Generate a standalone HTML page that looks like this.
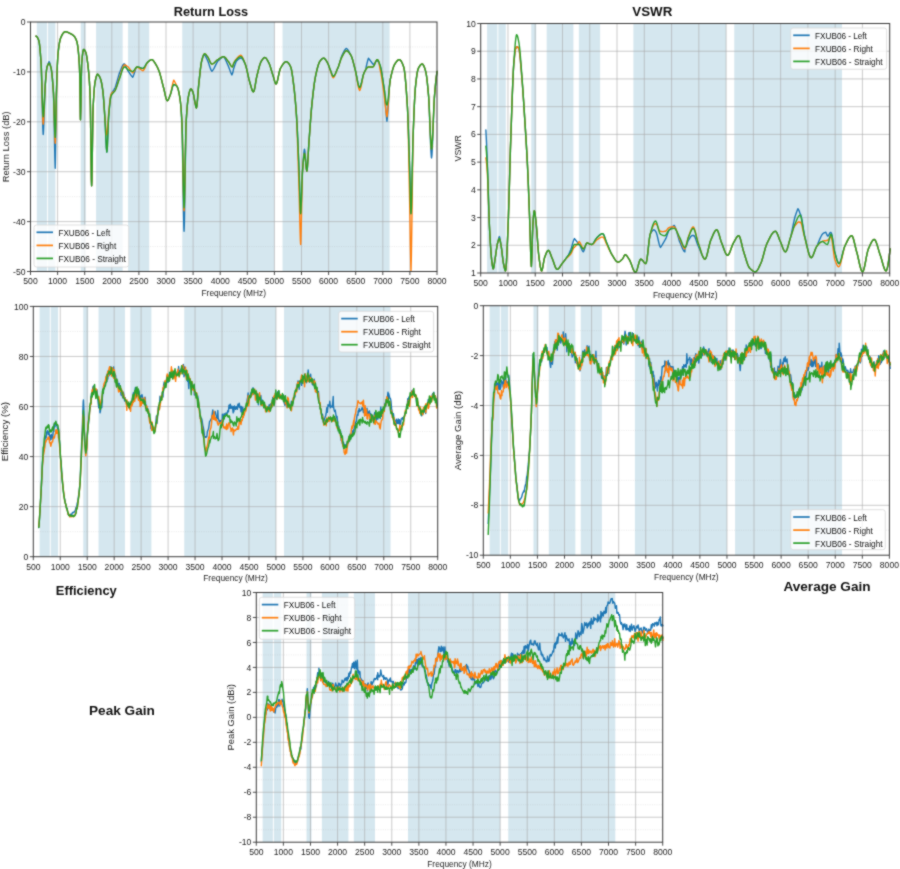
<!DOCTYPE html>
<html><head><meta charset="utf-8"><title>Antenna plots</title><style>
html,body{margin:0;padding:0;background:#fff;}
body{width:900px;height:869px;overflow:hidden;}
#wrap{width:900px;height:869px;}
svg{display:block;font-family:"Liberation Sans",sans-serif;}
.bd{fill:#d5e7ef;}
.g{stroke:#a8a8a8;stroke-opacity:0.6;stroke-width:1;fill:none;}
.gm{stroke:#a0a0a0;stroke-opacity:0.22;stroke-width:1;stroke-dasharray:1 1.3;fill:none;}
.cv{fill:none;stroke-width:1.4;stroke-linejoin:round;stroke-linecap:round;}
.sp{fill:none;stroke:#3a3a3a;stroke-width:1;}
.tk{stroke:#3a3a3a;stroke-width:0.9;}
.tl{font-size:8.6px;fill:#1a1a1a;}
.al{font-size:8.3px;fill:#1a1a1a;}
.lg{fill:#fff;fill-opacity:0.8;stroke:#d8d8d8;stroke-width:0.8;}
.ll{stroke-width:1.7;}
.lt{font-size:9.8px;fill:#111;}
.tt{font-size:13.3px;font-weight:bold;fill:#111;}
</style></head><body><div id="wrap">
<svg width="900" height="869" viewBox="0 0 900 869">
<defs><filter id="soft" x="0" y="0" width="900" height="869" filterUnits="userSpaceOnUse" color-interpolation-filters="sRGB"><feConvolveMatrix order="3" kernelMatrix="1 2 1 2 12 2 1 2 1" divisor="24" edgeMode="duplicate"/></filter></defs>
<g filter="url(#soft)">
<rect x="0" y="0" width="900" height="869" fill="#fff"/>
<rect x="36.84" y="22" width="10.24" height="249.5" class="bd"/>
<rect x="48.06" y="22" width="7.37" height="249.5" class="bd"/>
<rect x="80.74" y="22" width="4.93" height="249.5" class="bd"/>
<rect x="96.08" y="22" width="26.56" height="249.5" class="bd"/>
<rect x="128.06" y="22" width="21.14" height="249.5" class="bd"/>
<rect x="182.26" y="22" width="92.14" height="249.5" class="bd"/>
<rect x="282.53" y="22" width="107.05" height="249.5" class="bd"/>
<line x1="30.5" y1="246.55" x2="437" y2="246.55" class="gm"/>
<line x1="30.5" y1="196.65" x2="437" y2="196.65" class="gm"/>
<line x1="30.5" y1="146.75" x2="437" y2="146.75" class="gm"/>
<line x1="30.5" y1="96.85" x2="437" y2="96.85" class="gm"/>
<line x1="30.5" y1="46.95" x2="437" y2="46.95" class="gm"/>
<line x1="30.5" y1="221.6" x2="437" y2="221.6" class="g"/>
<line x1="30.5" y1="171.7" x2="437" y2="171.7" class="g"/>
<line x1="30.5" y1="121.8" x2="437" y2="121.8" class="g"/>
<line x1="30.5" y1="71.9" x2="437" y2="71.9" class="g"/>
<line x1="57.6" y1="22" x2="57.6" y2="271.5" class="g"/>
<line x1="84.7" y1="22" x2="84.7" y2="271.5" class="g"/>
<line x1="111.8" y1="22" x2="111.8" y2="271.5" class="g"/>
<line x1="138.9" y1="22" x2="138.9" y2="271.5" class="g"/>
<line x1="166" y1="22" x2="166" y2="271.5" class="g"/>
<line x1="193.1" y1="22" x2="193.1" y2="271.5" class="g"/>
<line x1="220.2" y1="22" x2="220.2" y2="271.5" class="g"/>
<line x1="247.3" y1="22" x2="247.3" y2="271.5" class="g"/>
<line x1="274.4" y1="22" x2="274.4" y2="271.5" class="g"/>
<line x1="301.5" y1="22" x2="301.5" y2="271.5" class="g"/>
<line x1="328.6" y1="22" x2="328.6" y2="271.5" class="g"/>
<line x1="355.7" y1="22" x2="355.7" y2="271.5" class="g"/>
<line x1="382.8" y1="22" x2="382.8" y2="271.5" class="g"/>
<line x1="409.9" y1="22" x2="409.9" y2="271.5" class="g"/>
<path d="M35.87 36.14L36.37 36.29L36.87 36.72L37.37 37.41L37.87 38.32L38.37 39.43L38.8 40.54L38.87 40.74L39.37 43.34L39.87 47.67L40.37 53.35L40.87 59.99L41.15 64.02L41.37 70.08L41.87 89.44L42.37 111.08L42.87 128.45L43.2 134.44L43.37 132.6L43.87 122.58L44.37 108.59L44.87 94.06L45.26 84.56L45.37 83.2L45.87 76.93L46.37 71.32L46.87 67.55L47.02 66.95L47.37 65.96L47.87 64.46L48.37 63L48.87 61.96L49.07 61.67L49.37 62.06L49.87 63.28L50.37 65.05L50.87 67.21L51.13 68.42L51.37 69.57L51.87 73.22L52.37 78.33L52.87 84.61L53.37 91.75L53.48 93.36L53.87 109.47L54.37 134.8L54.87 157.74L55.24 168.19L55.37 163.55L55.87 131.84L56.37 95.77L56.41 93.36L56.87 78.82L57.37 64.49L57.87 55.3L57.88 55.21L58.37 50.48L58.87 46.49L59.37 43.26L59.87 40.72L60.37 38.82L60.81 37.61L60.87 37.48L61.37 36.38L61.87 35.36L62.37 34.44L62.87 33.63L63.37 32.94L63.87 32.4L64.37 32L64.87 31.78L65.21 31.74L65.37 31.74L65.87 31.79L66.37 31.89L66.87 32.03L67.37 32.21L67.87 32.41L68.37 32.63L68.87 32.86L69.37 33.09L69.61 33.2L69.87 33.32L70.37 33.55L70.87 33.8L71.37 34.08L71.87 34.38L72.37 34.72L72.87 35.09L73.37 35.52L73.87 35.99L74.02 36.14L74.37 36.53L74.87 37.2L75.37 38.02L75.87 39.03L76.37 40.26L76.87 41.74L76.95 42.01L77.37 43.84L77.87 47.16L78.37 51.59L78.71 55.21L78.87 57.09L79.37 65.12L79.87 78.16L79.88 78.69L80.37 116.91L80.47 119.77L80.87 106.13L81.37 74L81.65 64.02L81.87 61.17L82.37 55.8L82.87 51.94L83.37 49.77L83.7 49.34L83.87 49.37L84.37 49.74L84.87 50.46L85.37 51.42L85.75 52.28L85.87 52.57L86.37 54.5L86.87 57.33L87.37 60.88L87.87 64.94L88.1 66.95L88.37 69.36L88.87 74.51L89.37 81.13L89.87 89.96L90.16 96.29L90.37 105.16L90.87 143.72L91.37 179.56L91.62 185.79L91.87 180.69L92.37 149.9L92.87 116.21L93.09 108.03L93.37 102.41L93.87 94.02L94.37 87.7L94.87 83.28L95.14 81.62L95.37 80.5L95.87 78.19L96.37 76.29L96.87 74.94L97.37 74.31L97.49 74.29L97.87 74.39L98.37 74.8L98.87 75.48L99.37 76.37L99.87 77.41L100.37 78.55L100.43 78.69L100.87 79.98L101.37 82L101.87 84.56L102.37 87.62L102.77 90.43L102.87 91.16L103.37 96.18L103.87 102.68L104.37 109.99L104.83 116.84L104.87 117.46L105.37 127.2L105.87 138.53L106.37 147.97L106.87 152.05L106.88 152.05L107.37 146.66L107.87 134.26L108.37 121.54L108.64 116.84L108.87 114.05L109.37 108.19L109.87 102.89L110.37 98.66L110.87 95.84L110.99 95.41L111.37 94.32L111.87 93.13L112.37 92.16L112.87 91.33L113.37 90.57L113.87 89.81L114.37 88.98L114.87 88.01L115.1 87.49L115.37 86.78L115.87 85.33L116.37 83.73L116.87 82.03L117.37 80.26L117.87 78.46L118.37 76.66L118.87 74.91L119.37 73.24L119.5 72.82L119.87 72.06L120.37 70.9L120.87 69.65L121.37 68.38L121.87 67.15L122.37 66.03L122.87 65.08L123.37 64.38L123.87 63.98L124.37 63.96L124.49 64.02L124.87 64.52L125.37 65.36L125.87 66.33L126.37 67.4L126.87 68.5L127.37 69.58L127.87 70.59L128.3 71.35L128.37 71.45L128.87 72.19L129.37 72.92L129.87 73.65L130.37 74.36L130.87 75.04L131.37 75.69L131.87 76.31L132.37 76.87L132.7 77.22L132.87 76.93L133.37 75.84L133.87 74.52L134.37 73.03L134.87 71.47L135.37 69.89L135.87 68.39L136.37 67.28L136.87 66.99L137.11 66.95L137.37 66.96L137.87 67.02L138.37 67.13L138.87 67.27L139.37 67.44L139.87 67.62L140.37 67.81L140.87 67.99L141.37 68.15L141.87 68.28L142.37 68.37L142.87 68.42L142.97 68.42L143.37 68.31L143.87 67.92L144.37 67.29L144.87 66.51L145.37 65.63L145.87 64.72L146.37 63.86L146.87 63.12L147.37 62.56L147.38 62.55L147.87 62.1L148.37 61.64L148.87 61.19L149.37 60.76L149.87 60.37L150.37 60.05L150.87 59.81L151.37 59.66L151.78 59.61L151.87 59.62L152.37 59.78L152.87 60.16L153.37 60.7L153.87 61.36L154.37 62.11L154.87 62.89L155.37 63.68L155.59 64.02L155.87 64.44L156.37 65.28L156.87 66.21L157.37 67.22L157.87 68.31L158.37 69.47L158.87 70.72L159.11 71.35L159.37 72.05L159.87 73.59L160.37 75.32L160.87 77.17L161.37 79.12L161.87 81.12L162.37 83.13L162.87 85.09L163.37 86.96L163.52 87.49L163.87 88.85L164.37 91.01L164.87 93.3L165.37 95.56L165.87 97.6L166.37 99.25L166.87 100.34L167.33 100.7L167.37 100.69L167.87 100.37L168.37 99.57L168.87 98.45L169.37 97.15L169.87 95.82L170.26 94.83L170.37 94.57L170.87 93.05L171.37 91.2L171.87 89.25L172.37 87.4L172.87 85.87L173.37 84.85L173.79 84.56L173.87 84.56L174.37 84.63L174.87 84.79L175.37 85.03L175.87 85.35L176.37 85.73L176.72 86.02L176.87 86.18L177.37 87.04L177.87 88.39L178.37 90.17L178.87 92.32L179.37 94.77L179.65 96.29L179.87 97.56L180.37 101.31L180.87 106.29L181.37 114.57L181.87 126.34L182 129.75L182.37 144.27L182.87 174.52L183.37 206.3L183.87 228.06L184.06 231.28L184.37 223.12L184.87 196.07L185.37 161.88L185.87 132.09L186.11 122.7L186.37 118.27L186.87 110.8L187.37 104.75L187.87 100.08L188.37 96.75L188.46 96.29L188.87 94.33L189.37 92.17L189.87 90.43L190.37 89.3L190.81 88.96L190.87 88.96L191.37 89.25L191.87 89.91L192.37 90.84L192.86 91.89L192.87 91.91L193.37 93.69L193.87 96.36L194.37 99.32L194.87 101.96L194.91 102.16L195.37 104.46L195.87 106.9L196.37 108.03L196.38 108.03L196.87 106.13L197.37 101.21L197.87 94.78L198.37 88.34L198.73 84.56L198.87 83.29L199.37 78.61L199.87 73.9L200.37 69.44L200.87 65.52L201.37 62.41L201.66 61.08L201.87 60.3L202.37 58.46L202.87 56.79L203.37 55.59L203.87 54.98L204.37 54.84L204.6 54.97L204.87 55.24L205.37 55.93L205.87 56.82L206.37 57.84L206.87 58.93L207.37 60.01L207.53 60.35L207.87 61.11L208.37 62.42L208.87 63.88L209.37 65.41L209.87 66.94L210.37 68.37L210.87 69.63L211.37 70.63L211.87 71.29L211.93 71.35L212.37 70.87L212.87 70.19L213.37 69.41L213.87 68.55L214.37 67.63L214.87 66.65L215.37 65.66L215.87 64.65L216.37 63.67L216.87 62.71L217.37 61.81L217.8 61.08L217.87 61.02L218.37 60.59L218.87 60.13L219.37 59.67L219.87 59.21L220.37 58.76L220.87 58.33L221.37 57.93L221.87 57.56L222.37 57.24L222.87 56.97L223.37 56.77L223.67 56.68L223.87 56.89L224.37 57.57L224.87 58.41L225.37 59.38L225.87 60.45L226.37 61.58L226.87 62.75L227.37 63.91L227.87 65.04L228.07 65.48L228.37 66.15L228.87 67.4L229.37 68.74L229.87 70.13L230.37 71.51L230.87 72.8L231.37 73.96L231.87 74.93L232.37 73.79L232.47 73.65L232.87 72.3L233.37 69.78L233.47 69.4L233.87 68.05L234.37 66.47L234.87 65L235.37 63.63L235.87 62.35L236.37 61.16L236.4 61.08L236.87 60.64L237.37 60.16L237.87 59.7L238.37 59.28L238.87 58.9L239.37 58.58L239.87 58.34L240.37 58.19L240.8 58.15L240.87 58.13L241.37 58.14L241.87 58.41L242.37 58.91L242.87 59.58L243.37 60.4L243.87 61.32L244.37 62.31L244.87 63.33L245.2 64.02L245.37 64.43L245.87 65.95L246.37 67.82L246.87 69.92L247.37 72.18L247.87 74.5L248.37 76.77L248.87 78.91L249.37 80.82L249.61 81.62L249.87 82.49L250.37 84.25L250.87 86.06L251.37 87.81L251.87 89.38L252.37 90.65L252.87 91.53L253.37 91.89L253.42 91.89L253.87 91.37L254.37 89.74L254.87 87.31L255.37 84.41L255.87 81.35L256.37 78.46L256.87 76.05L256.94 75.75L257.37 74.07L257.87 72.07L258.37 70.07L258.87 68.13L259.37 66.3L259.87 64.63L260.37 63.16L260.87 61.95L261.34 61.08L261.37 61.04L261.87 60.3L262.37 59.58L262.87 58.93L263.37 58.38L263.87 57.94L264.37 57.66L264.87 57.56L264.87 57.56L265.37 57.69L265.87 58.06L266.37 58.63L266.87 59.34L267.37 60.17L267.87 61.06L268.37 61.98L268.68 62.55L268.87 62.91L269.37 64.04L269.87 65.38L270.37 66.89L270.87 68.51L271.37 70.2L271.87 71.9L272.37 73.55L272.87 75.12L273.08 75.75L273.37 76.65L273.87 78.43L274.37 80.28L274.87 81.97L275.37 83.27L275.87 83.93L276.02 83.97L276.37 83.73L276.87 82.68L277.37 80.98L277.87 78.83L278.37 76.43L278.87 74L279.37 71.73L279.87 69.83L280.37 68.51L280.42 68.42L280.87 67.62L281.37 66.76L281.87 65.92L282.37 65.13L282.87 64.39L283.37 63.72L283.87 63.12L284.37 62.61L284.87 62.2L285.37 61.9L285.87 61.72L286.29 61.67L286.37 61.67L286.87 61.78L287.37 62.05L287.87 62.46L288.37 63.01L288.87 63.68L289.37 64.46L289.87 65.33L290.37 66.3L290.69 66.95L290.87 67.39L291.37 69.25L291.87 71.89L292.37 75.11L292.87 78.74L293.37 82.58L293.62 84.56L293.87 86.53L294.37 90.9L294.87 95.81L295.37 101.3L295.87 107.39L296.37 114.12L296.56 116.84L296.87 121.83L297.37 131.34L297.87 142.21L298.37 153.91L298.87 165.87L298.9 166.72L299.37 180.78L299.87 198.24L300.37 211.12L300.67 213.67L300.87 212.43L301.37 201.5L301.87 185.82L302.37 173.43L302.43 172.59L302.87 165.7L303.37 158.49L303.87 152.77L304.37 149.44L304.48 149.11L304.87 151.13L305.37 156.44L305.87 162.92L306.37 168.51L306.83 171.12L306.87 171.1L307.37 167.73L307.87 160.35L308.37 151.43L308.87 143.41L308.88 143.25L309.37 136.59L309.87 129.57L310.37 122.6L310.87 115.95L311.37 109.86L311.82 105.1L311.87 104.58L312.37 99.8L312.87 95.22L313.37 90.89L313.87 86.87L314.37 83.18L314.87 79.9L315.37 77.05L315.63 75.75L315.87 74.64L316.37 72.39L316.87 70.25L317.37 68.25L317.87 66.42L318.37 64.79L318.87 63.37L319.37 62.21L319.87 61.31L320.03 61.08L320.37 60.65L320.87 60.03L321.37 59.46L321.87 58.97L322.37 58.58L322.87 58.3L323.37 58.16L323.55 58.15L323.87 58.19L324.37 58.44L324.87 58.88L325.37 59.46L325.87 60.16L326.37 60.93L326.87 61.74L327.37 62.55L327.37 62.55L327.87 63.5L328.37 64.7L328.87 66.04L329.37 67.44L329.87 68.8L330.3 69.88L330.37 70.04L330.87 71.38L331.37 72.83L331.87 74.24L332.37 75.4L332.87 76.16L333.24 76.34L333.37 76.33L333.87 76.06L334.37 75.5L334.87 74.7L335.37 73.71L335.87 72.59L336.37 71.4L336.87 70.19L337.37 69.01L337.64 68.42L337.87 67.9L338.37 66.64L338.87 65.25L339.37 63.64L339.87 61.87L340.37 60.14L340.87 58.48L341.37 56.96L341.87 55.62L342.04 55.21L342.37 54.55L342.87 53.53L343.37 52.51L343.87 51.54L344.37 50.64L344.87 49.85L345.37 49.2L345.87 48.74L346.37 48.48L346.44 48.46L346.87 48.75L347.37 49.22L347.87 49.83L348.37 50.55L348.87 51.37L349.37 52.27L349.87 53.23L350.37 54.24L350.84 55.21L350.87 55.25L351.37 56.22L351.87 57.49L352.37 59.02L352.87 60.75L353.37 62.62L353.87 64.57L354.37 66.54L354.87 68.48L355.25 69.88L355.37 70.35L355.87 72.52L356.37 75.01L356.87 77.66L357.37 80.29L357.87 82.75L358.37 84.86L358.87 86.45L359.37 87.35L359.65 87.49L359.87 87.4L360.37 86.62L360.87 85.19L361.37 83.29L361.87 81.11L362.37 78.82L362.87 76.62L363.37 74.69L363.87 73.21L364.05 72.82L364.37 72.21L364.87 71.25L365.37 70.32L365.87 68.39L366.37 66.1L366.87 63.93L367.37 61.9L367.87 60.04L368.37 58.39L368.45 58.15L368.87 58.71L369.37 59.37L369.87 60.04L370.37 60.71L370.87 61.37L371.37 62.04L371.87 62.71L372.37 63.37L372.85 64.02L372.87 64.03L373.37 64.25L373.87 64.04L374.37 63.52L374.87 62.82L375.37 62.08L375.87 61.42L376.37 60.97L376.87 60.86L377.25 61.08L377.37 61.06L377.87 61.25L378.37 61.84L378.87 62.76L379.37 63.89L379.87 65.15L380.19 65.97L380.37 66.49L380.87 68.35L381.37 70.75L381.87 73.63L382.37 76.86L382.87 80.21L383.37 83.53L383.87 86.69L384 87.49L384.37 89.9L384.87 95.65L385.37 103.05L385.87 110.05L386.37 116.13L386.87 120.75L386.94 121.24L387.37 117.39L387.87 111.11L388.37 103.46L388.87 95.07L389.37 87.14L389.87 82.57L390.37 79.13L390.46 78.69L390.87 76.8L391.37 74.61L391.87 72.56L392.37 70.65L392.87 68.92L393.37 67.36L393.87 66.02L394.37 64.89L394.86 64.02L394.87 64L395.37 63.24L395.87 62.51L396.37 61.82L396.87 61.19L397.37 60.64L397.87 60.19L398.37 59.86L398.87 59.66L399.26 59.61L399.37 59.62L399.87 59.78L400.37 60.16L400.87 60.74L401.37 61.5L401.87 62.44L402.37 63.53L402.87 64.75L403.37 66.1L403.66 66.95L403.87 67.67L404.37 70.28L404.87 74.06L405.37 78.87L405.87 84.61L406.37 91.17L406.87 98.42L407.37 106.26L407.48 108.03L407.87 115.98L408.37 129.64L408.87 145.5L409.37 161.69L409.53 166.72L409.87 179.08L410.37 199.81L410.87 212.95L411 213.67L411.37 208.62L411.87 189.98L412.37 165.4L412.87 143.26L413.05 137.38L413.37 128.85L413.87 115.92L414.37 104.31L414.87 94.71L415.37 87.82L415.4 87.49L415.87 82.96L416.37 78.65L416.87 74.96L417.37 71.97L417.87 69.74L418.33 68.42L418.37 68.35L418.87 67.38L419.37 66.51L419.87 65.75L420.37 65.1L420.87 64.59L421.37 64.24L421.87 64.05L422.15 64.02L422.37 64.05L422.87 64.41L423.37 65.1L423.87 66.09L424.37 67.32L424.87 68.75L425.37 70.34L425.67 71.35L425.87 72.12L426.37 74.84L426.87 78.52L427.37 82.99L427.87 88.07L428.37 93.59L428.61 96.29L428.87 100.81L429.37 112.28L429.87 125.76L430.37 139.13L430.87 150.25L431.37 157L431.54 157.92L431.87 155.49L432.37 147.23L432.87 135.3L433.37 121.74L433.87 108.62L434.37 98.02L434.47 96.29L434.87 91.54L435.37 85.91L435.87 80.82L436.37 76.41L436.87 72.8L437.12 71.35" stroke="#1f77b4" class="cv"/>
<path d="M35.87 36.14L36.37 36.29L36.87 36.72L37.37 37.41L37.87 38.32L38.37 39.43L38.8 40.54L38.87 40.74L39.37 43.34L39.87 47.67L40.37 53.35L40.87 59.99L41.15 64.02L41.37 68.99L41.87 85.85L42.37 104.99L42.87 119.86L43.2 124.17L43.37 123.15L43.87 115.63L44.37 104.14L44.87 92.11L45.26 84.56L45.37 83.2L45.87 76.93L46.37 71.32L46.87 67.55L47.02 66.95L47.37 65.96L47.87 64.77L48.37 63.91L48.87 63.47L49.07 63.43L49.37 63.57L49.87 64.36L50.37 65.7L50.87 67.43L51.13 68.42L51.37 69.57L51.87 73.22L52.37 78.33L52.87 84.61L53.37 91.75L53.48 93.36L53.87 103.89L54.37 122.14L54.87 138L55.24 143.25L55.37 141.65L55.87 121.41L56.37 96.79L56.41 95.32L56.87 79.25L57.37 64.49L57.87 55.3L57.88 55.21L58.37 50.48L58.87 46.49L59.37 43.26L59.87 40.72L60.37 38.82L60.81 37.61L60.87 37.48L61.37 36.38L61.87 35.36L62.37 34.44L62.87 33.63L63.37 32.94L63.87 32.4L64.37 32L64.87 31.78L65.21 31.74L65.37 31.74L65.87 31.79L66.37 31.89L66.87 32.03L67.37 32.21L67.87 32.41L68.37 32.63L68.87 32.86L69.37 33.09L69.61 33.2L69.87 33.32L70.37 33.55L70.87 33.8L71.37 34.08L71.87 34.38L72.37 34.72L72.87 35.09L73.37 35.52L73.87 35.99L74.02 36.14L74.37 36.53L74.87 37.2L75.37 38.02L75.87 39.03L76.37 40.26L76.87 41.74L76.95 42.01L77.37 43.84L77.87 47.16L78.37 51.59L78.71 55.21L78.87 57.09L79.37 65.12L79.87 78.16L79.88 78.69L80.37 116.91L80.47 119.77L80.87 106.13L81.37 74L81.65 64.02L81.87 61.17L82.37 55.8L82.87 51.94L83.37 49.77L83.7 49.34L83.87 49.37L84.37 49.74L84.87 50.46L85.37 51.42L85.75 52.28L85.87 52.57L86.37 54.5L86.87 57.33L87.37 60.88L87.87 64.94L88.1 66.95L88.37 69.36L88.87 74.51L89.37 81.13L89.87 89.96L90.16 96.29L90.37 105.16L90.87 143.72L91.37 179.56L91.62 185.79L91.87 180.69L92.37 149.9L92.87 116.21L93.09 108.03L93.37 102.41L93.87 94.02L94.37 87.7L94.87 83.28L95.14 81.62L95.37 80.5L95.87 78.19L96.37 76.29L96.87 74.94L97.37 74.31L97.49 74.29L97.87 74.39L98.37 74.8L98.87 75.48L99.37 76.37L99.87 77.41L100.37 78.55L100.43 78.69L100.87 79.98L101.37 82L101.87 84.56L102.37 87.62L102.77 90.43L102.87 91.16L103.37 96.18L103.87 102.68L104.37 109.99L104.83 116.84L104.87 117.11L105.37 122.56L105.87 129.6L106.37 134.76L106.87 134.55L106.88 134.44L107.37 133.11L107.87 124.89L108.37 116.33L108.64 113.9L108.87 111.22L109.37 105.66L109.87 100.83L110.37 97.08L110.87 94.74L110.99 94.43L111.37 93.7L111.87 92.98L112.37 92.48L112.87 92.13L113.37 91.85L113.87 91.57L114.37 91.22L114.87 90.72L115.1 90.43L115.37 89.83L115.87 88.61L116.37 87.23L116.87 85.75L117.37 84.2L117.87 82.62L118.37 81.05L118.87 79.52L119.37 78.07L119.5 77.71L119.87 76.65L120.37 75.09L120.87 73.43L121.37 71.76L121.87 70.12L122.37 68.59L122.87 67.24L123.37 66.13L123.87 65.33L124.37 64.9L124.49 64.86L124.87 64.85L125.37 64.99L125.87 65.28L126.37 65.66L126.87 66.07L127.37 66.47L127.87 66.78L128.3 66.95L128.37 67.05L128.87 67.79L129.37 68.52L129.87 69.25L130.37 69.96L130.87 70.64L131.37 71.29L131.87 71.91L132.37 72.47L132.7 72.82L132.87 72.75L133.37 72.33L133.87 71.67L134.37 70.85L134.87 69.95L135.37 69.05L135.87 68.21L136.37 67.53L136.87 67.07L137.11 66.95L137.37 67.06L137.87 67.32L138.37 67.63L138.87 67.97L139.37 68.34L139.87 68.73L140.37 69.11L140.87 69.49L141.37 69.85L141.87 70.19L142.37 70.48L142.87 70.72L142.97 70.77L143.37 70.45L143.87 69.79L144.37 68.9L144.87 67.84L145.37 66.7L145.87 65.53L146.37 64.4L146.87 63.39L147.37 62.56L147.38 62.55L147.87 62.1L148.37 61.64L148.87 61.19L149.37 60.76L149.87 60.37L150.37 60.05L150.87 59.81L151.37 59.66L151.78 59.61L151.87 59.62L152.37 59.78L152.87 60.16L153.37 60.7L153.87 61.36L154.37 62.11L154.87 62.89L155.37 63.68L155.59 64.02L155.87 64.44L156.37 65.28L156.87 66.21L157.37 67.22L157.87 68.31L158.37 69.47L158.87 70.72L159.11 71.35L159.37 72.05L159.87 73.59L160.37 75.32L160.87 77.17L161.37 79.12L161.87 81.12L162.37 83.13L162.87 85.09L163.37 86.96L163.52 87.49L163.87 88.85L164.37 91.01L164.87 93.3L165.37 95.56L165.87 97.6L166.37 99.25L166.87 100.34L167.33 100.7L167.37 100.69L167.87 100.37L168.37 99.57L168.87 98.45L169.37 97.15L169.87 95.82L170.26 94.83L170.37 94.57L170.87 93.02L171.37 90.43L171.87 87.73L172.37 85.13L172.87 82.84L173.37 81.08L173.79 80.16L173.87 80.28L174.37 81.1L174.87 82.01L175.37 83.01L175.87 84.07L176.37 85.2L176.72 86.02L176.87 86.18L177.37 87.04L177.87 88.39L178.37 90.17L178.87 92.32L179.37 94.77L179.65 96.29L179.87 97.56L180.37 101.31L180.87 106.29L181.37 112.6L181.87 120.37L182 122.7L182.37 134.82L182.87 161.79L183.37 190.28L183.87 208.75L184.06 210.74L184.37 205.71L184.87 183.65L185.37 154.46L185.87 129.68L186.11 122.7L186.37 118.27L186.87 110.8L187.37 104.75L187.87 100.08L188.37 96.75L188.46 96.29L188.87 94.33L189.37 92.17L189.87 90.43L190.37 89.3L190.81 88.96L190.87 88.96L191.37 89.25L191.87 89.91L192.37 90.84L192.86 91.89L192.87 91.91L193.37 93.69L193.87 96.36L194.37 99.32L194.87 101.96L194.91 102.16L195.37 104.46L195.87 106.9L196.37 108.03L196.38 108.03L196.87 106.13L197.37 101.21L197.87 94.78L198.37 88.34L198.73 84.56L198.87 83.29L199.37 78.61L199.87 73.9L200.37 69.44L200.87 65.52L201.37 62.41L201.66 61.08L201.87 60.3L202.37 58.46L202.87 56.79L203.37 55.39L203.87 54.36L204.37 53.81L204.6 53.75L204.87 53.79L205.37 54.06L205.87 54.54L206.37 55.14L206.87 55.81L207.37 56.48L207.53 56.68L207.87 57.16L208.37 58.05L208.87 59.1L209.37 60.21L209.87 61.32L210.37 62.34L210.87 63.18L211.37 63.76L211.87 64.01L211.93 64.02L212.37 63.96L212.87 63.79L213.37 63.51L213.87 63.15L214.37 62.73L214.87 62.25L215.37 61.76L215.87 61.25L216.37 60.77L216.87 60.31L217.37 59.91L217.8 59.61L217.87 59.57L218.37 59.26L218.87 58.93L219.37 58.59L219.87 58.26L220.37 57.93L220.87 57.63L221.37 57.35L221.87 57.11L222.37 56.91L222.87 56.77L223.37 56.69L223.67 56.68L223.87 56.7L224.37 56.87L224.87 57.21L225.37 57.68L225.87 58.25L226.37 58.88L226.87 59.55L227.37 60.21L227.87 60.84L228.07 61.08L228.37 61.45L228.87 62.2L229.37 63.05L229.87 63.94L230.37 64.81L230.87 65.6L231.37 66.26L231.87 66.73L232.37 66.88L232.47 66.87L232.87 65.98L233.37 64.04L233.47 63.77L233.87 62.9L234.37 61.9L234.87 61.01L235.37 60.22L235.87 59.52L236.37 58.92L236.4 58.88L236.87 58.36L237.37 57.8L237.87 57.26L238.37 56.75L238.87 56.29L239.37 55.89L239.87 55.56L240.37 55.33L240.8 55.21L240.87 55.24L241.37 55.58L241.87 56.19L242.37 57.01L242.87 58.02L243.37 59.17L243.87 60.43L244.37 61.75L244.87 63.11L245.2 64.02L245.37 64.43L245.87 65.95L246.37 67.82L246.87 69.92L247.37 72.18L247.87 74.5L248.37 76.77L248.87 78.91L249.37 80.82L249.61 81.62L249.87 82.49L250.37 84.25L250.87 86.06L251.37 87.81L251.87 89.38L252.37 90.65L252.87 91.53L253.37 91.89L253.42 91.89L253.87 91.37L254.37 89.74L254.87 87.31L255.37 84.41L255.87 81.35L256.37 78.46L256.87 76.05L256.94 75.75L257.37 74.07L257.87 72.07L258.37 70.07L258.87 68.13L259.37 66.3L259.87 64.63L260.37 63.16L260.87 61.95L261.34 61.08L261.37 61.04L261.87 60.3L262.37 59.58L262.87 58.93L263.37 58.38L263.87 57.94L264.37 57.66L264.87 57.56L264.87 57.56L265.37 57.69L265.87 58.06L266.37 58.63L266.87 59.34L267.37 60.17L267.87 61.06L268.37 61.98L268.68 62.55L268.87 62.91L269.37 64.04L269.87 65.38L270.37 66.89L270.87 68.51L271.37 70.2L271.87 71.9L272.37 73.55L272.87 75.12L273.08 75.75L273.37 76.65L273.87 78.43L274.37 80.28L274.87 81.97L275.37 83.27L275.87 83.93L276.02 83.97L276.37 83.73L276.87 82.68L277.37 80.98L277.87 78.83L278.37 76.43L278.87 74L279.37 71.73L279.87 69.83L280.37 68.51L280.42 68.42L280.87 67.62L281.37 66.76L281.87 65.92L282.37 65.13L282.87 64.39L283.37 63.72L283.87 63.12L284.37 62.61L284.87 62.2L285.37 61.9L285.87 61.72L286.29 61.67L286.37 61.67L286.87 61.78L287.37 62.05L287.87 62.46L288.37 63.01L288.87 63.68L289.37 64.46L289.87 65.33L290.37 66.3L290.69 66.95L290.87 67.39L291.37 69.25L291.87 71.89L292.37 75.11L292.87 78.74L293.37 82.58L293.62 84.56L293.87 86.53L294.37 90.9L294.87 95.81L295.37 101.3L295.87 107.39L296.37 114.12L296.56 116.84L296.87 124.17L297.37 137.43L297.87 152.05L298.37 167.5L298.87 183.21L298.9 184.33L299.37 201.87L299.87 223.08L300.37 239.7L300.67 244.48L300.87 239.68L301.37 219.99L301.87 195.57L302.37 174.43L302.43 172.59L302.87 166.65L303.37 160.51L303.87 155.86L304.37 153.6L304.48 153.52L304.87 154.81L305.37 159.18L305.87 164.71L306.37 169.37L306.83 171.12L306.87 171.1L307.37 167.73L307.87 160.35L308.37 151.43L308.87 143.41L308.88 143.25L309.37 136.59L309.87 129.57L310.37 122.6L310.87 115.95L311.37 109.86L311.82 105.1L311.87 104.58L312.37 99.8L312.87 95.22L313.37 90.89L313.87 86.87L314.37 83.18L314.87 79.9L315.37 77.05L315.63 75.75L315.87 74.64L316.37 72.39L316.87 70.25L317.37 68.25L317.87 66.42L318.37 64.79L318.87 63.37L319.37 62.21L319.87 61.31L320.03 61.08L320.37 60.65L320.87 60.03L321.37 59.46L321.87 58.97L322.37 58.58L322.87 58.3L323.37 58.16L323.55 58.15L323.87 58.19L324.37 58.44L324.87 58.88L325.37 59.46L325.87 60.16L326.37 60.93L326.87 61.74L327.37 62.55L327.37 62.55L327.87 63.5L328.37 64.7L328.87 66.05L329.37 67.62L329.87 69.15L330.3 70.37L330.37 70.55L330.87 72.05L331.37 73.68L331.87 75.25L332.37 76.58L332.87 77.5L333.24 77.81L333.37 77.73L333.87 77.22L334.37 76.4L334.87 75.35L335.37 74.11L335.87 72.74L336.37 71.4L336.87 70.19L337.37 69.01L337.64 68.42L337.87 67.9L338.37 66.64L338.87 65.25L339.37 63.77L339.87 62.26L340.37 60.77L340.87 59.36L341.37 58.09L341.87 57L342.04 56.68L342.37 56.09L342.87 55.16L343.37 54.25L343.87 53.37L344.37 52.57L344.87 51.88L345.37 51.34L345.87 50.97L346.37 50.81L346.44 50.81L346.87 50.87L347.37 51.08L347.87 51.42L348.37 51.87L348.87 52.43L349.37 53.06L349.87 53.75L350.37 54.49L350.84 55.21L350.87 55.25L351.37 56.22L351.87 57.49L352.37 59.02L352.87 60.75L353.37 62.62L353.87 64.57L354.37 66.54L354.87 68.48L355.25 69.88L355.37 70.43L355.87 72.93L356.37 75.76L356.87 78.74L357.37 81.71L357.87 84.5L358.37 86.94L358.87 88.86L359.37 90.1L359.65 90.43L359.87 90.19L360.37 89.08L360.87 87.31L361.37 85.08L361.87 82.56L362.37 79.94L362.87 77.41L363.37 75.14L363.87 73.32L364.05 72.82L364.37 72.21L364.87 71.25L365.37 70.32L365.87 69.45L366.37 68.66L366.87 67.99L367.37 67.46L367.87 67.1L368.37 66.95L368.45 66.95L368.87 66.95L369.37 66.95L369.87 66.95L370.37 66.95L370.87 66.95L371.37 66.95L371.87 66.95L372.37 66.95L372.85 66.95L372.87 66.95L373.37 66.67L373.87 65.96L374.37 64.94L374.87 63.74L375.37 62.5L375.87 61.34L376.37 60.38L376.87 59.77L377.25 59.61L377.37 59.63L377.87 59.98L378.37 60.75L378.87 62.28L379.37 65.07L379.87 68L380.19 69.88L380.37 70.53L380.87 72.75L381.37 75.51L381.87 78.68L382.37 82.1L382.87 85.64L383.37 89.16L383.87 92.51L384 93.36L384.37 96.5L384.87 101.33L385.37 106.29L385.87 110.86L386.37 114.5L386.87 116.68L386.94 116.84L387.37 113.8L387.87 108.45L388.37 101.74L388.87 94.29L389.37 87.14L389.87 82.57L390.37 79.13L390.46 78.69L390.87 76.8L391.37 74.61L391.87 72.56L392.37 70.65L392.87 68.92L393.37 67.36L393.87 66.02L394.37 64.89L394.86 64.02L394.87 64L395.37 63.24L395.87 62.51L396.37 61.82L396.87 61.19L397.37 60.64L397.87 60.19L398.37 59.86L398.87 59.66L399.26 59.61L399.37 59.62L399.87 59.78L400.37 60.16L400.87 60.74L401.37 61.5L401.87 62.44L402.37 63.53L402.87 64.75L403.37 66.1L403.66 66.95L403.87 67.67L404.37 70.28L404.87 74.06L405.37 78.87L405.87 84.61L406.37 91.17L406.87 98.42L407.37 106.26L407.48 108.03L407.87 115.98L408.37 135.58L408.87 161.18L409.37 187.12L409.53 195.33L409.87 214.26L410.37 244.74L410.87 267.63L411 270.89L411.37 255.54L411.87 222.97L412.37 184.46L412.87 148.38L413.05 137.38L413.37 128.85L413.87 115.92L414.37 104.31L414.87 94.71L415.37 87.82L415.4 87.49L415.87 82.96L416.37 78.65L416.87 74.96L417.37 71.97L417.87 69.74L418.33 68.42L418.37 68.35L418.87 67.38L419.37 66.51L419.87 65.75L420.37 65.1L420.87 64.59L421.37 64.24L421.87 64.05L422.15 64.02L422.37 64.05L422.87 64.41L423.37 65.1L423.87 66.09L424.37 67.32L424.87 68.75L425.37 70.34L425.67 71.35L425.87 72.12L426.37 74.84L426.87 78.52L427.37 82.99L427.87 88.07L428.37 93.59L428.61 96.29L428.87 100.02L429.37 109.99L429.87 121.97L430.37 133.84L430.87 143.46L431.37 148.71L431.54 149.11L431.87 147.67L432.37 140.92L432.87 130.48L433.37 118.42L433.87 106.81L434.37 97.7L434.47 96.29L434.87 91.54L435.37 85.91L435.87 80.82L436.37 76.41L436.87 72.8L437.12 71.35" stroke="#ff7f0e" class="cv"/>
<path d="M35.87 36.14L36.37 36.29L36.87 36.72L37.37 37.41L37.87 38.32L38.37 39.43L38.8 40.54L38.87 40.74L39.37 43.34L39.87 47.67L40.37 53.35L40.87 59.99L41.15 64.02L41.37 68.21L41.87 83.29L42.37 100.64L42.87 113.73L43.2 116.84L43.37 116.4L43.87 110.66L44.37 100.96L44.87 90.72L45.26 84.56L45.37 83.2L45.87 76.93L46.37 71.32L46.87 67.55L47.02 66.95L47.37 65.96L47.87 64.77L48.37 63.91L48.87 63.47L49.07 63.43L49.37 63.57L49.87 64.36L50.37 65.7L50.87 67.43L51.13 68.42L51.37 69.57L51.87 73.22L52.37 78.33L52.87 84.61L53.37 91.75L53.48 93.36L53.87 102.58L54.37 119.16L54.87 133.35L55.24 137.38L55.37 136.22L55.87 117.65L56.37 94.69L56.41 93.36L56.87 78.82L57.37 64.49L57.87 55.3L57.88 55.21L58.37 50.48L58.87 46.49L59.37 43.26L59.87 40.72L60.37 38.82L60.81 37.61L60.87 37.48L61.37 36.38L61.87 35.36L62.37 34.44L62.87 33.63L63.37 32.94L63.87 32.4L64.37 32L64.87 31.78L65.21 31.74L65.37 31.74L65.87 31.79L66.37 31.89L66.87 32.03L67.37 32.21L67.87 32.41L68.37 32.63L68.87 32.86L69.37 33.09L69.61 33.2L69.87 33.32L70.37 33.55L70.87 33.8L71.37 34.08L71.87 34.38L72.37 34.72L72.87 35.09L73.37 35.52L73.87 35.99L74.02 36.14L74.37 36.53L74.87 37.2L75.37 38.02L75.87 39.03L76.37 40.26L76.87 41.74L76.95 42.01L77.37 43.84L77.87 47.16L78.37 51.59L78.71 55.21L78.87 57.09L79.37 65.12L79.87 78.16L79.88 78.69L80.37 116.91L80.47 119.77L80.87 106.13L81.37 74L81.65 64.02L81.87 61.17L82.37 55.8L82.87 51.94L83.37 49.77L83.7 49.34L83.87 49.37L84.37 49.74L84.87 50.46L85.37 51.42L85.75 52.28L85.87 52.57L86.37 54.5L86.87 57.33L87.37 60.88L87.87 64.94L88.1 66.95L88.37 69.36L88.87 74.51L89.37 81.13L89.87 89.96L90.16 96.29L90.37 105.16L90.87 143.72L91.37 179.56L91.62 185.79L91.87 180.69L92.37 149.9L92.87 116.21L93.09 108.03L93.37 102.41L93.87 94.02L94.37 87.7L94.87 83.28L95.14 81.62L95.37 80.5L95.87 78.19L96.37 76.29L96.87 74.94L97.37 74.31L97.49 74.29L97.87 74.39L98.37 74.8L98.87 75.48L99.37 76.37L99.87 77.41L100.37 78.55L100.43 78.69L100.87 79.98L101.37 82L101.87 84.56L102.37 87.62L102.77 90.43L102.87 91.16L103.37 96.18L103.87 102.68L104.37 109.99L104.83 116.84L104.87 117.46L105.37 127.2L105.87 138.53L106.37 147.97L106.87 152.05L106.88 152.05L107.37 146.66L107.87 134.26L108.37 121.54L108.64 116.84L108.87 114.05L109.37 108.26L109.87 103.21L110.37 99.23L110.87 96.66L110.99 96.29L111.37 95.39L111.87 94.45L112.37 93.73L112.87 93.14L113.37 92.64L113.87 92.13L114.37 91.55L114.87 90.83L115.1 90.43L115.37 89.89L115.87 88.78L116.37 87.52L116.87 86.15L117.37 84.71L117.87 83.24L118.37 81.78L118.87 80.36L119.37 79.02L119.5 78.69L119.87 77.71L120.37 76.26L120.87 74.72L121.37 73.15L121.87 71.62L122.37 70.21L122.87 68.97L123.37 67.97L123.87 67.28L124.37 66.96L124.49 66.95L124.87 67.02L125.37 67.27L125.87 67.68L126.37 68.17L126.87 68.69L127.37 69.19L127.87 69.62L128.3 69.88L128.37 69.92L128.87 70.15L129.37 70.39L129.87 70.62L130.37 70.82L130.87 71.01L131.37 71.16L131.87 71.27L132.37 71.34L132.7 71.35L132.87 71.33L133.37 71.08L133.87 70.59L134.37 69.94L134.87 69.21L135.37 68.47L135.87 67.8L136.37 67.28L136.87 66.99L137.11 66.95L137.37 66.96L137.87 67.02L138.37 67.13L138.87 67.27L139.37 67.44L139.87 67.62L140.37 67.81L140.87 67.99L141.37 68.15L141.87 68.28L142.37 68.37L142.87 68.42L142.97 68.42L143.37 68.31L143.87 67.92L144.37 67.29L144.87 66.51L145.37 65.63L145.87 64.72L146.37 63.86L146.87 63.12L147.37 62.56L147.38 62.55L147.87 62.1L148.37 61.64L148.87 61.19L149.37 60.76L149.87 60.37L150.37 60.05L150.87 59.81L151.37 59.66L151.78 59.61L151.87 59.62L152.37 59.78L152.87 60.16L153.37 60.7L153.87 61.36L154.37 62.11L154.87 62.89L155.37 63.68L155.59 64.02L155.87 64.44L156.37 65.28L156.87 66.21L157.37 67.22L157.87 68.31L158.37 69.47L158.87 70.72L159.11 71.35L159.37 72.05L159.87 73.59L160.37 75.32L160.87 77.17L161.37 79.12L161.87 81.12L162.37 83.13L162.87 85.09L163.37 86.96L163.52 87.49L163.87 88.85L164.37 91.01L164.87 93.3L165.37 95.56L165.87 97.6L166.37 99.25L166.87 100.34L167.33 100.7L167.37 100.69L167.87 100.37L168.37 99.57L168.87 98.45L169.37 97.15L169.87 95.82L170.26 94.83L170.37 94.57L170.87 93.05L171.37 91.2L171.87 89.25L172.37 87.4L172.87 85.87L173.37 84.85L173.79 84.56L173.87 84.56L174.37 84.63L174.87 84.79L175.37 85.03L175.87 85.35L176.37 85.73L176.72 86.02L176.87 86.18L177.37 87.04L177.87 88.39L178.37 90.17L178.87 92.32L179.37 94.77L179.65 96.29L179.87 97.56L180.37 101.31L180.87 106.29L181.37 112.6L181.87 120.37L182 122.7L182.37 134.3L182.87 160.55L183.37 188.32L183.87 206.08L184.06 207.8L184.37 203.22L184.87 181.88L185.37 153.4L185.87 129.33L186.11 122.7L186.37 118.27L186.87 110.8L187.37 104.75L187.87 100.08L188.37 96.75L188.46 96.29L188.87 94.33L189.37 92.17L189.87 90.43L190.37 89.3L190.81 88.96L190.87 88.96L191.37 89.25L191.87 89.91L192.37 90.84L192.86 91.89L192.87 91.91L193.37 93.69L193.87 96.36L194.37 99.32L194.87 101.96L194.91 102.16L195.37 104.46L195.87 106.9L196.37 108.03L196.38 108.03L196.87 106.13L197.37 101.21L197.87 94.78L198.37 88.34L198.73 84.56L198.87 83.29L199.37 78.61L199.87 73.9L200.37 69.44L200.87 65.52L201.37 62.41L201.66 61.08L201.87 60.3L202.37 58.46L202.87 56.79L203.37 55.39L203.87 54.36L204.37 53.81L204.6 53.75L204.87 53.79L205.37 54.06L205.87 54.54L206.37 55.14L206.87 55.81L207.37 56.48L207.53 56.68L207.87 57.16L208.37 58.05L208.87 59.1L209.37 60.21L209.87 61.32L210.37 62.34L210.87 63.18L211.37 63.76L211.87 64.01L211.93 64.02L212.37 63.96L212.87 63.79L213.37 63.51L213.87 63.15L214.37 62.73L214.87 62.25L215.37 61.76L215.87 61.25L216.37 60.77L216.87 60.31L217.37 59.91L217.8 59.61L217.87 59.57L218.37 59.26L218.87 58.93L219.37 58.59L219.87 58.26L220.37 57.93L220.87 57.63L221.37 57.35L221.87 57.11L222.37 56.91L222.87 56.77L223.37 56.69L223.67 56.68L223.87 56.7L224.37 56.87L224.87 57.21L225.37 57.68L225.87 58.25L226.37 58.88L226.87 59.55L227.37 60.21L227.87 60.84L228.07 61.08L228.37 61.45L228.87 62.2L229.37 63.05L229.87 63.94L230.37 64.81L230.87 65.6L231.37 66.26L231.87 66.73L232.37 66.94L232.47 66.95L232.87 66.13L233.37 64.26L233.47 64.02L233.87 63.21L234.37 62.3L234.87 61.49L235.37 60.78L235.87 60.17L236.37 59.65L236.4 59.61L236.87 59.17L237.37 58.69L237.87 58.24L238.37 57.81L238.87 57.43L239.37 57.11L239.87 56.87L240.37 56.72L240.8 56.68L240.87 56.68L241.37 56.86L241.87 57.3L242.37 57.96L242.87 58.8L243.37 59.78L243.87 60.87L244.37 62.03L244.87 63.22L245.2 64.02L245.37 64.43L245.87 65.95L246.37 67.82L246.87 69.92L247.37 72.18L247.87 74.5L248.37 76.77L248.87 78.91L249.37 80.82L249.61 81.62L249.87 82.49L250.37 84.25L250.87 86.06L251.37 87.81L251.87 89.38L252.37 90.65L252.87 91.53L253.37 91.89L253.42 91.89L253.87 91.37L254.37 89.74L254.87 87.31L255.37 84.41L255.87 81.35L256.37 78.46L256.87 76.05L256.94 75.75L257.37 74.07L257.87 72.07L258.37 70.07L258.87 68.13L259.37 66.3L259.87 64.63L260.37 63.16L260.87 61.95L261.34 61.08L261.37 61.04L261.87 60.3L262.37 59.58L262.87 58.93L263.37 58.38L263.87 57.94L264.37 57.66L264.87 57.56L264.87 57.56L265.37 57.69L265.87 58.06L266.37 58.63L266.87 59.34L267.37 60.17L267.87 61.06L268.37 61.98L268.68 62.55L268.87 62.91L269.37 64.04L269.87 65.38L270.37 66.89L270.87 68.51L271.37 70.2L271.87 71.9L272.37 73.55L272.87 75.12L273.08 75.75L273.37 76.65L273.87 78.43L274.37 80.28L274.87 81.97L275.37 83.27L275.87 83.93L276.02 83.97L276.37 83.73L276.87 82.68L277.37 80.98L277.87 78.83L278.37 76.43L278.87 74L279.37 71.73L279.87 69.83L280.37 68.51L280.42 68.42L280.87 67.62L281.37 66.76L281.87 65.92L282.37 65.13L282.87 64.39L283.37 63.72L283.87 63.12L284.37 62.61L284.87 62.2L285.37 61.9L285.87 61.72L286.29 61.67L286.37 61.67L286.87 61.78L287.37 62.05L287.87 62.46L288.37 63.01L288.87 63.68L289.37 64.46L289.87 65.33L290.37 66.3L290.69 66.95L290.87 67.39L291.37 69.25L291.87 71.89L292.37 75.11L292.87 78.74L293.37 82.58L293.62 84.56L293.87 86.53L294.37 90.9L294.87 95.81L295.37 101.3L295.87 107.39L296.37 114.12L296.56 116.84L296.87 121.83L297.37 131.34L297.87 142.21L298.37 153.91L298.87 165.87L298.9 166.72L299.37 180.78L299.87 198.24L300.37 211.12L300.67 213.67L300.87 212.43L301.37 201.5L301.87 185.82L302.37 173.43L302.43 172.59L302.87 166.65L303.37 160.51L303.87 155.86L304.37 153.6L304.48 153.52L304.87 154.81L305.37 159.18L305.87 164.71L306.37 169.37L306.83 171.12L306.87 171.1L307.37 167.73L307.87 160.35L308.37 151.43L308.87 143.41L308.88 143.25L309.37 136.59L309.87 129.57L310.37 122.6L310.87 115.95L311.37 109.86L311.82 105.1L311.87 104.58L312.37 99.8L312.87 95.22L313.37 90.89L313.87 86.87L314.37 83.18L314.87 79.9L315.37 77.05L315.63 75.75L315.87 74.64L316.37 72.39L316.87 70.25L317.37 68.25L317.87 66.42L318.37 64.79L318.87 63.37L319.37 62.21L319.87 61.31L320.03 61.08L320.37 60.65L320.87 60.03L321.37 59.46L321.87 58.97L322.37 58.58L322.87 58.3L323.37 58.16L323.55 58.15L323.87 58.19L324.37 58.44L324.87 58.88L325.37 59.46L325.87 60.16L326.37 60.93L326.87 61.74L327.37 62.55L327.37 62.55L327.87 63.5L328.37 64.7L328.87 66.04L329.37 67.44L329.87 68.8L330.3 69.88L330.37 70.04L330.87 71.38L331.37 72.83L331.87 74.24L332.37 75.4L332.87 76.16L333.24 76.34L333.37 76.33L333.87 76.06L334.37 75.5L334.87 74.7L335.37 73.71L335.87 72.59L336.37 71.4L336.87 70.19L337.37 69.01L337.64 68.42L337.87 67.9L338.37 66.64L338.87 65.25L339.37 63.77L339.87 62.26L340.37 60.77L340.87 59.36L341.37 58.09L341.87 57L342.04 56.68L342.37 56.09L342.87 55.16L343.37 54.25L343.87 53.37L344.37 52.57L344.87 51.88L345.37 51.34L345.87 50.97L346.37 50.81L346.44 50.81L346.87 50.87L347.37 51.08L347.87 51.42L348.37 51.87L348.87 52.43L349.37 53.06L349.87 53.75L350.37 54.49L350.84 55.21L350.87 55.25L351.37 56.22L351.87 57.49L352.37 59.02L352.87 60.75L353.37 62.62L353.87 64.57L354.37 66.54L354.87 68.48L355.25 69.88L355.37 70.35L355.87 72.52L356.37 75.01L356.87 77.66L357.37 80.29L357.87 82.75L358.37 84.86L358.87 86.45L359.37 87.35L359.65 87.49L359.87 87.4L360.37 86.62L360.87 85.19L361.37 83.29L361.87 81.11L362.37 78.82L362.87 76.62L363.37 74.69L363.87 73.21L364.05 72.82L364.37 72.21L364.87 71.25L365.37 70.32L365.87 69.45L366.37 68.66L366.87 67.99L367.37 67.46L367.87 67.1L368.37 66.95L368.45 66.95L368.87 66.95L369.37 66.95L369.87 66.95L370.37 66.95L370.87 66.95L371.37 66.95L371.87 66.95L372.37 66.95L372.85 66.95L372.87 66.95L373.37 66.67L373.87 65.96L374.37 64.94L374.87 63.74L375.37 62.5L375.87 61.34L376.37 60.38L376.87 59.77L377.25 59.61L377.37 59.63L377.87 59.98L378.37 60.75L378.87 61.83L379.37 63.13L379.87 64.55L380.19 65.48L380.37 66.06L380.87 68.09L381.37 70.66L381.87 73.63L382.37 76.86L382.87 80.21L383.37 83.53L383.87 86.69L384 87.49L384.37 89.9L384.87 93.72L385.37 97.69L385.87 101.25L386.37 103.9L386.87 105.08L386.94 105.1L387.37 104.22L387.87 101.38L388.37 97.16L388.87 92.21L389.37 87.14L389.87 82.57L390.37 79.13L390.46 78.69L390.87 76.8L391.37 74.61L391.87 72.56L392.37 70.65L392.87 68.92L393.37 67.36L393.87 66.02L394.37 64.89L394.86 64.02L394.87 64L395.37 63.24L395.87 62.51L396.37 61.82L396.87 61.19L397.37 60.64L397.87 60.19L398.37 59.86L398.87 59.66L399.26 59.61L399.37 59.62L399.87 59.78L400.37 60.16L400.87 60.74L401.37 61.5L401.87 62.44L402.37 63.53L402.87 64.75L403.37 66.1L403.66 66.95L403.87 67.67L404.37 70.28L404.87 74.06L405.37 78.87L405.87 84.61L406.37 91.17L406.87 98.42L407.37 106.26L407.48 108.03L407.87 115.98L408.37 129.64L408.87 145.5L409.37 161.69L409.53 166.72L409.87 179.08L410.37 199.81L410.87 212.95L411 213.67L411.37 208.62L411.87 189.98L412.37 165.4L412.87 143.26L413.05 137.38L413.37 128.85L413.87 115.92L414.37 104.31L414.87 94.71L415.37 87.82L415.4 87.49L415.87 82.96L416.37 78.65L416.87 74.96L417.37 71.97L417.87 69.74L418.33 68.42L418.37 68.35L418.87 67.38L419.37 66.51L419.87 65.75L420.37 65.1L420.87 64.59L421.37 64.24L421.87 64.05L422.15 64.02L422.37 64.05L422.87 64.41L423.37 65.1L423.87 66.09L424.37 67.32L424.87 68.75L425.37 70.34L425.67 71.35L425.87 72.12L426.37 74.84L426.87 78.52L427.37 82.99L427.87 88.07L428.37 93.59L428.61 96.29L428.87 100.02L429.37 109.99L429.87 121.97L430.37 133.84L430.87 143.46L431.37 148.71L431.54 149.11L431.87 147.67L432.37 140.92L432.87 130.48L433.37 118.42L433.87 106.81L434.37 97.7L434.47 96.29L434.87 91.54L435.37 85.91L435.87 80.82L436.37 76.41L436.87 72.8L437.12 71.35" stroke="#2ca02c" class="cv"/>
<rect x="30.5" y="22" width="406.5" height="249.5" class="sp"/>
<line x1="30.5" y1="271.5" x2="30.5" y2="275" class="tk"/>
<text x="30.5" y="284.3" class="tl" text-anchor="middle">500</text>
<line x1="57.6" y1="271.5" x2="57.6" y2="275" class="tk"/>
<text x="57.6" y="284.3" class="tl" text-anchor="middle">1000</text>
<line x1="84.7" y1="271.5" x2="84.7" y2="275" class="tk"/>
<text x="84.7" y="284.3" class="tl" text-anchor="middle">1500</text>
<line x1="111.8" y1="271.5" x2="111.8" y2="275" class="tk"/>
<text x="111.8" y="284.3" class="tl" text-anchor="middle">2000</text>
<line x1="138.9" y1="271.5" x2="138.9" y2="275" class="tk"/>
<text x="138.9" y="284.3" class="tl" text-anchor="middle">2500</text>
<line x1="166" y1="271.5" x2="166" y2="275" class="tk"/>
<text x="166" y="284.3" class="tl" text-anchor="middle">3000</text>
<line x1="193.1" y1="271.5" x2="193.1" y2="275" class="tk"/>
<text x="193.1" y="284.3" class="tl" text-anchor="middle">3500</text>
<line x1="220.2" y1="271.5" x2="220.2" y2="275" class="tk"/>
<text x="220.2" y="284.3" class="tl" text-anchor="middle">4000</text>
<line x1="247.3" y1="271.5" x2="247.3" y2="275" class="tk"/>
<text x="247.3" y="284.3" class="tl" text-anchor="middle">4500</text>
<line x1="274.4" y1="271.5" x2="274.4" y2="275" class="tk"/>
<text x="274.4" y="284.3" class="tl" text-anchor="middle">5000</text>
<line x1="301.5" y1="271.5" x2="301.5" y2="275" class="tk"/>
<text x="301.5" y="284.3" class="tl" text-anchor="middle">5500</text>
<line x1="328.6" y1="271.5" x2="328.6" y2="275" class="tk"/>
<text x="328.6" y="284.3" class="tl" text-anchor="middle">6000</text>
<line x1="355.7" y1="271.5" x2="355.7" y2="275" class="tk"/>
<text x="355.7" y="284.3" class="tl" text-anchor="middle">6500</text>
<line x1="382.8" y1="271.5" x2="382.8" y2="275" class="tk"/>
<text x="382.8" y="284.3" class="tl" text-anchor="middle">7000</text>
<line x1="409.9" y1="271.5" x2="409.9" y2="275" class="tk"/>
<text x="409.9" y="284.3" class="tl" text-anchor="middle">7500</text>
<line x1="437" y1="271.5" x2="437" y2="275" class="tk"/>
<text x="437" y="284.3" class="tl" text-anchor="middle">8000</text>
<line x1="27" y1="271.5" x2="30.5" y2="271.5" class="tk"/>
<text x="25.5" y="274.6" class="tl" text-anchor="end">-50</text>
<line x1="27" y1="221.6" x2="30.5" y2="221.6" class="tk"/>
<text x="25.5" y="224.7" class="tl" text-anchor="end">-40</text>
<line x1="27" y1="171.7" x2="30.5" y2="171.7" class="tk"/>
<text x="25.5" y="174.8" class="tl" text-anchor="end">-30</text>
<line x1="27" y1="121.8" x2="30.5" y2="121.8" class="tk"/>
<text x="25.5" y="124.9" class="tl" text-anchor="end">-20</text>
<line x1="27" y1="71.9" x2="30.5" y2="71.9" class="tk"/>
<text x="25.5" y="75" class="tl" text-anchor="end">-10</text>
<line x1="27" y1="22" x2="30.5" y2="22" class="tk"/>
<text x="25.5" y="25.1" class="tl" text-anchor="end">0</text>
<text x="233.75" y="296" class="al" text-anchor="middle" textLength="64.5" lengthAdjust="spacingAndGlyphs">Frequency (MHz)</text>
<text transform="translate(8.5 146.75) rotate(-90)" x="0" y="0" class="al" text-anchor="middle" textLength="71" lengthAdjust="spacingAndGlyphs">Return Loss (dB)</text>
<rect x="34" y="225" width="94.7" height="42" rx="2.5" class="lg"/>
<line x1="36.5" y1="232.3" x2="53" y2="232.3" stroke="#1f77b4" class="ll"/>
<text x="58.4" y="235.8" class="lt" textLength="51.8" lengthAdjust="spacingAndGlyphs">FXUB06 - Left</text>
<line x1="36.5" y1="245.4" x2="53" y2="245.4" stroke="#ff7f0e" class="ll"/>
<text x="58.4" y="248.9" class="lt" textLength="57.8" lengthAdjust="spacingAndGlyphs">FXUB06 - Right</text>
<line x1="36.5" y1="258.4" x2="53" y2="258.4" stroke="#2ca02c" class="ll"/>
<text x="58.4" y="261.9" class="lt" textLength="67.5" lengthAdjust="spacingAndGlyphs">FXUB06 - Straight</text>
<rect x="487.08" y="23.5" width="10.31" height="249.5" class="bd"/>
<rect x="498.37" y="23.5" width="7.42" height="249.5" class="bd"/>
<rect x="531.25" y="23.5" width="4.96" height="249.5" class="bd"/>
<rect x="546.69" y="23.5" width="26.72" height="249.5" class="bd"/>
<rect x="578.86" y="23.5" width="21.27" height="249.5" class="bd"/>
<rect x="633.39" y="23.5" width="92.71" height="249.5" class="bd"/>
<rect x="734.28" y="23.5" width="107.7" height="249.5" class="bd"/>
<line x1="480.7" y1="245.28" x2="889.7" y2="245.28" class="g"/>
<line x1="480.7" y1="217.56" x2="889.7" y2="217.56" class="g"/>
<line x1="480.7" y1="189.83" x2="889.7" y2="189.83" class="g"/>
<line x1="480.7" y1="162.11" x2="889.7" y2="162.11" class="g"/>
<line x1="480.7" y1="134.39" x2="889.7" y2="134.39" class="g"/>
<line x1="480.7" y1="106.67" x2="889.7" y2="106.67" class="g"/>
<line x1="480.7" y1="78.94" x2="889.7" y2="78.94" class="g"/>
<line x1="480.7" y1="51.22" x2="889.7" y2="51.22" class="g"/>
<line x1="507.97" y1="23.5" x2="507.97" y2="273" class="g"/>
<line x1="535.23" y1="23.5" x2="535.23" y2="273" class="g"/>
<line x1="562.5" y1="23.5" x2="562.5" y2="273" class="g"/>
<line x1="589.77" y1="23.5" x2="589.77" y2="273" class="g"/>
<line x1="617.03" y1="23.5" x2="617.03" y2="273" class="g"/>
<line x1="644.3" y1="23.5" x2="644.3" y2="273" class="g"/>
<line x1="671.57" y1="23.5" x2="671.57" y2="273" class="g"/>
<line x1="698.83" y1="23.5" x2="698.83" y2="273" class="g"/>
<line x1="726.1" y1="23.5" x2="726.1" y2="273" class="g"/>
<line x1="753.37" y1="23.5" x2="753.37" y2="273" class="g"/>
<line x1="780.63" y1="23.5" x2="780.63" y2="273" class="g"/>
<line x1="807.9" y1="23.5" x2="807.9" y2="273" class="g"/>
<line x1="835.17" y1="23.5" x2="835.17" y2="273" class="g"/>
<line x1="862.43" y1="23.5" x2="862.43" y2="273" class="g"/>
<path d="M485.87 130.04L486.37 139.72L486.87 151.46L487.34 163.79L487.37 164.45L487.87 177.71L488.37 194.45L488.87 211.31L489.37 224.95L489.39 225.41L489.87 234.6L490.37 243.38L490.87 251.02L491.37 257.19L491.74 260.62L491.87 261.66L492.37 265.49L492.87 268.21L493.2 268.84L493.37 268.71L493.87 266.94L494.37 263.81L494.87 260.23L495.26 257.69L495.37 257.03L495.87 253.7L496.37 250.13L496.87 246.74L497.37 243.98L497.61 243.01L497.87 241.78L498.37 239.51L498.87 237.64L499.37 236.56L499.37 236.56L499.87 238.05L500.37 240.85L500.87 244.22L501.13 245.95L501.37 247.39L501.87 251.17L502.37 255.48L502.87 259.65L503.37 263.01L503.48 263.56L503.87 265.5L504.37 267.88L504.87 269.8L505.37 270.82L505.53 270.89L505.87 269.56L506.37 263.53L506.87 254.09L507.37 242.86L507.87 231.45L507.88 231.28L508.37 218.73L508.87 203.08L509.37 185.73L509.87 167.91L510.37 150.86L510.81 137.38L510.87 135.76L511.37 121.4L511.87 107L512.37 93.23L512.87 80.75L513.37 70.24L513.75 64.02L513.87 62.81L514.37 57.89L514.87 53.35L515.37 49.69L515.87 47.4L516.37 46.97L516.68 47.88L516.87 47.37L517.37 46.76L517.87 47L518.37 47.82L518.87 48.96L519.03 49.34L519.37 51.23L519.87 55.23L520.37 60.32L520.87 66.07L521.37 72.05L521.67 75.58L521.87 77.94L522.37 84.22L522.87 90.95L523.37 98.01L523.87 105.3L524.37 113.1L524.6 116.84L524.87 121.05L525.37 128.91L525.87 136.87L526.37 145.13L526.87 153.88L527.37 163.34L527.54 166.72L527.87 173.82L528.37 185.61L528.87 198.35L529.37 211.62L529.87 224.98L529.88 225.41L530.37 241.63L530.87 258.89L531.35 266.49L531.37 266.48L531.87 256.53L532.37 237.84L532.82 225.41L532.87 224.68L533.37 217.61L533.87 212.37L534.29 210.74L534.37 210.78L534.87 212.54L535.37 216.23L535.87 220.91L536.34 225.41L536.37 225.67L536.87 231.35L537.37 238.34L537.87 245.52L538.37 251.76L538.69 254.75L538.87 256.16L539.37 260.07L539.87 263.76L540.37 266.95L540.87 269.36L541.37 270.71L541.62 270.89L541.87 270.68L542.37 269.15L542.87 266.6L543.37 263.58L543.87 260.63L544.37 258.29L544.56 257.69L544.87 256.83L545.37 255.45L545.87 254.13L546.37 252.92L546.87 251.89L547.37 251.07L547.87 250.54L548.37 250.35L548.37 250.35L548.87 250.62L549.37 251.35L549.87 252.42L550.37 253.7L550.87 255.08L551.37 256.43L551.87 257.63L551.89 257.69L552.37 258.8L552.87 260.13L553.37 261.57L553.87 263.05L554.37 264.51L554.87 265.88L555.37 267.12L555.87 268.15L556.37 268.91L556.87 269.35L557.17 269.42L557.37 269.41L557.87 269.22L558.37 268.85L558.87 268.33L559.37 267.69L559.87 266.98L560.37 266.21L560.87 265.42L561.37 264.66L561.87 263.94L562.16 263.56L562.37 263.3L562.87 262.66L563.37 262L563.87 261.33L564.37 260.66L564.87 259.98L565.37 259.3L565.87 258.62L566.37 257.95L566.57 257.69L566.87 257.29L567.37 256.65L567.87 256.03L568.37 255.11L568.87 254.03L569.37 252.93L569.87 251.8L570.37 250.63L570.87 249.4L570.97 249.15L571.37 248L571.87 246.31L572.37 244.48L572.87 242.65L573.37 240.98L573.87 239.63L574.37 238.74L574.49 238.61L574.87 239.09L575.37 239.71L575.87 240.34L576.37 240.96L576.87 241.59L577.37 242.21L577.87 242.84L578.37 243.46L578.87 244.09L579.18 244.48L579.37 244.64L579.87 245.3L580.37 246.22L580.87 247.3L581.37 248.46L581.87 249.58L582.37 250.59L582.87 251.39L583.29 251.82L583.37 251.73L583.87 250.88L584.37 249.6L584.87 248.06L585.37 246.41L585.87 244.82L586.37 243.59L586.87 243.08L587.11 243.01L587.37 243.03L587.87 243.13L588.37 243.31L588.87 243.53L589.37 243.78L589.87 244.02L590.37 244.24L590.87 244.4L591.37 244.48L591.51 244.48L591.87 244.42L592.37 244.15L592.87 243.69L593.37 243.09L593.87 242.37L594.37 241.57L594.87 240.73L595.37 239.89L595.87 239.07L596.37 238.32L596.87 237.67L597.37 237.15L597.38 237.15L597.87 236.71L598.37 236.25L598.87 235.8L599.37 235.35L599.87 234.93L600.37 234.55L600.87 234.22L601.37 233.95L601.87 233.75L602.37 233.64L602.66 233.62L602.87 233.67L603.37 234.14L603.87 235.02L604.37 236.22L604.87 237.62L605.37 239.12L605.87 240.63L606.37 242.04L606.77 243.01L606.87 243.25L607.37 244.41L607.87 245.6L608.37 246.81L608.87 248.02L609.37 249.22L609.87 250.39L610.37 251.51L610.87 252.58L611.37 253.56L611.87 254.46L612.05 254.75L612.37 255.28L612.87 256.12L613.37 256.97L613.87 257.83L614.37 258.65L614.87 259.43L615.37 260.15L615.87 260.78L616.37 261.31L616.87 261.72L617.37 261.98L617.87 262.09L617.92 262.09L618.37 262.04L618.87 261.89L619.37 261.65L619.87 261.33L620.37 260.94L620.87 260.52L621.37 260.06L621.87 259.58L622.32 259.15L622.37 259.1L622.87 258.4L623.37 257.46L623.87 256.44L624.37 255.53L624.87 254.92L625.25 254.75L625.37 254.76L625.87 254.94L626.37 255.33L626.87 255.88L627.37 256.56L627.87 257.31L628.37 258.09L628.87 258.86L629.07 259.15L629.37 259.63L629.87 260.6L630.37 261.74L630.87 263.01L631.37 264.36L631.87 265.75L632.37 267.12L632.87 268.42L633.37 269.62L633.87 270.66L634.37 271.49L634.87 272.07L635.37 272.34L635.52 272.36L635.87 272.2L636.37 271.45L636.87 270.23L637.37 268.65L637.87 266.86L638.37 264.99L638.87 263.18L639.37 261.55L639.87 260.25L640.37 259.41L640.81 259.15L640.87 259.16L641.37 259.31L641.87 259.67L642.37 260.18L642.87 260.79L643.37 261.45L643.87 262.1L644.37 262.68L644.87 263.16L645.37 263.47L645.79 263.56L645.87 263.54L646.37 262.43L646.87 259.89L647.37 256.31L647.87 252.05L648.37 247.48L648.87 242.99L649.37 238.94L649.87 235.71L650.2 234.21L650.37 233.91L650.87 233.04L651.37 232.21L651.87 231.45L652.37 230.8L652.87 230.28L653.37 229.95L653.87 229.82L654.37 229.94L654.87 230.35L655.37 231.07L655.48 231.28L655.87 231.72L656.37 232.84L656.87 234.44L657.37 236.39L657.87 238.53L658.37 240.73L658.87 242.85L659.37 244.75L659.87 246.27L660.37 247.29L660.47 247.42L660.87 246.84L661.37 246.1L661.87 245.34L662.37 244.55L662.87 243.73L663.37 242.88L663.87 241.99L664.37 241.06L664.87 240.08L664.87 240.08L665.37 239.39L665.87 238.39L666.37 237.16L666.87 235.79L667.37 234.35L667.87 232.93L668.37 231.63L668.87 230.51L669.27 229.81L669.37 229.7L669.87 229.17L670.37 228.65L670.87 228.15L671.37 227.67L671.87 227.21L672.37 226.77L672.87 226.37L673.37 225.99L673.87 225.65L674.26 225.41L674.37 225.57L674.87 226.47L675.37 227.63L675.87 229L676.37 230.54L676.87 232.21L677.37 233.96L677.87 235.76L678.37 237.56L678.87 239.32L679.37 241L679.54 241.55L679.87 242.17L680.37 243.24L680.87 244.42L681.37 245.66L681.87 246.91L682.37 248.12L682.87 249.24L683.37 250.22L683.87 251.01L684.37 251.55L684.87 251.81L685 247.42L685.37 247.49L685.87 246.95L686.37 245.86L686.87 244.44L687.37 242.9L687.87 241.46L688.37 240.33L688.52 240.08L688.87 239.58L689.37 238.81L689.87 238L690.37 237.23L690.87 236.53L691.37 235.95L691.87 235.54L692.37 235.35L692.87 235.44L693.22 235.68L693.37 235.57L693.87 235.59L694.37 236.11L694.87 237.01L695.37 238.22L695.87 239.62L696.37 241.13L696.87 242.64L697.37 244.05L697.87 245.28L698.2 245.95L698.37 246.28L698.87 247.38L699.37 248.56L699.87 249.8L700.37 251.07L700.87 252.32L701.37 253.52L701.87 254.64L702.37 255.64L702.87 256.66L703.37 257.66L703.87 258.42L704.37 258.93L704.87 259.15L704.95 259.15L705.37 258.94L705.87 258.18L706.37 256.95L706.87 255.35L707.37 253.45L707.87 251.37L708.37 249.19L708.87 246.99L709.37 244.88L709.87 242.95L710.37 241.28L710.82 240.08L710.87 239.98L711.37 238.81L711.87 237.61L712.37 236.41L712.87 235.23L713.37 234.1L713.87 233.05L714.37 232.1L714.87 231.28L715.37 230.61L715.87 230.13L716.37 229.86L716.69 229.81L716.87 229.84L717.37 230.29L717.87 231.17L718.37 232.41L718.87 233.9L719.37 235.57L719.87 237.33L720.37 239.08L720.87 240.74L721.37 242.22L721.68 243.01L721.87 243.47L722.37 244.74L722.87 246.1L723.37 247.5L723.87 248.9L724.37 250.26L724.87 251.54L725.37 252.7L725.87 253.69L726.37 254.49L726.87 255.05L727.37 255.32L727.55 255.34L727.87 255.26L728.37 254.85L728.87 254.13L729.37 253.17L729.87 252.01L730.37 250.71L730.87 249.33L731.37 247.92L731.87 246.54L732.37 245.23L732.87 244.07L733.37 243.1L733.42 243.01L733.87 242.23L734.37 241.32L734.87 240.39L735.37 239.46L735.87 238.57L736.37 237.75L736.87 237.02L737.37 236.42L737.87 235.98L738.37 235.73L738.7 235.68L738.87 235.72L739.37 236.24L739.87 237.3L740.37 238.78L740.87 240.59L741.37 242.62L741.87 244.76L742.37 246.9L742.87 248.95L743.37 250.79L743.69 251.82L743.87 252.36L744.37 253.93L744.87 255.56L745.37 257.22L745.87 258.88L746.37 260.5L746.87 262.06L747.37 263.52L747.87 264.85L748.37 266.02L748.87 266.99L749.37 267.74L749.56 267.96L749.87 268.28L750.37 268.79L750.87 269.28L751.37 269.73L751.87 270.16L752.37 270.55L752.87 270.89L753.37 271.19L753.87 271.43L754.37 271.61L754.87 271.73L755.37 271.77L755.43 271.77L755.87 271.68L756.37 271.37L756.87 270.86L757.37 270.19L757.87 269.38L758.37 268.46L758.87 267.46L759.37 266.41L759.87 265.34L760.37 264.27L760.71 263.56L760.87 263.21L761.37 261.97L761.87 260.53L762.37 258.92L762.87 257.18L763.37 255.35L763.87 253.48L764.37 251.61L764.87 249.78L765.37 248.02L765.87 246.39L766.37 244.92L766.87 243.65L767.16 243.01L767.37 242.6L767.87 241.59L768.37 240.57L768.87 239.56L769.37 238.57L769.87 237.6L770.37 236.66L770.87 235.77L771.37 234.93L771.87 234.16L772.37 233.45L772.87 232.83L773.37 232.3L773.87 231.87L774.37 231.55L774.87 231.35L775.37 231.28L775.38 231.28L775.87 231.47L776.37 232L776.87 232.83L777.37 233.89L777.87 235.12L778.37 236.44L778.87 237.81L779.37 239.16L779.87 240.43L780.37 241.55L780.37 241.55L780.87 242.67L781.37 243.94L781.87 245.29L782.37 246.66L782.87 247.98L783.37 249.21L783.87 250.26L784.37 251.09L784.87 251.63L785.36 251.82L785.37 251.82L785.87 251.56L786.37 250.86L786.87 249.79L787.37 248.42L787.87 246.83L788.37 245.08L788.87 243.24L789.37 241.4L789.87 239.61L790.37 237.96L790.64 237.15L790.87 236.09L791.37 233.72L791.87 231.29L792.37 228.83L792.87 226.37L793.37 223.96L793.87 221.61L794.37 219.38L794.87 217.28L795.04 216.61L795.37 215.69L795.87 214.26L796.37 212.8L796.87 211.37L797.37 210L797.87 208.73L798.37 209.19L798.87 210.27L799.37 211.57L799.87 213.12L800.03 213.67L800.37 213.91L800.87 215.06L801.37 216.98L801.87 219.48L802.37 222.38L802.87 225.49L803.37 228.61L803.87 231.57L804.37 234.16L804.72 235.68L804.87 236.27L805.37 238.4L805.87 240.62L806.37 242.87L806.87 245.12L807.37 247.33L807.87 249.44L808.37 251.4L808.87 253.18L809.37 254.73L809.87 256L810.37 256.95L810.87 257.53L811.18 257.69L811.37 257.66L811.87 257.32L812.37 256.66L812.87 255.73L813.37 254.6L813.87 253.33L814.37 251.98L814.87 250.61L815.37 249.28L815.87 248.06L816.37 247.01L816.87 246.18L817.05 245.95L817.37 245.13L817.87 243.84L818.37 242.56L818.87 241.3L819.37 240.07L819.87 238.89L820.37 237.77L820.87 236.72L821.37 235.76L821.87 234.9L822.33 234.21L822.37 234.16L822.87 233.63L823.37 233.24L823.87 232.95L824.37 232.73L824.87 232.54L825.37 232.35L825.87 232.18L826.37 233.47L826.87 234.66L827.32 235.6L827.37 235.69L827.87 236.09L828.37 235.73L828.87 234.9L829.37 233.87L829.87 232.92L830.37 232.33L830.87 232.37L831.13 232.74L831.37 233.02L831.87 234.61L832.37 237.25L832.87 240.56L833.37 244.13L833.87 247.58L834.37 250.52L834.65 251.82L834.87 252.58L835.37 254.41L835.87 256.24L836.37 258.02L836.87 259.66L837.37 261.11L837.87 262.28L838.37 263.1L838.87 263.52L839.06 263.56L839.37 263.44L839.87 262.83L840.37 261.77L840.87 260.34L841.37 258.63L841.87 256.73L842.37 254.72L842.87 252.69L843.37 250.72L843.87 248.9L844.37 247.32L844.87 246.07L844.93 245.95L845.37 245.03L845.87 243.98L846.37 242.93L846.87 241.88L847.37 240.86L847.87 239.89L848.37 238.98L848.87 238.14L849.37 237.4L849.87 236.77L850.37 236.27L850.87 235.91L851.37 235.71L851.67 235.68L851.87 235.73L852.37 236.25L852.87 237.29L853.37 238.74L853.87 240.51L854.37 242.5L854.87 244.62L855.37 246.77L855.87 248.86L856.37 250.79L856.66 251.82L856.87 252.53L857.37 254.43L857.87 256.52L858.37 258.74L858.87 261L859.37 263.24L859.87 265.36L860.37 267.31L860.87 268.99L861.37 270.34L861.87 271.29L862.37 271.74L862.53 271.77L862.87 271.6L863.37 270.74L863.87 269.28L864.37 267.34L864.87 265.04L865.37 262.5L865.87 259.84L866.37 257.18L866.87 254.65L867.37 252.35L867.87 250.41L868.37 248.96L868.4 248.88L868.87 247.81L869.37 246.67L869.87 245.54L870.37 244.45L870.87 243.42L871.37 242.46L871.87 241.6L872.37 240.87L872.87 240.27L873.37 239.82L873.87 239.56L874.27 239.49L874.37 239.5L874.87 239.79L875.37 240.45L875.87 241.43L876.37 242.67L876.87 244.11L877.37 245.7L877.87 247.39L878.37 249.12L878.87 250.84L879.37 252.48L879.87 254L880.14 254.75L880.37 255.39L880.87 256.94L881.37 258.64L881.87 260.44L882.37 262.27L882.87 264.07L883.37 265.79L883.87 267.35L884.37 268.7L884.87 269.78L885.37 270.53L885.87 270.87L886.01 270.89L886.37 270.66L886.87 269.63L887.37 267.86L887.87 265.44L888.37 262.45L888.87 258.99L889.37 255.14L889.87 251L890.12 248.88" stroke="#1f77b4" class="cv"/>
<path d="M485.87 157.92L486.37 161.1L486.87 166.34L487.34 172.59L487.37 173.12L487.87 184.23L488.37 198.82L488.87 213.55L489.37 225.04L489.39 225.41L489.87 234.6L490.37 243.38L490.87 251.02L491.37 257.19L491.74 260.62L491.87 261.66L492.37 265.49L492.87 268.21L493.2 268.84L493.37 268.71L493.87 266.94L494.37 263.81L494.87 260.23L495.26 257.69L495.37 257.03L495.87 253.7L496.37 250.13L496.87 246.74L497.37 243.98L497.61 243.01L497.87 242.09L498.37 240.4L498.87 239.12L499.37 238.61L499.37 238.61L499.87 239.52L500.37 241.74L500.87 244.52L501.13 245.95L501.37 247.39L501.87 251.17L502.37 255.48L502.87 259.65L503.37 263.01L503.48 263.56L503.87 265.5L504.37 267.88L504.87 269.8L505.37 270.82L505.53 270.89L505.87 269.56L506.37 263.53L506.87 254.09L507.37 242.86L507.87 231.45L507.88 231.28L508.37 218.73L508.87 203.08L509.37 185.73L509.87 167.91L510.37 150.86L510.81 137.38L510.87 135.76L511.37 121.4L511.87 107L512.37 93.23L512.87 80.75L513.37 70.24L513.75 64.02L513.87 62.81L514.37 57.89L514.87 53.35L515.37 49.69L515.87 47.4L516.37 46.97L516.68 47.88L516.87 47.37L517.37 46.76L517.87 47L518.37 47.82L518.87 48.96L519.03 49.34L519.37 51.23L519.87 55.23L520.37 60.32L520.87 66.07L521.37 72.05L521.67 75.58L521.87 77.94L522.37 84.22L522.87 90.95L523.37 98.01L523.87 105.3L524.37 113.1L524.6 116.84L524.87 121.05L525.37 128.91L525.87 136.87L526.37 145.13L526.87 153.88L527.37 163.34L527.54 166.72L527.87 173.82L528.37 185.61L528.87 198.35L529.37 211.62L529.87 224.98L529.88 225.41L530.37 241.63L530.87 258.89L531.35 266.49L531.37 266.48L531.87 256.53L532.37 237.84L532.82 225.41L532.87 224.68L533.37 217.61L533.87 212.37L534.29 210.74L534.37 210.78L534.87 212.54L535.37 216.23L535.87 220.91L536.34 225.41L536.37 225.67L536.87 231.35L537.37 238.34L537.87 245.52L538.37 251.76L538.69 254.75L538.87 256.16L539.37 260.07L539.87 263.76L540.37 266.95L540.87 269.36L541.37 270.71L541.62 270.89L541.87 270.68L542.37 269.15L542.87 266.6L543.37 263.58L543.87 260.63L544.37 258.29L544.56 257.69L544.87 256.83L545.37 255.45L545.87 254.13L546.37 252.92L546.87 251.89L547.37 251.07L547.87 250.54L548.37 250.35L548.37 250.35L548.87 250.62L549.37 251.35L549.87 252.42L550.37 253.7L550.87 255.08L551.37 256.43L551.87 257.63L551.89 257.69L552.37 258.8L552.87 260.13L553.37 261.57L553.87 263.05L554.37 264.51L554.87 265.88L555.37 267.12L555.87 268.15L556.37 268.91L556.87 269.35L557.17 269.42L557.37 269.41L557.87 269.22L558.37 268.85L558.87 268.33L559.37 267.69L559.87 266.98L560.37 266.21L560.87 265.42L561.37 264.66L561.87 263.94L562.16 263.56L562.37 263.3L562.87 262.66L563.37 262L563.87 261.33L564.37 260.66L564.87 259.98L565.37 259.39L565.87 258.88L566.37 258.37L566.57 258.18L566.87 257.88L567.37 257.41L567.87 256.96L568.37 256.51L568.87 256.05L569.37 255.57L569.87 255.05L570.37 254.47L570.87 253.85L570.97 253.72L571.37 253.05L571.87 251.97L572.37 250.73L572.87 249.51L573.37 248.44L573.87 247.69L574.37 247.4L574.49 247.42L574.87 246.94L575.37 246.32L575.87 245.69L576.37 245.07L576.87 244.44L577.37 243.82L577.87 243.19L578.37 242.57L578.87 241.94L579.18 241.55L579.37 241.71L579.87 242.36L580.37 243.28L580.87 244.37L581.37 245.52L581.87 246.65L582.37 247.66L582.87 248.45L583.29 248.88L583.37 248.88L583.87 248.52L584.37 247.74L584.87 246.7L585.37 245.56L585.87 244.47L586.37 243.59L586.87 243.08L587.11 243.01L587.37 243.03L587.87 243.13L588.37 243.31L588.87 243.53L589.37 243.78L589.87 244.02L590.37 244.24L590.87 244.4L591.37 244.48L591.51 244.48L591.87 244.56L592.37 244.49L592.87 244.24L593.37 243.83L593.87 243.31L594.37 242.71L594.87 242.08L595.37 241.43L595.87 240.81L596.37 240.26L596.87 239.81L597.37 239.5L597.38 239.49L597.87 239.17L598.37 238.82L598.87 238.48L599.37 238.14L599.87 237.83L600.37 237.56L600.87 237.34L601.37 237.18L601.87 237.1L602.37 237.1L602.66 237.15L602.87 237.09L603.37 237.31L603.87 237.94L604.37 238.88L604.87 240.03L605.37 241.29L605.87 242.55L606.37 243.7L606.77 244.48L606.87 244.69L607.37 245.71L607.87 246.76L608.37 247.83L608.87 248.9L609.37 249.96L609.87 250.99L610.37 251.98L610.87 252.9L611.37 253.75L611.87 254.51L612.05 254.75L612.37 255.28L612.87 256.12L613.37 256.97L613.87 257.83L614.37 258.65L614.87 259.43L615.37 260.15L615.87 260.78L616.37 261.31L616.87 261.72L617.37 261.98L617.87 262.09L617.92 262.09L618.37 262.04L618.87 261.89L619.37 261.65L619.87 261.33L620.37 260.94L620.87 260.52L621.37 260.06L621.87 259.58L622.32 259.15L622.37 259.1L622.87 258.4L623.37 257.46L623.87 256.44L624.37 255.53L624.87 254.92L625.25 254.75L625.37 254.76L625.87 254.94L626.37 255.33L626.87 255.88L627.37 256.56L627.87 257.31L628.37 258.09L628.87 258.86L629.07 259.15L629.37 259.63L629.87 260.6L630.37 261.74L630.87 263.01L631.37 264.36L631.87 265.75L632.37 267.12L632.87 268.42L633.37 269.62L633.87 270.66L634.37 271.49L634.87 272.07L635.37 272.34L635.52 272.36L635.87 272.2L636.37 271.45L636.87 270.23L637.37 268.65L637.87 266.86L638.37 264.99L638.87 263.18L639.37 261.55L639.87 260.25L640.37 259.41L640.81 259.15L640.87 259.16L641.37 259.31L641.87 259.67L642.37 260.18L642.87 260.79L643.37 261.45L643.87 262.1L644.37 262.68L644.87 263.16L645.37 263.47L645.79 263.56L645.87 263.54L646.37 262.43L646.87 259.89L647.37 256.31L647.87 252.05L648.37 247.48L648.87 242.99L649.37 238.94L649.87 235.71L650.2 234.21L650.37 233.67L650.87 232.11L651.37 230.58L651.87 229.13L652.37 227.78L652.87 226.57L653.37 225.54L653.87 224.72L654.37 224.15L654.87 223.86L655.37 223.89L655.48 223.94L655.87 223.7L656.37 223.93L656.87 224.65L657.37 225.71L657.87 226.97L658.37 228.29L658.87 229.53L659.37 230.54L659.87 231.19L660.37 231.32L660.47 231.28L660.87 231.37L661.37 231.47L661.87 231.54L662.37 231.59L662.87 231.6L663.37 231.58L663.87 231.52L664.37 231.42L664.87 231.28L664.87 231.28L665.37 231.32L665.87 231.06L666.37 230.56L666.87 229.92L667.37 229.21L667.87 228.53L668.37 227.96L668.87 227.57L669.27 227.46L669.37 227.43L669.87 227.28L670.37 227.15L670.87 227.03L671.37 226.93L671.87 226.85L672.37 226.8L672.87 226.77L673.37 226.78L673.87 226.82L674.26 226.88L674.37 226.94L674.87 227.43L675.37 228.17L675.87 229.12L676.37 230.25L676.87 231.5L677.37 232.84L677.87 234.22L678.37 235.6L678.87 236.95L679.37 238.21L679.54 238.61L679.87 239.23L680.37 240.31L680.87 241.49L681.37 242.73L681.87 243.98L682.37 245.19L682.87 246.31L683.37 247.29L683.87 248.07L684.37 248.62L684.87 248.87L685 247.42L685.37 247.12L685.87 246.07L686.37 244.47L686.87 242.55L687.37 240.51L687.87 238.56L688.37 236.92L688.52 236.52L688.87 235.63L689.37 234.3L689.87 232.94L690.37 231.6L690.87 230.34L691.37 229.21L691.87 228.24L692.37 227.49L692.87 227.02L693.22 226.88L693.37 226.95L693.87 227.56L694.37 228.66L694.87 230.15L695.37 231.95L695.87 233.94L696.37 236.03L696.87 238.13L697.37 240.13L697.87 241.95L698.2 243.01L698.37 243.46L698.87 244.88L699.37 246.4L699.87 247.98L700.37 249.58L700.87 251.16L701.37 252.7L701.87 254.15L702.37 255.48L702.87 256.66L703.37 257.66L703.87 258.42L704.37 258.93L704.87 259.15L704.95 259.15L705.37 258.94L705.87 258.18L706.37 256.95L706.87 255.35L707.37 253.45L707.87 251.37L708.37 249.19L708.87 246.99L709.37 244.88L709.87 242.95L710.37 241.28L710.82 240.08L710.87 239.98L711.37 238.81L711.87 237.61L712.37 236.41L712.87 235.23L713.37 234.1L713.87 233.05L714.37 232.1L714.87 231.28L715.37 230.61L715.87 230.13L716.37 229.86L716.69 229.81L716.87 229.84L717.37 230.29L717.87 231.17L718.37 232.41L718.87 233.9L719.37 235.57L719.87 237.33L720.37 239.08L720.87 240.74L721.37 242.22L721.68 243.01L721.87 243.47L722.37 244.74L722.87 246.1L723.37 247.5L723.87 248.9L724.37 250.26L724.87 251.54L725.37 252.7L725.87 253.69L726.37 254.49L726.87 255.05L727.37 255.32L727.55 255.34L727.87 255.26L728.37 254.85L728.87 254.13L729.37 253.17L729.87 252.01L730.37 250.71L730.87 249.33L731.37 247.92L731.87 246.54L732.37 245.23L732.87 244.07L733.37 243.1L733.42 243.01L733.87 242.23L734.37 241.32L734.87 240.39L735.37 239.46L735.87 238.57L736.37 237.75L736.87 237.02L737.37 236.42L737.87 235.98L738.37 235.73L738.7 235.68L738.87 235.72L739.37 236.24L739.87 237.3L740.37 238.78L740.87 240.59L741.37 242.62L741.87 244.76L742.37 246.9L742.87 248.95L743.37 250.79L743.69 251.82L743.87 252.36L744.37 253.93L744.87 255.56L745.37 257.22L745.87 258.88L746.37 260.5L746.87 262.06L747.37 263.52L747.87 264.85L748.37 266.02L748.87 266.99L749.37 267.74L749.56 267.96L749.87 268.28L750.37 268.79L750.87 269.28L751.37 269.73L751.87 270.16L752.37 270.55L752.87 270.89L753.37 271.19L753.87 271.43L754.37 271.61L754.87 271.73L755.37 271.77L755.43 271.77L755.87 271.68L756.37 271.37L756.87 270.86L757.37 270.19L757.87 269.38L758.37 268.46L758.87 267.46L759.37 266.41L759.87 265.34L760.37 264.27L760.71 263.56L760.87 263.21L761.37 261.97L761.87 260.53L762.37 258.92L762.87 257.18L763.37 255.35L763.87 253.48L764.37 251.61L764.87 249.78L765.37 248.02L765.87 246.39L766.37 244.92L766.87 243.65L767.16 243.01L767.37 242.6L767.87 241.59L768.37 240.57L768.87 239.56L769.37 238.57L769.87 237.6L770.37 236.66L770.87 235.77L771.37 234.93L771.87 234.16L772.37 233.45L772.87 232.83L773.37 232.3L773.87 231.87L774.37 231.55L774.87 231.35L775.37 231.28L775.38 231.28L775.87 231.47L776.37 232L776.87 232.83L777.37 233.89L777.87 235.12L778.37 236.44L778.87 237.81L779.37 239.16L779.87 240.43L780.37 241.55L780.37 241.55L780.87 242.67L781.37 243.94L781.87 245.29L782.37 246.66L782.87 247.98L783.37 249.21L783.87 250.26L784.37 251.09L784.87 251.63L785.36 251.82L785.37 251.82L785.87 251.56L786.37 250.86L786.87 249.79L787.37 248.42L787.87 246.83L788.37 245.08L788.87 243.24L789.37 241.4L789.87 239.61L790.37 237.96L790.64 237.15L790.87 236.47L791.37 234.94L791.87 233.34L792.37 231.71L792.87 230.09L793.37 228.51L793.87 227.33L794.37 226.5L794.87 225.81L795.04 225.61L795.37 225.23L795.87 224.61L796.37 223.98L796.87 223.37L797.37 222.81L797.87 222.36L798.37 222.04L798.87 221.9L799.37 221.98L799.87 222.31L800.03 222.47L800.37 222.18L800.87 222.55L801.37 223.69L801.87 225.41L802.37 227.53L802.87 229.85L803.37 232.2L803.87 234.37L804.37 236.18L804.72 237.15L804.87 237.71L805.37 239.72L805.87 241.82L806.37 243.97L806.87 246.1L807.37 248.19L807.87 250.19L808.37 252.04L808.87 253.71L809.37 255.14L809.87 256.3L810.37 257.14L810.87 257.6L811.18 257.69L811.37 257.66L811.87 257.32L812.37 256.66L812.87 255.73L813.37 254.6L813.87 253.33L814.37 251.98L814.87 250.61L815.37 249.28L815.87 248.06L816.37 247.01L816.87 246.18L817.05 245.95L817.37 245.57L817.87 244.98L818.37 244.39L818.87 243.83L819.37 243.3L819.87 242.81L820.37 242.38L820.87 242.03L821.37 241.76L821.87 241.6L822.33 241.55L822.37 241.51L822.87 241.17L823.37 240.96L823.87 240.86L824.37 240.82L824.87 240.81L825.37 240.81L825.87 240.76L826.37 240.64L826.87 240.41L827.32 240.08L827.37 240.17L827.87 240.56L828.37 240.19L828.87 239.35L829.37 238.31L829.87 237.35L830.37 236.75L830.87 236.78L831.13 237.15L831.37 237.61L831.87 239.62L832.37 242.68L832.87 246.4L833.37 250.39L833.87 254.26L834.37 257.62L834.65 259.15L834.87 259.7L835.37 261.03L835.87 262.37L836.37 263.64L836.87 264.79L837.37 265.73L837.87 266.4L838.37 266.73L838.87 266.64L839.06 266.49L839.37 266.22L839.87 265.36L840.37 264.05L840.87 262.37L841.37 260.41L841.87 258.26L842.37 256L842.87 253.71L843.37 251.5L843.87 249.43L844.37 247.6L844.87 246.09L844.93 245.95L845.37 245.03L845.87 243.98L846.37 242.93L846.87 241.88L847.37 240.86L847.87 239.89L848.37 238.98L848.87 238.14L849.37 237.4L849.87 236.77L850.37 236.27L850.87 235.91L851.37 235.71L851.67 235.68L851.87 235.73L852.37 236.25L852.87 237.29L853.37 238.74L853.87 240.51L854.37 242.5L854.87 244.62L855.37 246.77L855.87 248.86L856.37 250.79L856.66 251.82L856.87 252.53L857.37 254.43L857.87 256.52L858.37 258.74L858.87 261L859.37 263.24L859.87 265.36L860.37 267.31L860.87 268.99L861.37 270.34L861.87 271.29L862.37 271.74L862.53 271.77L862.87 271.6L863.37 270.74L863.87 269.28L864.37 267.34L864.87 265.04L865.37 262.5L865.87 259.84L866.37 257.18L866.87 254.65L867.37 252.35L867.87 250.41L868.37 248.96L868.4 248.88L868.87 247.81L869.37 246.67L869.87 245.54L870.37 244.45L870.87 243.42L871.37 242.46L871.87 241.6L872.37 240.87L872.87 240.27L873.37 239.82L873.87 239.56L874.27 239.49L874.37 239.5L874.87 239.79L875.37 240.45L875.87 241.43L876.37 242.67L876.87 244.11L877.37 245.7L877.87 247.39L878.37 249.12L878.87 250.84L879.37 252.48L879.87 254L880.14 254.75L880.37 255.39L880.87 256.94L881.37 258.64L881.87 260.44L882.37 262.27L882.87 264.07L883.37 265.79L883.87 267.35L884.37 268.7L884.87 269.78L885.37 270.53L885.87 270.87L886.01 270.89L886.37 270.66L886.87 269.63L887.37 267.86L887.87 265.44L888.37 262.45L888.87 258.99L889.37 255.14L889.87 251L890.12 248.88" stroke="#ff7f0e" class="cv"/>
<path d="M485.87 146.18L486.37 151.36L486.87 158.6L487.34 166.72L487.37 167.34L487.87 179.88L488.37 195.9L488.87 212.06L489.37 224.98L489.39 225.41L489.87 234.6L490.37 243.38L490.87 251.02L491.37 257.19L491.74 260.62L491.87 261.66L492.37 265.49L492.87 268.21L493.2 268.84L493.37 268.71L493.87 266.94L494.37 263.81L494.87 260.23L495.26 257.69L495.37 257.03L495.87 253.7L496.37 250.13L496.87 246.74L497.37 243.98L497.61 243.01L497.87 242.09L498.37 240.4L498.87 239.12L499.37 238.61L499.37 238.61L499.87 239.52L500.37 241.74L500.87 244.52L501.13 245.95L501.37 247.39L501.87 251.17L502.37 255.48L502.87 259.65L503.37 263.01L503.48 263.56L503.87 265.5L504.37 267.88L504.87 269.8L505.37 270.82L505.53 270.89L505.87 269.56L506.37 263.53L506.87 254.09L507.37 242.86L507.87 231.45L507.88 231.28L508.37 218.73L508.87 203.08L509.37 185.73L509.87 167.91L510.37 150.86L510.81 137.38L510.87 135.76L511.37 121.4L511.87 107L512.37 93.23L512.87 80.75L513.37 70.24L513.75 64.02L513.87 62.25L514.37 55.09L514.87 48.3L515.37 42.38L515.87 37.84L516.37 35.17L516.68 34.67L516.87 34.76L517.37 35.71L517.87 37.51L518.37 39.89L518.87 42.59L519.03 43.48L519.37 45.77L519.87 50.35L520.37 56.03L520.87 62.36L521.37 68.94L521.67 72.82L521.87 75.42L522.37 82.28L522.87 89.6L523.37 97.25L523.87 105.12L524.37 113.1L524.6 116.84L524.87 121.05L525.37 128.91L525.87 136.87L526.37 145.13L526.87 153.88L527.37 163.34L527.54 166.72L527.87 173.82L528.37 185.61L528.87 198.35L529.37 211.62L529.87 224.98L529.88 225.41L530.37 241.63L530.87 258.89L531.35 266.49L531.37 266.48L531.87 256.53L532.37 237.84L532.82 225.41L532.87 224.68L533.37 217.61L533.87 212.37L534.29 210.74L534.37 210.78L534.87 212.54L535.37 216.23L535.87 220.91L536.34 225.41L536.37 225.67L536.87 231.35L537.37 238.34L537.87 245.52L538.37 251.76L538.69 254.75L538.87 256.16L539.37 260.07L539.87 263.76L540.37 266.95L540.87 269.36L541.37 270.71L541.62 270.89L541.87 270.68L542.37 269.15L542.87 266.6L543.37 263.58L543.87 260.63L544.37 258.29L544.56 257.69L544.87 256.83L545.37 255.45L545.87 254.13L546.37 252.92L546.87 251.89L547.37 251.07L547.87 250.54L548.37 250.35L548.37 250.35L548.87 250.62L549.37 251.35L549.87 252.42L550.37 253.7L550.87 255.08L551.37 256.43L551.87 257.63L551.89 257.69L552.37 258.8L552.87 260.13L553.37 261.57L553.87 263.05L554.37 264.51L554.87 265.88L555.37 267.12L555.87 268.15L556.37 268.91L556.87 269.35L557.17 269.42L557.37 269.41L557.87 269.22L558.37 268.85L558.87 268.33L559.37 267.69L559.87 266.98L560.37 266.21L560.87 265.42L561.37 264.66L561.87 263.94L562.16 263.56L562.37 263.3L562.87 262.66L563.37 262L563.87 261.33L564.37 260.66L564.87 259.98L565.37 259.3L565.87 258.62L566.37 257.95L566.57 257.69L566.87 257.29L567.37 256.65L567.87 256.03L568.37 255.42L568.87 254.79L569.37 254.15L569.87 253.47L570.37 252.75L570.87 251.98L570.97 251.82L571.37 251.04L571.87 249.8L572.37 248.42L572.87 247.05L573.37 245.84L573.87 244.94L574.37 244.5L574.49 244.48L574.87 244.48L575.37 244.48L575.87 244.48L576.37 244.48L576.87 244.48L577.37 244.48L577.87 244.48L578.37 244.48L578.87 244.48L579.18 244.48L579.37 244.51L579.87 244.81L580.37 245.37L580.87 246.1L581.37 246.89L581.87 247.67L582.37 248.32L582.87 248.75L583.29 248.88L583.37 248.88L583.87 248.52L584.37 247.74L584.87 246.7L585.37 245.56L585.87 244.47L586.37 243.59L586.87 243.08L587.11 243.01L587.37 243.03L587.87 243.13L588.37 243.31L588.87 243.53L589.37 243.78L589.87 244.02L590.37 244.24L590.87 244.4L591.37 244.48L591.51 244.48L591.87 244.42L592.37 244.15L592.87 243.69L593.37 243.09L593.87 242.37L594.37 241.57L594.87 240.73L595.37 239.89L595.87 239.07L596.37 238.32L596.87 237.67L597.37 237.15L597.38 237.15L597.87 236.71L598.37 236.25L598.87 235.8L599.37 235.35L599.87 234.93L600.37 234.55L600.87 234.22L601.37 233.95L601.87 233.75L602.37 233.64L602.66 233.62L602.87 233.67L603.37 234.14L603.87 235.02L604.37 236.22L604.87 237.62L605.37 239.12L605.87 240.63L606.37 242.04L606.77 243.01L606.87 243.25L607.37 244.41L607.87 245.6L608.37 246.81L608.87 248.02L609.37 249.22L609.87 250.39L610.37 251.51L610.87 252.58L611.37 253.56L611.87 254.46L612.05 254.75L612.37 255.28L612.87 256.12L613.37 256.97L613.87 257.83L614.37 258.65L614.87 259.43L615.37 260.15L615.87 260.78L616.37 261.31L616.87 261.72L617.37 261.98L617.87 262.09L617.92 262.09L618.37 262.04L618.87 261.89L619.37 261.65L619.87 261.33L620.37 260.94L620.87 260.52L621.37 260.06L621.87 259.58L622.32 259.15L622.37 259.1L622.87 258.4L623.37 257.46L623.87 256.44L624.37 255.53L624.87 254.92L625.25 254.75L625.37 254.76L625.87 254.94L626.37 255.33L626.87 255.88L627.37 256.56L627.87 257.31L628.37 258.09L628.87 258.86L629.07 259.15L629.37 259.63L629.87 260.6L630.37 261.74L630.87 263.01L631.37 264.36L631.87 265.75L632.37 267.12L632.87 268.42L633.37 269.62L633.87 270.66L634.37 271.49L634.87 272.07L635.37 272.34L635.52 272.36L635.87 272.2L636.37 271.45L636.87 270.23L637.37 268.65L637.87 266.86L638.37 264.99L638.87 263.18L639.37 261.55L639.87 260.25L640.37 259.41L640.81 259.15L640.87 259.16L641.37 259.31L641.87 259.67L642.37 260.18L642.87 260.79L643.37 261.45L643.87 262.1L644.37 262.68L644.87 263.16L645.37 263.47L645.79 263.56L645.87 263.54L646.37 262.43L646.87 259.89L647.37 256.31L647.87 252.05L648.37 247.48L648.87 242.99L649.37 238.94L649.87 235.71L650.2 234.21L650.37 233.57L650.87 231.73L651.37 229.93L651.87 228.2L652.37 226.57L652.87 225.08L653.37 223.78L653.87 222.68L654.37 221.83L654.87 221.26L655.37 221.02L655.48 221.01L655.87 221.22L656.37 222.04L656.87 223.35L657.37 225L657.87 226.85L658.37 228.76L658.87 230.59L659.37 232.19L659.87 233.42L660.37 234.14L660.47 234.21L660.87 234.44L661.37 234.7L661.87 234.94L662.37 235.15L662.87 235.33L663.37 235.48L663.87 235.59L664.37 235.66L664.87 235.68L664.87 235.68L665.37 235.49L665.87 234.99L666.37 234.26L666.87 233.39L667.37 232.45L667.87 231.53L668.37 230.72L668.87 230.11L669.27 229.81L669.37 229.76L669.87 229.52L670.37 229.3L670.87 229.09L671.37 228.91L671.87 228.74L672.37 228.6L672.87 228.48L673.37 228.4L673.87 228.35L674.26 228.34L674.37 228.35L674.87 228.56L675.37 229.02L675.87 229.7L676.37 230.54L676.87 231.52L677.37 232.58L677.87 233.68L678.37 234.79L678.87 235.85L679.37 236.84L679.54 237.15L679.87 237.77L680.37 238.84L680.87 240.02L681.37 241.26L681.87 242.51L682.37 243.72L682.87 244.84L683.37 245.82L683.87 246.61L684.37 247.15L684.87 247.4L685 247.42L685.37 247.18L685.87 246.22L686.37 244.72L686.87 242.88L687.37 240.93L687.87 239.07L688.37 237.52L688.52 237.15L688.87 236.32L689.37 235.08L689.87 233.81L690.37 232.56L690.87 231.39L691.37 230.34L691.87 229.47L692.37 228.81L692.87 228.43L693.22 228.34L693.37 228.37L693.87 228.83L694.37 229.79L694.87 231.14L695.37 232.78L695.87 234.62L696.37 236.57L696.87 238.52L697.37 240.38L697.87 242.05L698.2 243.01L698.37 243.46L698.87 244.88L699.37 246.4L699.87 247.98L700.37 249.58L700.87 251.16L701.37 252.7L701.87 254.15L702.37 255.48L702.87 256.66L703.37 257.66L703.87 258.42L704.37 258.93L704.87 259.15L704.95 259.15L705.37 258.94L705.87 258.18L706.37 256.95L706.87 255.35L707.37 253.45L707.87 251.37L708.37 249.19L708.87 246.99L709.37 244.88L709.87 242.95L710.37 241.28L710.82 240.08L710.87 239.98L711.37 238.81L711.87 237.61L712.37 236.41L712.87 235.23L713.37 234.1L713.87 233.05L714.37 232.1L714.87 231.28L715.37 230.61L715.87 230.13L716.37 229.86L716.69 229.81L716.87 229.84L717.37 230.29L717.87 231.17L718.37 232.41L718.87 233.9L719.37 235.57L719.87 237.33L720.37 239.08L720.87 240.74L721.37 242.22L721.68 243.01L721.87 243.47L722.37 244.74L722.87 246.1L723.37 247.5L723.87 248.9L724.37 250.26L724.87 251.54L725.37 252.7L725.87 253.69L726.37 254.49L726.87 255.05L727.37 255.32L727.55 255.34L727.87 255.26L728.37 254.85L728.87 254.13L729.37 253.17L729.87 252.01L730.37 250.71L730.87 249.33L731.37 247.92L731.87 246.54L732.37 245.23L732.87 244.07L733.37 243.1L733.42 243.01L733.87 242.23L734.37 241.32L734.87 240.39L735.37 239.46L735.87 238.57L736.37 237.75L736.87 237.02L737.37 236.42L737.87 235.98L738.37 235.73L738.7 235.68L738.87 235.72L739.37 236.24L739.87 237.3L740.37 238.78L740.87 240.59L741.37 242.62L741.87 244.76L742.37 246.9L742.87 248.95L743.37 250.79L743.69 251.82L743.87 252.36L744.37 253.93L744.87 255.56L745.37 257.22L745.87 258.88L746.37 260.5L746.87 262.06L747.37 263.52L747.87 264.85L748.37 266.02L748.87 266.99L749.37 267.74L749.56 267.96L749.87 268.28L750.37 268.79L750.87 269.28L751.37 269.73L751.87 270.16L752.37 270.55L752.87 270.89L753.37 271.19L753.87 271.43L754.37 271.61L754.87 271.73L755.37 271.77L755.43 271.77L755.87 271.68L756.37 271.37L756.87 270.86L757.37 270.19L757.87 269.38L758.37 268.46L758.87 267.46L759.37 266.41L759.87 265.34L760.37 264.27L760.71 263.56L760.87 263.21L761.37 261.97L761.87 260.53L762.37 258.92L762.87 257.18L763.37 255.35L763.87 253.48L764.37 251.61L764.87 249.78L765.37 248.02L765.87 246.39L766.37 244.92L766.87 243.65L767.16 243.01L767.37 242.6L767.87 241.59L768.37 240.57L768.87 239.56L769.37 238.57L769.87 237.6L770.37 236.66L770.87 235.77L771.37 234.93L771.87 234.16L772.37 233.45L772.87 232.83L773.37 232.3L773.87 231.87L774.37 231.55L774.87 231.35L775.37 231.28L775.38 231.28L775.87 231.47L776.37 232L776.87 232.83L777.37 233.89L777.87 235.12L778.37 236.44L778.87 237.81L779.37 239.16L779.87 240.43L780.37 241.55L780.37 241.55L780.87 242.67L781.37 243.94L781.87 245.29L782.37 246.66L782.87 247.98L783.37 249.21L783.87 250.26L784.37 251.09L784.87 251.63L785.36 251.82L785.37 251.82L785.87 251.56L786.37 250.86L786.87 249.79L787.37 248.42L787.87 246.83L788.37 245.08L788.87 243.24L789.37 241.4L789.87 239.61L790.37 237.96L790.64 237.15L790.87 236.47L791.37 234.94L791.87 233.34L792.37 231.71L792.87 230.09L793.37 228.51L793.87 227L794.37 225.6L794.87 224.34L795.04 223.94L795.37 223.19L795.87 222.01L796.37 220.8L796.87 219.62L797.37 218.5L797.87 217.48L798.37 216.59L798.87 215.88L799.37 215.39L799.87 215.15L800.03 215.14L800.37 215.38L800.87 216.53L801.37 218.45L801.87 220.95L802.37 223.85L802.87 226.96L803.37 230.08L803.87 233.03L804.37 235.63L804.72 237.15L804.87 237.71L805.37 239.72L805.87 241.82L806.37 243.97L806.87 246.1L807.37 248.19L807.87 250.19L808.37 252.04L808.87 253.71L809.37 255.14L809.87 256.3L810.37 257.14L810.87 257.6L811.18 257.69L811.37 257.66L811.87 257.32L812.37 256.66L812.87 255.73L813.37 254.6L813.87 253.33L814.37 251.98L814.87 250.61L815.37 249.28L815.87 248.06L816.37 247.01L816.87 246.18L817.05 245.95L817.37 245.57L817.87 244.98L818.37 244.39L818.87 243.83L819.37 243.3L819.87 242.81L820.37 242.38L820.87 242.03L821.37 241.76L821.87 241.6L822.33 241.55L822.37 241.55L822.87 241.64L823.37 241.88L823.87 242.21L824.37 242.62L824.87 243.05L825.37 243.49L825.87 243.88L826.37 244.2L826.87 244.41L827.32 244.48L827.37 244.48L827.87 243.9L828.37 242.58L828.87 240.77L829.37 238.77L829.87 236.85L830.37 235.28L830.87 234.35L831.13 234.21L831.37 234.39L831.87 235.77L832.37 238.2L832.87 241.3L833.37 244.67L833.87 247.91L834.37 250.64L834.65 251.82L834.87 252.58L835.37 254.41L835.87 256.24L836.37 258.02L836.87 259.66L837.37 261.11L837.87 262.28L838.37 263.1L838.87 263.52L839.06 263.56L839.37 263.44L839.87 262.83L840.37 261.77L840.87 260.34L841.37 258.63L841.87 256.73L842.37 254.72L842.87 252.69L843.37 250.72L843.87 248.9L844.37 247.32L844.87 246.07L844.93 245.95L845.37 245.03L845.87 243.98L846.37 242.93L846.87 241.88L847.37 240.86L847.87 239.89L848.37 238.98L848.87 238.14L849.37 237.4L849.87 236.77L850.37 236.27L850.87 235.91L851.37 235.71L851.67 235.68L851.87 235.73L852.37 236.25L852.87 237.29L853.37 238.74L853.87 240.51L854.37 242.5L854.87 244.62L855.37 246.77L855.87 248.86L856.37 250.79L856.66 251.82L856.87 252.53L857.37 254.43L857.87 256.52L858.37 258.74L858.87 261L859.37 263.24L859.87 265.36L860.37 267.31L860.87 268.99L861.37 270.34L861.87 271.29L862.37 271.74L862.53 271.77L862.87 271.6L863.37 270.74L863.87 269.28L864.37 267.34L864.87 265.04L865.37 262.5L865.87 259.84L866.37 257.18L866.87 254.65L867.37 252.35L867.87 250.41L868.37 248.96L868.4 248.88L868.87 247.81L869.37 246.67L869.87 245.54L870.37 244.45L870.87 243.42L871.37 242.46L871.87 241.6L872.37 240.87L872.87 240.27L873.37 239.82L873.87 239.56L874.27 239.49L874.37 239.5L874.87 239.79L875.37 240.45L875.87 241.43L876.37 242.67L876.87 244.11L877.37 245.7L877.87 247.39L878.37 249.12L878.87 250.84L879.37 252.48L879.87 254L880.14 254.75L880.37 255.39L880.87 256.94L881.37 258.64L881.87 260.44L882.37 262.27L882.87 264.07L883.37 265.79L883.87 267.35L884.37 268.7L884.87 269.78L885.37 270.53L885.87 270.87L886.01 270.89L886.37 270.66L886.87 269.63L887.37 267.86L887.87 265.44L888.37 262.45L888.87 258.99L889.37 255.14L889.87 251L890.12 248.88" stroke="#2ca02c" class="cv"/>
<rect x="480.7" y="23.5" width="409" height="249.5" class="sp"/>
<line x1="480.7" y1="273" x2="480.7" y2="276.5" class="tk"/>
<text x="480.7" y="285.8" class="tl" text-anchor="middle">500</text>
<line x1="507.97" y1="273" x2="507.97" y2="276.5" class="tk"/>
<text x="507.97" y="285.8" class="tl" text-anchor="middle">1000</text>
<line x1="535.23" y1="273" x2="535.23" y2="276.5" class="tk"/>
<text x="535.23" y="285.8" class="tl" text-anchor="middle">1500</text>
<line x1="562.5" y1="273" x2="562.5" y2="276.5" class="tk"/>
<text x="562.5" y="285.8" class="tl" text-anchor="middle">2000</text>
<line x1="589.77" y1="273" x2="589.77" y2="276.5" class="tk"/>
<text x="589.77" y="285.8" class="tl" text-anchor="middle">2500</text>
<line x1="617.03" y1="273" x2="617.03" y2="276.5" class="tk"/>
<text x="617.03" y="285.8" class="tl" text-anchor="middle">3000</text>
<line x1="644.3" y1="273" x2="644.3" y2="276.5" class="tk"/>
<text x="644.3" y="285.8" class="tl" text-anchor="middle">3500</text>
<line x1="671.57" y1="273" x2="671.57" y2="276.5" class="tk"/>
<text x="671.57" y="285.8" class="tl" text-anchor="middle">4000</text>
<line x1="698.83" y1="273" x2="698.83" y2="276.5" class="tk"/>
<text x="698.83" y="285.8" class="tl" text-anchor="middle">4500</text>
<line x1="726.1" y1="273" x2="726.1" y2="276.5" class="tk"/>
<text x="726.1" y="285.8" class="tl" text-anchor="middle">5000</text>
<line x1="753.37" y1="273" x2="753.37" y2="276.5" class="tk"/>
<text x="753.37" y="285.8" class="tl" text-anchor="middle">5500</text>
<line x1="780.63" y1="273" x2="780.63" y2="276.5" class="tk"/>
<text x="780.63" y="285.8" class="tl" text-anchor="middle">6000</text>
<line x1="807.9" y1="273" x2="807.9" y2="276.5" class="tk"/>
<text x="807.9" y="285.8" class="tl" text-anchor="middle">6500</text>
<line x1="835.17" y1="273" x2="835.17" y2="276.5" class="tk"/>
<text x="835.17" y="285.8" class="tl" text-anchor="middle">7000</text>
<line x1="862.43" y1="273" x2="862.43" y2="276.5" class="tk"/>
<text x="862.43" y="285.8" class="tl" text-anchor="middle">7500</text>
<line x1="889.7" y1="273" x2="889.7" y2="276.5" class="tk"/>
<text x="889.7" y="285.8" class="tl" text-anchor="middle">8000</text>
<line x1="477.2" y1="273" x2="480.7" y2="273" class="tk"/>
<text x="475.7" y="276.1" class="tl" text-anchor="end">1</text>
<line x1="477.2" y1="245.28" x2="480.7" y2="245.28" class="tk"/>
<text x="475.7" y="248.38" class="tl" text-anchor="end">2</text>
<line x1="477.2" y1="217.56" x2="480.7" y2="217.56" class="tk"/>
<text x="475.7" y="220.66" class="tl" text-anchor="end">3</text>
<line x1="477.2" y1="189.83" x2="480.7" y2="189.83" class="tk"/>
<text x="475.7" y="192.93" class="tl" text-anchor="end">4</text>
<line x1="477.2" y1="162.11" x2="480.7" y2="162.11" class="tk"/>
<text x="475.7" y="165.21" class="tl" text-anchor="end">5</text>
<line x1="477.2" y1="134.39" x2="480.7" y2="134.39" class="tk"/>
<text x="475.7" y="137.49" class="tl" text-anchor="end">6</text>
<line x1="477.2" y1="106.67" x2="480.7" y2="106.67" class="tk"/>
<text x="475.7" y="109.77" class="tl" text-anchor="end">7</text>
<line x1="477.2" y1="78.94" x2="480.7" y2="78.94" class="tk"/>
<text x="475.7" y="82.04" class="tl" text-anchor="end">8</text>
<line x1="477.2" y1="51.22" x2="480.7" y2="51.22" class="tk"/>
<text x="475.7" y="54.32" class="tl" text-anchor="end">9</text>
<line x1="477.2" y1="23.5" x2="480.7" y2="23.5" class="tk"/>
<text x="475.7" y="26.6" class="tl" text-anchor="end">10</text>
<text x="685.2" y="297.5" class="al" text-anchor="middle" textLength="64.5" lengthAdjust="spacingAndGlyphs">Frequency (MHz)</text>
<text transform="translate(461 148.25) rotate(-90)" x="0" y="0" class="al" text-anchor="middle" textLength="26.5" lengthAdjust="spacingAndGlyphs">VSWR</text>
<rect x="790.7" y="28" width="96" height="41.3" rx="2.5" class="lg"/>
<line x1="793.2" y1="35.3" x2="809.7" y2="35.3" stroke="#1f77b4" class="ll"/>
<text x="815.1" y="38.8" class="lt" textLength="51.8" lengthAdjust="spacingAndGlyphs">FXUB06 - Left</text>
<line x1="793.2" y1="48.4" x2="809.7" y2="48.4" stroke="#ff7f0e" class="ll"/>
<text x="815.1" y="51.9" class="lt" textLength="57.8" lengthAdjust="spacingAndGlyphs">FXUB06 - Right</text>
<line x1="793.2" y1="61.4" x2="809.7" y2="61.4" stroke="#2ca02c" class="ll"/>
<text x="815.1" y="64.9" class="lt" textLength="67.5" lengthAdjust="spacingAndGlyphs">FXUB06 - Straight</text>
<rect x="39.61" y="306.4" width="10.19" height="250.3" class="bd"/>
<rect x="50.77" y="306.4" width="7.33" height="250.3" class="bd"/>
<rect x="83.28" y="306.4" width="4.91" height="250.3" class="bd"/>
<rect x="98.54" y="306.4" width="26.42" height="250.3" class="bd"/>
<rect x="130.36" y="306.4" width="21.03" height="250.3" class="bd"/>
<rect x="184.28" y="306.4" width="91.66" height="250.3" class="bd"/>
<rect x="284.03" y="306.4" width="106.49" height="250.3" class="bd"/>
<line x1="33.3" y1="531.67" x2="437.7" y2="531.67" class="gm"/>
<line x1="33.3" y1="481.61" x2="437.7" y2="481.61" class="gm"/>
<line x1="33.3" y1="431.55" x2="437.7" y2="431.55" class="gm"/>
<line x1="33.3" y1="381.49" x2="437.7" y2="381.49" class="gm"/>
<line x1="33.3" y1="331.43" x2="437.7" y2="331.43" class="gm"/>
<line x1="33.3" y1="506.64" x2="437.7" y2="506.64" class="g"/>
<line x1="33.3" y1="456.58" x2="437.7" y2="456.58" class="g"/>
<line x1="33.3" y1="406.52" x2="437.7" y2="406.52" class="g"/>
<line x1="33.3" y1="356.46" x2="437.7" y2="356.46" class="g"/>
<line x1="60.26" y1="306.4" x2="60.26" y2="556.7" class="g"/>
<line x1="87.22" y1="306.4" x2="87.22" y2="556.7" class="g"/>
<line x1="114.18" y1="306.4" x2="114.18" y2="556.7" class="g"/>
<line x1="141.14" y1="306.4" x2="141.14" y2="556.7" class="g"/>
<line x1="168.1" y1="306.4" x2="168.1" y2="556.7" class="g"/>
<line x1="195.06" y1="306.4" x2="195.06" y2="556.7" class="g"/>
<line x1="222.02" y1="306.4" x2="222.02" y2="556.7" class="g"/>
<line x1="248.98" y1="306.4" x2="248.98" y2="556.7" class="g"/>
<line x1="275.94" y1="306.4" x2="275.94" y2="556.7" class="g"/>
<line x1="302.9" y1="306.4" x2="302.9" y2="556.7" class="g"/>
<line x1="329.86" y1="306.4" x2="329.86" y2="556.7" class="g"/>
<line x1="356.82" y1="306.4" x2="356.82" y2="556.7" class="g"/>
<line x1="383.78" y1="306.4" x2="383.78" y2="556.7" class="g"/>
<line x1="410.74" y1="306.4" x2="410.74" y2="556.7" class="g"/>
<path d="M38.8 527.48L39.4 519.66L40 509.4L40.6 499.39L41.15 489.31L41.2 488.9L41.8 476.38L42.4 463.84L43 456.59L43.2 453.15L43.6 447.9L44.2 450.62L44.8 441.32L45.4 436.16L46 438.02L46.14 437.56L46.6 432.39L47.2 430.77L47.8 430.87L48.19 434.56L48.4 431.82L49 432.3L49.6 436.06L50.2 439.98L50.54 435.5L50.8 437.13L51.4 434.34L52 439.35L52.6 437.12L52.89 434.79L53.2 431.89L53.8 431.43L54.4 423.83L55 426.74L55.6 422.32L55.82 422.2L56.2 423.58L56.8 424.88L57.4 427.9L58 429.85L58.46 430.57L58.6 428.9L59.2 437.81L59.8 445.65L60.4 457.41L60.81 460.26L61 460.35L61.6 470.82L62.2 480.75L62.8 485.81L63.4 490.96L63.75 494.44L64 495.86L64.6 499.49L65.2 501.91L65.8 505.15L66.4 507.61L66.68 507.89L67 508.61L67.6 511.69L68.2 514.19L68.8 514.94L69.4 515.14L69.61 515.05L70 516.42L70.6 514.11L71.2 514.29L71.8 514.57L72.4 512.6L73 512.31L73.6 512.49L74.02 512.69L74.2 511.64L74.8 511.32L75.4 510.06L76 507.49L76.6 507.51L76.95 505.27L77.2 503.29L77.8 501.82L78.4 496.79L79 492.64L79.6 487.86L79.88 484.17L80.2 479.99L80.8 463.02L81.4 448.99L82 433.22L82.23 429.22L82.6 418.38L83.2 402.24L83.41 400.06L83.8 408.56L84.4 432.12L84.58 433.85L85 444.01L85.6 451.75L85.75 453.03L86.2 450.43L86.8 447.71L87.4 434.13L88 427.81L88.1 426.83L88.6 422.44L89.2 416.03L89.8 410.22L90.4 406.53L91 396.19L91.04 399.89L91.6 393.43L92.2 394.06L92.8 387.41L93.4 386.1L93.97 387.96L94 392.06L94.6 390.23L95.2 390.62L95.8 395.31L96.4 390.86L97 389.85L97.49 395.82L97.6 396.55L98.2 402.83L98.8 407.82L99.4 401.74L100 412.79L100.43 410.99L100.6 409.11L101.2 405.99L101.8 407.57L102.4 397.26L103 391.68L103.36 391.45L103.6 386.18L104.2 388.58L104.8 384.29L105.4 383.13L106 381.14L106.6 375.25L106.88 381.84L107.2 374.23L107.8 378.99L108.4 370.46L109 375.71L109.6 371.41L110.2 373.71L110.7 371.45L110.8 366.68L111.4 370.01L112 373.69L112.6 375.41L113.2 368.91L113.63 366.87L113.8 370.81L114.4 373.7L115 374L115.6 375.43L116.2 382.34L116.57 383.67L116.8 383.59L117.4 380.22L118 384.73L118.6 385.48L119.2 383.45L119.5 390.62L119.8 389.04L120.4 388.66L121 395.04L121.6 394.34L122.2 395.67L122.8 397.69L123.31 397.38L123.4 392.3L124 395.93L124.6 400.95L125.2 397.75L125.8 401.12L126.4 403.15L126.84 406.42L127 406.29L127.6 406.1L128.2 404.18L128.8 407.53L129.4 406.96L129.77 405.34L130 408.98L130.6 406L131.2 401.32L131.8 404.49L132.4 398.62L133 399.12L133.29 392.93L133.6 396.27L134.2 392.55L134.8 391.23L135.4 387.54L136 397.68L136.6 390.82L137.11 391.72L137.2 394.12L137.8 391.36L138.4 394.36L139 390.9L139.6 396.58L140.04 395.84L140.2 398.5L140.8 398.52L141.4 395.22L142 394.74L142.6 397.6L143.2 402.82L143.8 402.84L144.4 403.74L144.44 397.72L145 397.17L145.6 403.64L146.2 405.83L146.8 406.78L147.4 410.76L147.96 411.19L148 408.95L148.6 411.83L149.2 416.68L149.8 419.21L150.4 421.52L151 428.72L151.6 425.31L151.78 426.5L152.2 425.16L152.8 427.69L153.4 430.52L154 431.38L154.6 430.34L154.71 431.42L155.2 429.9L155.8 423.11L156.4 415.95L157 423.53L157.6 416.61L157.65 414.38L158.2 407.69L158.8 405.77L159.4 409.29L160 396.25L160.6 399.72L161.2 400.24L161.46 397.28L161.8 397.48L162.4 392.56L163 397.01L163.6 385.14L164.2 382.01L164.8 384.93L164.98 387.84L165.4 382.56L166 384.48L166.6 378.56L167.2 375.46L167.8 382.25L168.4 381.98L169 381.29L169.38 375.02L169.6 372.72L170.2 372.39L170.8 375.05L171.4 377.34L172 376.95L172.6 370.83L173.2 375.67L173.79 374.95L173.8 375.16L174.4 374.63L175 373.91L175.6 376.2L176.2 374.59L176.8 374.71L177.4 371.65L178 374.75L178.19 373.05L178.6 366.52L179.2 373.88L179.8 370.61L180.4 373.43L181 369.15L181.6 368.83L182 369.7L182.2 369.01L182.8 367.96L183.4 364.35L184 376.75L184.6 366.96L185.2 371.85L185.52 375.46L185.8 375.05L186.4 376.69L187 378.48L187.6 381.23L188.2 379.6L188.8 388.64L189.4 378.24L189.93 382.89L190 381.31L190.6 381.81L191.2 385.16L191.8 389.42L192.4 384.12L193 385.08L193.6 390.17L194.2 390.82L194.33 395.01L194.8 393.45L195.4 392.66L196 392.73L196.6 395.95L197.2 396.92L197.8 396.14L197.85 399.86L198.4 402.13L199 405.74L199.6 409.44L200.2 418.34L200.2 416.12L200.8 419.04L201.4 418.23L202 420.03L202.6 424.22L203.13 427.47L203.2 426.59L203.8 430.01L204.4 435.68L205 437.41L205.6 436.65L206.06 437.22L206.2 436.7L206.8 436.72L207.4 431.52L208 430.08L208.6 428.53L209.2 424.5L209.59 421.4L209.8 421.21L210.4 420.59L211 419.28L211.6 418.11L212.2 414.12L212.8 409.84L213.4 414.89L213.4 412.27L214 413.19L214.6 413.75L215.2 411.55L215.8 414.09L216.4 416.27L217 418.82L217.6 417.37L217.8 410.55L218.2 417.99L218.8 420.05L219.4 422.1L220 420.37L220.6 423.6L221.2 420.67L221.8 420.26L222.2 419.52L222.4 414.14L223 418.29L223.6 416.92L224.2 413.63L224.8 415.57L225.4 414.87L226 412.92L226.6 414.22L226.61 413.91L227.2 413.43L227.8 410.63L228.4 411.86L229 405.18L229.6 408.29L230.2 404.2L230.8 406.29L231.01 408.42L231.4 407.96L232 406.1L232.6 408.16L233.2 412.87L233.47 406.75L233.8 411.6L234.4 405.93L235 408.21L235.6 409.36L236.2 406.48L236.8 408.51L237.4 409.28L237.87 404.28L238 407.06L238.6 406.66L239.2 403.19L239.8 407.67L240.4 406.43L241 411.72L241.6 406.55L242.2 412.78L242.8 407.47L243.4 413.32L243.74 409.93L244 409.35L244.6 409.15L245.2 408.14L245.8 408.01L246.4 407.46L247 400.91L247.6 397.44L248.14 392.97L248.2 398.72L248.8 400.5L249.4 398.31L250 396.44L250.6 394.1L251.2 392.34L251.8 392.52L252.4 393.8L253 387.71L253.13 394.48L253.6 388.62L254.2 392.49L254.8 391.74L255.4 393.16L256 392.16L256.6 392.76L257.2 396.1L257.8 394.73L258.4 404.74L258.41 397.27L259 397.41L259.6 398.5L260.2 398.02L260.8 395.38L261.4 401.79L262 404.01L262.6 400.24L262.81 404.23L263.2 401.7L263.8 405.38L264.4 407.15L265 408.21L265.6 408.76L266.2 406.55L266.8 410.66L267.21 407.55L267.4 409.45L268 410.18L268.6 407.53L269.2 404.81L269.8 408.93L270.4 404.22L271 404.16L271.6 403L271.61 407.75L272.2 404.24L272.8 397.37L273.4 403.02L274 404.78L274.55 403.02L274.6 396.79L275.2 397.59L275.8 397.9L276.4 398.17L277 395.28L277.6 391.82L278.2 396.56L278.36 396.17L278.8 391.01L279.4 393.81L280 395.85L280.6 395.59L281.2 397.53L281.8 398.84L282.4 398.79L283 397.69L283.35 394.83L283.6 400.19L284.2 402.92L284.8 405.17L285.4 400.88L286 401.76L286.6 406.35L287.2 407.12L287.75 405.05L287.8 406.03L288.4 403.14L289 407.24L289.6 404.51L290.2 406.65L290.69 406.84L290.8 405.98L291.4 401.25L292 402.79L292.6 403.59L293.2 400.28L293.8 397.17L294.21 397.99L294.4 398.09L295 396.58L295.6 390.03L296.2 390.23L296.8 387.28L297.4 384.02L298 380.86L298.02 384.83L298.6 381.53L299.2 389.27L299.8 381.74L300.4 380.5L301 379.23L301.6 385.39L302.2 376.55L302.43 378.76L302.8 376.77L303.4 378.43L304 378.46L304.6 381.65L305.2 373.9L305.8 377.94L306.4 382.76L307 376.27L307.6 377.24L307.71 375.1L308.2 369.94L308.8 377.77L309.4 382.02L310 377.61L310.6 374.13L311.2 381.12L311.8 381.3L312.4 384.75L312.7 384.85L313 381.78L313.6 384.58L314.2 379.19L314.8 388.65L315.4 387.21L316 391.11L316.6 392.54L317.1 390.2L317.2 390.9L317.8 391.39L318.4 391.42L319 399.92L319.6 403.95L320.03 403L320.2 408.18L320.8 409.68L321.4 413.68L322 414.06L322.6 414.81L323.2 422.1L323.8 421.86L324.4 419.44L324.43 418.69L325 417.48L325.6 416.02L326.2 413.27L326.8 407.79L327.4 412.25L328 404.81L328.6 405.6L328.84 404.91L329.2 406.16L329.8 401.27L330.4 407.88L331 406.2L331.6 406.22L332.2 407.28L332.8 402.13L333.24 396.43L333.4 405.44L334 409.63L334.6 411.49L335.2 410.09L335.8 413.99L336.4 417.82L337 416.31L337.6 421.73L337.64 421.97L338.2 428.46L338.8 426.12L339.4 432.81L340 432.12L340.6 431.31L341.16 440.54L341.2 434.87L341.8 439.63L342.4 443.62L343 441.87L343.6 442.61L344.2 447.73L344.8 446.85L344.97 444.81L345.4 444.87L346 445.23L346.6 446.26L347.2 442.71L347.8 442.71L348.4 442.91L349 440.91L349.38 440.55L349.6 439.84L350.2 433.85L350.8 438.23L351.4 435.86L352 434.3L352.6 431.75L353.2 429.97L353.78 429.99L353.8 431.96L354.4 426.99L355 424.75L355.6 422.12L356.2 421.82L356.8 416.81L357.4 414.38L358 415.31L358.18 410.83L358.6 412.69L359.2 408.43L359.8 411.34L360.4 410.56L361 410.49L361.6 408.88L362.2 407.58L362.58 409.4L362.8 408.95L363.4 412.54L364 412.49L364.6 407.9L365.2 412.58L365.8 410.33L366.4 412.7L366.98 410.45L367 408.19L367.6 415.18L368.2 414.82L368.8 411.76L369.4 410.91L370 414.57L370.6 413.77L371.2 416.37L371.38 418.81L371.8 420.5L372.4 416.19L373 419.79L373.6 419.1L374.2 415.34L374.8 412.42L375.4 417.94L375.79 417.34L376 421.16L376.6 418.88L377.2 417.26L377.8 419.15L378.4 412.84L379 415.46L379.6 414.18L380.19 418.47L380.2 415.79L380.8 407.02L381.4 416.33L382 410.06L382.6 412.82L383.2 408.66L383.8 409.18L384.4 409.04L384.59 407.67L385 403.19L385.6 406.47L386.2 401.38L386.8 397.8L387.4 397.41L388 392.14L388.4 397.67L388.6 393.49L389.2 395.64L389.8 398.28L390.4 398.38L391 401.48L391.6 408.64L392.2 412.42L392.8 417.59L392.81 415.57L393.4 413.56L394 418.51L394.6 420.4L395.2 421.94L395.8 421.62L396.33 419.3L396.4 424.33L397 420.35L397.6 423.28L398.2 418.83L398.8 423.59L399.4 419.65L399.85 422.74L400 424.57L400.6 424.03L401.2 418.91L401.8 418.61L402.4 417.67L403 419.88L403.6 418.31L403.66 417.83L404.2 416.43L404.8 414.95L405.4 412.92L406 413.2L406.6 406.91L407.2 405.6L407.8 398.79L408.06 399.49L408.4 400.06L409 396.95L409.6 398.74L410.2 399.15L410.8 393.61L411.4 392.04L412 390.82L412.6 391.79L413.2 389.57L413.35 392.23L413.8 392.15L414.4 393.36L415 396.18L415.6 396.31L416.2 398.87L416.8 405.2L417.4 402.52L417.45 404.78L418 404.6L418.6 405.45L419.2 407.6L419.8 408.69L420.4 412.14L421 411.55L421.27 412.07L421.6 415.78L422.2 412.28L422.8 414.56L423.4 411.65L424 412.04L424.6 407.49L425.2 408.26L425.67 413.54L425.8 408.97L426.4 408.43L427 405.46L427.6 405.89L428.2 399.72L428.8 399.43L429.4 401.75L430 402L430.07 398.77L430.6 398.77L431.2 397.68L431.8 397.52L432.4 394.36L433 393.35L433.6 396.69L433.89 392.31L434.2 394.42L434.8 396.07L435.4 396.52L436 401.79L436.6 402.39L437.12 405.47" stroke="#1f77b4" class="cv" style="stroke-width:1.4px"/>
<path d="M38.8 526.66L39.4 518.5L40 510.39L40.6 500.49L41.15 490.41L41.2 490.13L41.8 477.7L42.4 466.75L43 460.21L43.2 455.72L43.6 454.31L44.2 450.92L44.8 446.78L45.4 441.15L46 441.95L46.14 440.95L46.6 439.93L47.2 439.19L47.8 438.71L48.19 436.92L48.4 439.14L49 437.18L49.6 442.87L50.2 442.46L50.54 444.67L50.8 446.26L51.4 443.68L52 441.8L52.6 441.86L52.89 439.78L53.2 438.68L53.8 436.69L54.4 438.04L55 434.66L55.6 433.22L55.82 429.89L56.2 433.44L56.8 429.78L57.4 433.39L58 431.2L58.46 437.85L58.6 431.55L59.2 441.76L59.8 449.49L60.4 455.06L60.81 462.54L61 466.81L61.6 473.2L62.2 477.13L62.8 484.95L63.4 490.13L63.75 492.87L64 494.9L64.6 500.55L65.2 502.38L65.8 504.86L66.4 507.13L66.68 508.89L67 510.01L67.6 510.79L68.2 514.58L68.8 514L69.4 515.41L69.61 516.05L70 517.06L70.6 515.42L71.2 515.92L71.8 516.73L72.4 516.19L73 516.59L73.6 516.52L74.02 515.9L74.2 516.15L74.8 515.71L75.4 513.62L76 513.09L76.6 508.08L76.95 507.62L77.2 508.45L77.8 504.31L78.4 499.08L79 494.57L79.6 488.94L79.88 484.42L80.2 481.21L80.8 469.21L81.4 455.9L82 442.51L82.23 439.86L82.6 426.63L83.2 414.82L83.41 415.87L83.8 416.6L84.4 431.53L84.58 438.89L85 445.95L85.6 454.51L85.75 455.7L86.2 451.47L86.8 450L87.4 433.58L88 426.28L88.1 423.23L88.6 420.1L89.2 418.29L89.8 409.07L90.4 405.39L91 398.61L91.04 404.33L91.6 396.91L92.2 389.85L92.8 392.59L93.4 387.54L93.97 389.62L94 388.31L94.6 389.14L95.2 389.96L95.8 388.77L96.4 389.15L97 397.81L97.49 396.38L97.6 397.8L98.2 398.04L98.8 396.72L99.4 401.06L100 409.21L100.43 404.18L100.6 404.98L101.2 400.08L101.8 398.51L102.4 394.31L103 390.42L103.36 388.81L103.6 386.07L104.2 383.27L104.8 382.04L105.4 380.42L106 376.73L106.6 380.68L106.88 375.32L107.2 374.74L107.8 371.41L108.4 375.95L109 368.98L109.6 366.73L110.2 368.59L110.7 373.68L110.8 368.18L111.4 376.03L112 372.1L112.6 367.64L113.2 371.86L113.63 378.28L113.8 370.14L114.4 369.8L115 377.2L115.6 381.56L116.2 382.58L116.57 379.58L116.8 381.71L117.4 383.65L118 387.65L118.6 391.92L119.2 386.93L119.5 391.55L119.8 387.59L120.4 391.4L121 388.35L121.6 389.94L122.2 394.24L122.8 391.84L123.31 397.6L123.4 393.96L124 396.93L124.6 397.9L125.2 398.64L125.8 401.14L126.4 404.66L126.84 410.38L127 400.02L127.6 405.16L128.2 405.37L128.8 404.83L129.4 408.71L129.77 406.37L130 408.43L130.6 411.31L131.2 402.5L131.8 406.07L132.4 404.58L133 399.33L133.29 402.45L133.6 401.4L134.2 398.36L134.8 401.18L135.4 393.47L136 397.82L136.6 395.12L137.11 392.94L137.2 395.31L137.8 395.68L138.4 400.21L139 396.02L139.6 401.09L140.04 401.45L140.2 406.58L140.8 399.89L141.4 405.31L142 398.15L142.6 403.31L143.2 402.04L143.8 403.36L144.4 400.8L144.44 397.68L145 399.81L145.6 408.19L146.2 406.94L146.8 405.95L147.4 411.85L147.96 409.65L148 409.79L148.6 410.87L149.2 418.79L149.8 423.12L150.4 419.44L151 424.43L151.6 427.66L151.78 430.36L152.2 422.16L152.8 428.5L153.4 430.58L154 427.22L154.6 431.25L154.71 430.85L155.2 431.02L155.8 425.54L156.4 423.51L157 416.94L157.6 415.89L157.65 414.65L158.2 410.64L158.8 405.21L159.4 409.77L160 405.75L160.6 402.55L161.2 396L161.46 395.73L161.8 399.66L162.4 394.68L163 387.78L163.6 387.89L164.2 386.04L164.8 383.29L164.98 380.69L165.4 386.11L166 382.85L166.6 379.28L167.2 374.03L167.8 376L168.4 376.94L169 378.99L169.38 374.97L169.6 379.36L170.2 376.13L170.8 373.2L171.4 366.74L172 371.53L172.6 370.4L173.2 374.35L173.79 375.67L173.8 378.92L174.4 374.42L175 370.72L175.6 381.4L176.2 374.93L176.8 372.96L177.4 372.74L178 369.09L178.19 375.17L178.6 374.04L179.2 377.11L179.8 374.69L180.4 373.02L181 373.46L181.6 368.01L182 367.39L182.2 368.67L182.8 365.2L183.4 369.38L184 369.68L184.6 373.81L185.2 372.68L185.52 367.3L185.8 373.78L186.4 379.12L187 370.35L187.6 374.93L188.2 378.58L188.8 375.88L189.4 379.45L189.93 382.23L190 378.35L190.6 384.09L191.2 385.36L191.8 381.45L192.4 386.07L193 390.01L193.6 387.5L194.2 390.38L194.33 391.22L194.8 389.84L195.4 394.6L196 394.53L196.6 392.63L197.2 398.64L197.8 401.77L197.85 401.8L198.4 400.85L199 407.34L199.6 413.59L200.2 414.95L200.2 417.16L200.8 421.1L201.4 422.12L202 427.53L202.6 429.59L203.13 435.53L203.2 433.82L203.8 437.46L204.4 443.26L205 447.53L205.6 451.11L206.06 451.86L206.2 449.09L206.8 447.61L207.4 445.79L208 442L208.6 437.28L209.2 438.63L209.59 434.21L209.8 430.79L210.4 429.29L211 427.56L211.6 422.69L212.2 415.4L212.8 416.92L213.4 414.6L213.4 419.33L214 411.24L214.6 419.82L215.2 417.09L215.8 420.58L216.4 418.99L217 421.03L217.6 423.98L217.8 422.03L218.2 425.27L218.8 423.86L219.4 423.39L220 423.51L220.6 422.44L221.2 422.83L221.8 425.88L222.2 420.89L222.4 420.03L223 423.86L223.6 427.76L224.2 426.87L224.8 428.04L225.4 428.75L226 426.01L226.6 429.44L226.61 423.98L227.2 426.99L227.8 428.74L228.4 423.95L229 422.67L229.6 424.05L230.2 426.99L230.8 428.74L231.01 431.54L231.4 429.92L232 428.44L232.6 427.98L233.2 433.22L233.47 434.92L233.8 429.63L234.4 431.13L235 430.47L235.6 430.46L236.2 428.99L236.8 429.28L237.4 429.28L237.87 426.49L238 427.65L238.6 429.19L239.2 421.93L239.8 420.76L240.4 422.92L241 424.64L241.6 419.82L242.2 420.59L242.8 416.17L243.4 417.53L243.74 413.25L244 415.48L244.6 413.01L245.2 410.96L245.8 411.15L246.4 408.25L247 402.01L247.6 403.81L248.14 395.69L248.2 402.49L248.8 405.9L249.4 398.95L250 397.73L250.6 395.46L251.2 396.57L251.8 392.35L252.4 394.86L253 392.07L253.13 391.65L253.6 393.24L254.2 393.07L254.8 389.09L255.4 400.05L256 395.65L256.6 391.66L257.2 399.88L257.8 397.83L258.4 399.21L258.41 400.53L259 397.13L259.6 392.69L260.2 400.83L260.8 402.54L261.4 405.28L262 401.67L262.6 403.64L262.81 405.54L263.2 404.24L263.8 405.18L264.4 407.22L265 404.95L265.6 411.84L266.2 406.34L266.8 408.96L267.21 408.15L267.4 407.24L268 410.09L268.6 410.99L269.2 411.72L269.8 409.17L270.4 406.16L271 408.75L271.6 402.48L271.61 406.12L272.2 406.25L272.8 404.74L273.4 398.54L274 395.91L274.55 402.99L274.6 397.25L275.2 393.4L275.8 393.6L276.4 396.15L277 398.64L277.6 395.04L278.2 398.05L278.36 395.43L278.8 396.13L279.4 397.71L280 394.42L280.6 396.67L281.2 395.4L281.8 395.34L282.4 399.36L283 396.11L283.35 398.81L283.6 396.8L284.2 399.32L284.8 399L285.4 403.99L286 402.29L286.6 403.14L287.2 407.86L287.75 397.24L287.8 401.7L288.4 398.46L289 405.98L289.6 407.76L290.2 408.73L290.69 407.95L290.8 405.17L291.4 410.81L292 405.74L292.6 402.25L293.2 397.72L293.8 399.44L294.21 395.72L294.4 395.22L295 395L295.6 392.96L296.2 388.03L296.8 391.88L297.4 383.8L298 382.09L298.02 386.13L298.6 384.55L299.2 383.33L299.8 380.95L300.4 381.41L301 378.86L301.6 375.01L302.2 381.68L302.43 376.33L302.8 378.5L303.4 381.11L304 378.75L304.6 386.71L305.2 374.06L305.8 375.86L306.4 378.26L307 382.01L307.6 377.13L307.71 373.56L308.2 381.39L308.8 375.41L309.4 377.99L310 381.74L310.6 377.73L311.2 379.08L311.8 382.59L312.4 381.3L312.7 383.1L313 379.89L313.6 383.15L314.2 381.3L314.8 381.08L315.4 391.74L316 389.4L316.6 392.2L317.1 388.39L317.2 391.3L317.8 393.25L318.4 393.18L319 401.71L319.6 401.83L320.03 405.22L320.2 402.81L320.8 411.85L321.4 414.44L322 416.71L322.6 416.72L323.2 419.92L323.8 425.25L324.4 422.74L324.43 423.88L325 423.52L325.6 420.62L326.2 425.77L326.8 417.88L327.4 422.03L328 420.84L328.6 417.08L328.84 421.1L329.2 421.24L329.8 419.74L330.4 417.3L331 419.56L331.6 420.56L332.2 418.22L332.8 421.31L333.24 419.35L333.4 419.17L334 420.95L334.6 417.33L335.2 418.87L335.8 422.55L336.4 424.12L337 427.76L337.6 428.5L337.64 426.61L338.2 428.14L338.8 428.87L339.4 430.52L340 432.23L340.6 436.64L341.16 436.67L341.2 437.07L341.8 440.89L342.4 442.88L343 446.48L343.6 446.34L344.2 452.69L344.8 453.38L344.97 454.44L345.4 453.82L346 448.73L346.6 453.09L347.2 447.14L347.8 444.6L348.4 438.69L349 440.5L349.38 438.86L349.6 436.53L350.2 435.2L350.8 434.83L351.4 429.42L352 425.97L352.6 428.18L353.2 423.61L353.78 420.29L353.8 425.53L354.4 418.44L355 415.01L355.6 413.23L356.2 408.86L356.8 407.61L357.4 404.92L358 400.62L358.18 401.01L358.6 402.45L359.2 402.65L359.8 403.21L360.4 403.83L361 402.66L361.6 403.64L362.2 401.8L362.58 402.45L362.8 406.15L363.4 400.12L364 407.54L364.6 415.98L365.2 405.8L365.8 415.38L366.4 409.43L366.98 415.56L367 418.45L367.6 419.12L368.2 414.48L368.8 414.16L369.4 414.29L370 419.43L370.6 417.43L371.2 418.85L371.38 419.61L371.8 420.15L372.4 420.75L373 420.2L373.6 416.85L374.2 423.82L374.8 415.27L375.4 424.24L375.79 420.66L376 421.72L376.6 421.62L377.2 422.57L377.8 423.95L378.4 424.06L379 423.01L379.6 427.56L380.19 425.15L380.2 429L380.8 423.84L381.4 420.25L382 420.08L382.6 418.35L383.2 411.44L383.8 410.09L384.4 411.49L384.59 404.85L385 404.48L385.6 405.78L386.2 401.13L386.8 396.83L387.4 397.88L388 402.47L388.4 403.06L388.6 402.97L389.2 403.43L389.8 401.3L390.4 408.54L391 412.5L391.6 411.09L392.2 417.5L392.8 416.71L392.81 417.95L393.4 420.02L394 417.63L394.6 425.41L395.2 421.97L395.8 424.93L396.33 425.32L396.4 427.37L397 428.34L397.6 428.67L398.2 432.49L398.8 431.09L399.4 430.11L399.85 425.14L400 430.26L400.6 429.84L401.2 427.39L401.8 425.46L402.4 426.17L403 424.87L403.6 424.71L403.66 422.92L404.2 416.81L404.8 416.42L405.4 410.1L406 412.33L406.6 408.94L407.2 404.24L407.8 403.4L408.06 402.25L408.4 400.27L409 403.46L409.6 406.33L410.2 398.66L410.8 397.69L411.4 393.87L412 391.35L412.6 397.54L413.2 390.16L413.35 392.24L413.8 391.1L414.4 394.13L415 394.1L415.6 397.9L416.2 395.31L416.8 400.55L417.4 406.18L417.45 400.28L418 402.92L418.6 409.99L419.2 409.75L419.8 413.23L420.4 407.03L421 413.38L421.27 410.2L421.6 409.87L422.2 413.64L422.8 414.76L423.4 407.62L424 407.49L424.6 407.65L425.2 407.7L425.67 404.04L425.8 412.55L426.4 407.51L427 404.1L427.6 402.57L428.2 408.59L428.8 407.38L429.4 399.51L430 400.89L430.07 403.17L430.6 396.29L431.2 397.19L431.8 401.65L432.4 395.78L433 396.08L433.6 393.45L433.89 394.97L434.2 398.9L434.8 395.73L435.4 395.95L436 399.68L436.6 408.03L437.12 406.19" stroke="#ff7f0e" class="cv" style="stroke-width:1.4px"/>
<path d="M38.8 527.51L39.4 520.2L40 510.97L40.6 499.81L41.15 490.56L41.2 489.44L41.8 477.8L42.4 463.52L43 453.47L43.2 446.86L43.6 447.9L44.2 439.05L44.8 435.3L45.4 429.87L46 427.18L46.14 428.64L46.6 428.83L47.2 426.22L47.8 426L48.19 427.64L48.4 424.65L49 425.25L49.6 431.77L50.2 431.9L50.54 429.97L50.8 431.95L51.4 431.78L52 429.02L52.6 426.91L52.89 429.25L53.2 430.19L53.8 426.09L54.4 423.04L55 423.7L55.6 423.45L55.82 421.21L56.2 423.19L56.8 425.24L57.4 424.38L58 425.48L58.46 429.86L58.6 430.47L59.2 438.44L59.8 443.75L60.4 454.78L60.81 460.36L61 461.65L61.6 471.49L62.2 479.19L62.8 484.82L63.4 492.23L63.75 494.39L64 495.96L64.6 499.45L65.2 503.09L65.8 504.02L66.4 507.94L66.68 508.89L67 508.09L67.6 511.85L68.2 513.26L68.8 515.54L69.4 515.33L69.61 515.73L70 516.02L70.6 515.04L71.2 516.22L71.8 515.66L72.4 516.14L73 515.33L73.6 516.61L74.02 516.23L74.2 515.56L74.8 515.54L75.4 514.7L76 513.3L76.6 508.46L76.95 509.12L77.2 507.72L77.8 503.95L78.4 498.85L79 495.33L79.6 487.11L79.88 485.4L80.2 481.76L80.8 467.59L81.4 455.73L82 440.52L82.23 438.42L82.6 431.95L83.2 420.33L83.41 410.47L83.8 418.13L84.4 435.89L84.58 440.81L85 445.69L85.6 451.14L85.75 453.1L86.2 450.79L86.8 443.81L87.4 433.97L88 428.06L88.1 426.87L88.6 420.92L89.2 414.48L89.8 406.12L90.4 402.86L91 403.11L91.04 399.35L91.6 392.85L92.2 397L92.8 392.1L93.4 394.65L93.97 388.27L94 386.8L94.6 384.52L95.2 393.43L95.8 398.47L96.4 391.16L97 393.66L97.49 398.47L97.6 395.07L98.2 398.92L98.8 401.52L99.4 405.45L100 409.4L100.43 407.22L100.6 409.27L101.2 404.02L101.8 402.21L102.4 391.4L103 389L103.36 393.22L103.6 388.3L104.2 388.85L104.8 386.13L105.4 386L106 382.44L106.6 381.45L106.88 377.49L107.2 375.14L107.8 374.01L108.4 373.81L109 371.03L109.6 372.21L110.2 373.24L110.7 374.21L110.8 372.37L111.4 367.45L112 373.2L112.6 374.13L113.2 376.8L113.63 375.22L113.8 371.47L114.4 372.07L115 382.03L115.6 380.11L116.2 385.22L116.57 387.06L116.8 378.95L117.4 384.03L118 385.79L118.6 387.59L119.2 388.96L119.5 388.67L119.8 389.23L120.4 385.8L121 390.65L121.6 390.18L122.2 393.65L122.8 393.18L123.31 397.08L123.4 397.79L124 397.73L124.6 399.12L125.2 399.93L125.8 399.85L126.4 401.7L126.84 401.53L127 403.97L127.6 403.86L128.2 406.05L128.8 401.98L129.4 407.81L129.77 403.84L130 403.82L130.6 404.26L131.2 401.77L131.8 401.98L132.4 397.77L133 394.73L133.29 394.68L133.6 399.75L134.2 395.16L134.8 390.67L135.4 392.71L136 387.53L136.6 396.11L137.11 386.84L137.2 392.36L137.8 393.15L138.4 389.01L139 395.32L139.6 398.67L140.04 398.13L140.2 397.84L140.8 400.5L141.4 399.2L142 400.35L142.6 399.86L143.2 402.53L143.8 399.36L144.4 404.69L144.44 401.5L145 401.13L145.6 406.05L146.2 410.73L146.8 410.52L147.4 408.69L147.96 413.2L148 410.64L148.6 413.54L149.2 416.55L149.8 414L150.4 422.08L151 421.88L151.6 424.42L151.78 423.25L152.2 424.11L152.8 426.53L153.4 431.11L154 433.52L154.6 430.59L154.71 432.76L155.2 429.27L155.8 423.04L156.4 423.14L157 419.45L157.6 413.76L157.65 415.19L158.2 413.07L158.8 406.76L159.4 402.37L160 402.66L160.6 400.01L161.2 397.06L161.46 399.5L161.8 400.06L162.4 391.79L163 392.33L163.6 390.67L164.2 387.94L164.8 387.17L164.98 382.57L165.4 384.88L166 387.35L166.6 382.53L167.2 377.15L167.8 379.86L168.4 381.05L169 377.74L169.38 374.64L169.6 380.95L170.2 372.15L170.8 377.28L171.4 375.51L172 371.73L172.6 378.98L173.2 376.14L173.79 371.3L173.8 376.74L174.4 373.37L175 368.66L175.6 372.24L176.2 375.02L176.8 375.98L177.4 374.3L178 373.66L178.19 374.89L178.6 372.45L179.2 376.05L179.8 371.91L180.4 371.42L181 371.39L181.6 365.76L182 366.76L182.2 373.94L182.8 370.46L183.4 369.15L184 372L184.6 370.4L185.2 373.79L185.52 371.36L185.8 374.73L186.4 370.09L187 380.2L187.6 375.85L188.2 373.96L188.8 379.33L189.4 380.14L189.93 382.68L190 379.02L190.6 384.55L191.2 394.79L191.8 381.57L192.4 387.1L193 386.21L193.6 388.67L194.2 384.26L194.33 386.37L194.8 391.88L195.4 391.93L196 398.02L196.6 393.51L197.2 397.84L197.8 407.15L197.85 397.87L198.4 400.3L199 406.22L199.6 410.34L200.2 416.42L200.2 414.85L200.8 416.98L201.4 423.31L202 432.47L202.6 433.87L203.13 429.91L203.2 435.29L203.8 438.77L204.4 446.47L205 449.83L205.6 456.12L206.06 455.48L206.2 455.37L206.8 453.12L207.4 450.35L208 447.92L208.6 446.48L209.2 442.8L209.59 440.31L209.8 442.75L210.4 439.84L211 438.41L211.6 436.31L212.2 436.06L212.8 435.51L213.4 431.44L213.4 438.36L214 437.62L214.6 436.4L215.2 438.94L215.8 438.14L216.4 438.3L217 433.42L217.6 437.56L217.8 438.93L218.2 440.61L218.8 439.84L219.4 437.15L220 429.8L220.6 425.02L221.2 427.88L221.8 424.54L222.2 425.32L222.4 422.54L223 421.67L223.6 416.33L224.2 419.01L224.8 415.65L225.4 416.31L226 415.82L226.6 414.24L226.61 415.23L227.2 414.66L227.8 416.92L228.4 417.1L229 415.7L229.6 416.67L230.2 422.82L230.8 419.83L231.01 422.51L231.4 421.95L232 421.32L232.6 422.28L233.2 424.92L233.47 425.31L233.8 426L234.4 421.84L235 422.72L235.6 423.11L236.2 425.92L236.8 416.75L237.4 421.89L237.87 419.22L238 421.14L238.6 418.42L239.2 419.52L239.8 421.38L240.4 417.89L241 417.2L241.6 416.15L242.2 412.64L242.8 414.55L243.4 411.73L243.74 409.68L244 410.93L244.6 409.02L245.2 409.7L245.8 405.99L246.4 402.97L247 406.21L247.6 403.51L248.14 403.1L248.2 401.28L248.8 398.24L249.4 396.22L250 395.39L250.6 397.56L251.2 394.36L251.8 389.28L252.4 392.64L253 388.66L253.13 392.95L253.6 389.32L254.2 389.49L254.8 393.78L255.4 393.94L256 390.52L256.6 397.81L257.2 402.41L257.8 393.7L258.4 403.09L258.41 396.58L259 397.84L259.6 399.47L260.2 397.08L260.8 404.9L261.4 403.69L262 401.37L262.6 403.31L262.81 400.48L263.2 403.85L263.8 407.78L264.4 402.11L265 406L265.6 408.08L266.2 410.77L266.8 411.8L267.21 407.55L267.4 406.86L268 409.59L268.6 407.4L269.2 407.18L269.8 410.08L270.4 411.04L271 407L271.6 405.25L271.61 407.1L272.2 400L272.8 402.98L273.4 398.48L274 405.63L274.55 400.24L274.6 398.66L275.2 396.91L275.8 389.95L276.4 397.72L277 399.55L277.6 392.82L278.2 396.39L278.36 396.49L278.8 390.46L279.4 397.31L280 398.77L280.6 396.23L281.2 396.01L281.8 398.85L282.4 393.36L283 398.26L283.35 401.11L283.6 395.4L284.2 401.89L284.8 399.06L285.4 395.7L286 401.61L286.6 400.31L287.2 404.36L287.75 401.33L287.8 406.9L288.4 403.23L289 406.72L289.6 405.11L290.2 406.25L290.69 410.05L290.8 407.67L291.4 405.46L292 401.78L292.6 405.69L293.2 402.35L293.8 397.38L294.21 397.54L294.4 393.59L295 391.62L295.6 390.02L296.2 391.19L296.8 389.1L297.4 384.44L298 387.32L298.02 387.41L298.6 384.6L299.2 386.07L299.8 381.23L300.4 380.87L301 381.86L301.6 379.75L302.2 381.78L302.43 375.55L302.8 383.39L303.4 376.52L304 378.12L304.6 374.26L305.2 380.02L305.8 381.9L306.4 381.17L307 380.38L307.6 373.13L307.71 375.47L308.2 376.5L308.8 375.32L309.4 381.91L310 379.61L310.6 379.61L311.2 381.82L311.8 378.3L312.4 379.2L312.7 379.65L313 384.07L313.6 384.46L314.2 386.09L314.8 388.6L315.4 382.88L316 386.53L316.6 390.05L317.1 387.32L317.2 389.9L317.8 396.52L318.4 399.8L319 403.06L319.6 403.72L320.03 405.19L320.2 409.12L320.8 408.6L321.4 413.45L322 418.8L322.6 417.9L323.2 419.76L323.8 422.66L324.4 424.56L324.43 424.32L325 423.54L325.6 424.12L326.2 419.19L326.8 420.25L327.4 421.89L328 419.03L328.6 417.66L328.84 417.78L329.2 418.13L329.8 419.23L330.4 416.87L331 419.08L331.6 421.82L332.2 417.4L332.8 420.31L333.24 418.08L333.4 414.99L334 417.32L334.6 416.62L335.2 421.64L335.8 418.99L336.4 425.8L337 425.83L337.6 422.05L337.64 427.84L338.2 430.8L338.8 427.84L339.4 433.11L340 429.67L340.6 435.36L341.16 433.49L341.2 437.51L341.8 435.36L342.4 436.1L343 443.44L343.6 448.42L344.2 445.08L344.8 448.08L344.97 446.96L345.4 446.09L346 446.86L346.6 447.38L347.2 441.12L347.8 442.56L348.4 440.63L349 436.13L349.38 440.87L349.6 441.13L350.2 435.04L350.8 439.17L351.4 435.36L352 434.23L352.6 436.61L353.2 433.41L353.78 432.73L353.8 434.97L354.4 433.46L355 431.42L355.6 425.49L356.2 423.69L356.8 427.83L357.4 422.47L358 423.81L358.18 421.07L358.6 422.5L359.2 419.61L359.8 425.22L360.4 419.11L361 420.61L361.6 420.17L362.2 423L362.58 417.33L362.8 420.33L363.4 420.2L364 422.23L364.6 422.67L365.2 421.28L365.8 423.29L366.4 422.39L366.98 424.29L367 423.1L367.6 421.76L368.2 422.62L368.8 422.8L369.4 426.09L370 419.4L370.6 420.36L371.2 422.25L371.38 414.38L371.8 414.77L372.4 415.5L373 417.41L373.6 422.63L374.2 417.71L374.8 419.17L375.4 415.66L375.79 410.46L376 410.7L376.6 417.96L377.2 415.91L377.8 412.42L378.4 417.71L379 411.54L379.6 417.36L380.19 417.8L380.2 412.76L380.8 411.46L381.4 415.11L382 409.61L382.6 413L383.2 406.94L383.8 410.5L384.4 407.7L384.59 406.12L385 404.27L385.6 405.86L386.2 399.35L386.8 402.22L387.4 400.99L388 403.14L388.4 398.12L388.6 405.72L389.2 401.57L389.8 401.44L390.4 410.17L391 413.62L391.6 412.18L392.2 413.29L392.8 417.47L392.81 415.92L393.4 418.46L394 424.07L394.6 423.06L395.2 423.97L395.8 425.76L396.33 426.13L396.4 428.13L397 429.71L397.6 428.89L398.2 431.41L398.8 437.11L399.4 434.16L399.85 433.23L400 437.39L400.6 432.7L401.2 428.79L401.8 429.88L402.4 424.01L403 422.06L403.6 421.3L403.66 420.1L404.2 416.6L404.8 414.52L405.4 411.77L406 413.26L406.6 406.25L407.2 404.23L407.8 408.64L408.06 401.38L408.4 405.54L409 403.34L409.6 397.74L410.2 392.63L410.8 395.96L411.4 395.14L412 394.83L412.6 391.6L413.2 394.36L413.35 394.85L413.8 388.42L414.4 396.29L415 394.58L415.6 394.72L416.2 397.66L416.8 405.49L417.4 405.1L417.45 398.28L418 404.67L418.6 406.22L419.2 408.27L419.8 409.41L420.4 408.74L421 414.93L421.27 410.88L421.6 412.13L422.2 411.2L422.8 410.22L423.4 412.77L424 410.92L424.6 407.34L425.2 405.64L425.67 406.04L425.8 409.31L426.4 406.29L427 405.47L427.6 402.95L428.2 402L428.8 402.15L429.4 395.96L430 404.05L430.07 397.81L430.6 397.8L431.2 402.1L431.8 398.61L432.4 397.63L433 395.61L433.6 392.82L433.89 397.39L434.2 400.16L434.8 395.47L435.4 402.78L436 398.36L436.6 401.71L437.12 406.94" stroke="#2ca02c" class="cv" style="stroke-width:1.4px"/>
<rect x="33.3" y="306.4" width="404.4" height="250.3" class="sp"/>
<line x1="33.3" y1="556.7" x2="33.3" y2="560.2" class="tk"/>
<text x="33.3" y="569.5" class="tl" text-anchor="middle">500</text>
<line x1="60.26" y1="556.7" x2="60.26" y2="560.2" class="tk"/>
<text x="60.26" y="569.5" class="tl" text-anchor="middle">1000</text>
<line x1="87.22" y1="556.7" x2="87.22" y2="560.2" class="tk"/>
<text x="87.22" y="569.5" class="tl" text-anchor="middle">1500</text>
<line x1="114.18" y1="556.7" x2="114.18" y2="560.2" class="tk"/>
<text x="114.18" y="569.5" class="tl" text-anchor="middle">2000</text>
<line x1="141.14" y1="556.7" x2="141.14" y2="560.2" class="tk"/>
<text x="141.14" y="569.5" class="tl" text-anchor="middle">2500</text>
<line x1="168.1" y1="556.7" x2="168.1" y2="560.2" class="tk"/>
<text x="168.1" y="569.5" class="tl" text-anchor="middle">3000</text>
<line x1="195.06" y1="556.7" x2="195.06" y2="560.2" class="tk"/>
<text x="195.06" y="569.5" class="tl" text-anchor="middle">3500</text>
<line x1="222.02" y1="556.7" x2="222.02" y2="560.2" class="tk"/>
<text x="222.02" y="569.5" class="tl" text-anchor="middle">4000</text>
<line x1="248.98" y1="556.7" x2="248.98" y2="560.2" class="tk"/>
<text x="248.98" y="569.5" class="tl" text-anchor="middle">4500</text>
<line x1="275.94" y1="556.7" x2="275.94" y2="560.2" class="tk"/>
<text x="275.94" y="569.5" class="tl" text-anchor="middle">5000</text>
<line x1="302.9" y1="556.7" x2="302.9" y2="560.2" class="tk"/>
<text x="302.9" y="569.5" class="tl" text-anchor="middle">5500</text>
<line x1="329.86" y1="556.7" x2="329.86" y2="560.2" class="tk"/>
<text x="329.86" y="569.5" class="tl" text-anchor="middle">6000</text>
<line x1="356.82" y1="556.7" x2="356.82" y2="560.2" class="tk"/>
<text x="356.82" y="569.5" class="tl" text-anchor="middle">6500</text>
<line x1="383.78" y1="556.7" x2="383.78" y2="560.2" class="tk"/>
<text x="383.78" y="569.5" class="tl" text-anchor="middle">7000</text>
<line x1="410.74" y1="556.7" x2="410.74" y2="560.2" class="tk"/>
<text x="410.74" y="569.5" class="tl" text-anchor="middle">7500</text>
<line x1="437.7" y1="556.7" x2="437.7" y2="560.2" class="tk"/>
<text x="437.7" y="569.5" class="tl" text-anchor="middle">8000</text>
<line x1="29.8" y1="556.7" x2="33.3" y2="556.7" class="tk"/>
<text x="28.3" y="559.8" class="tl" text-anchor="end">0</text>
<line x1="29.8" y1="506.64" x2="33.3" y2="506.64" class="tk"/>
<text x="28.3" y="509.74" class="tl" text-anchor="end">20</text>
<line x1="29.8" y1="456.58" x2="33.3" y2="456.58" class="tk"/>
<text x="28.3" y="459.68" class="tl" text-anchor="end">40</text>
<line x1="29.8" y1="406.52" x2="33.3" y2="406.52" class="tk"/>
<text x="28.3" y="409.62" class="tl" text-anchor="end">60</text>
<line x1="29.8" y1="356.46" x2="33.3" y2="356.46" class="tk"/>
<text x="28.3" y="359.56" class="tl" text-anchor="end">80</text>
<line x1="29.8" y1="306.4" x2="33.3" y2="306.4" class="tk"/>
<text x="28.3" y="309.5" class="tl" text-anchor="end">100</text>
<text x="235.5" y="581.2" class="al" text-anchor="middle" textLength="64.5" lengthAdjust="spacingAndGlyphs">Frequency (MHz)</text>
<text transform="translate(8.4 431.55) rotate(-90)" x="0" y="0" class="al" text-anchor="middle" textLength="59.3" lengthAdjust="spacingAndGlyphs">Efficiency (%)</text>
<rect x="338.7" y="311.3" width="94.9" height="40.7" rx="2.5" class="lg"/>
<line x1="341.2" y1="318.6" x2="357.7" y2="318.6" stroke="#1f77b4" class="ll"/>
<text x="363.1" y="322.1" class="lt" textLength="51.8" lengthAdjust="spacingAndGlyphs">FXUB06 - Left</text>
<line x1="341.2" y1="331.7" x2="357.7" y2="331.7" stroke="#ff7f0e" class="ll"/>
<text x="363.1" y="335.2" class="lt" textLength="57.8" lengthAdjust="spacingAndGlyphs">FXUB06 - Right</text>
<line x1="341.2" y1="344.7" x2="357.7" y2="344.7" stroke="#2ca02c" class="ll"/>
<text x="363.1" y="348.2" class="lt" textLength="67.5" lengthAdjust="spacingAndGlyphs">FXUB06 - Straight</text>
<rect x="489.64" y="305.7" width="10.23" height="249.5" class="bd"/>
<rect x="500.84" y="305.7" width="7.36" height="249.5" class="bd"/>
<rect x="533.49" y="305.7" width="4.93" height="249.5" class="bd"/>
<rect x="548.82" y="305.7" width="26.53" height="249.5" class="bd"/>
<rect x="580.76" y="305.7" width="21.12" height="249.5" class="bd"/>
<rect x="634.91" y="305.7" width="92.05" height="249.5" class="bd"/>
<rect x="735.08" y="305.7" width="106.94" height="249.5" class="bd"/>
<line x1="483.3" y1="530.25" x2="889.4" y2="530.25" class="gm"/>
<line x1="483.3" y1="480.35" x2="889.4" y2="480.35" class="gm"/>
<line x1="483.3" y1="430.45" x2="889.4" y2="430.45" class="gm"/>
<line x1="483.3" y1="380.55" x2="889.4" y2="380.55" class="gm"/>
<line x1="483.3" y1="330.65" x2="889.4" y2="330.65" class="gm"/>
<line x1="483.3" y1="505.3" x2="889.4" y2="505.3" class="g"/>
<line x1="483.3" y1="455.4" x2="889.4" y2="455.4" class="g"/>
<line x1="483.3" y1="405.5" x2="889.4" y2="405.5" class="g"/>
<line x1="483.3" y1="355.6" x2="889.4" y2="355.6" class="g"/>
<line x1="510.37" y1="305.7" x2="510.37" y2="555.2" class="g"/>
<line x1="537.45" y1="305.7" x2="537.45" y2="555.2" class="g"/>
<line x1="564.52" y1="305.7" x2="564.52" y2="555.2" class="g"/>
<line x1="591.59" y1="305.7" x2="591.59" y2="555.2" class="g"/>
<line x1="618.67" y1="305.7" x2="618.67" y2="555.2" class="g"/>
<line x1="645.74" y1="305.7" x2="645.74" y2="555.2" class="g"/>
<line x1="672.81" y1="305.7" x2="672.81" y2="555.2" class="g"/>
<line x1="699.89" y1="305.7" x2="699.89" y2="555.2" class="g"/>
<line x1="726.96" y1="305.7" x2="726.96" y2="555.2" class="g"/>
<line x1="754.03" y1="305.7" x2="754.03" y2="555.2" class="g"/>
<line x1="781.11" y1="305.7" x2="781.11" y2="555.2" class="g"/>
<line x1="808.18" y1="305.7" x2="808.18" y2="555.2" class="g"/>
<line x1="835.25" y1="305.7" x2="835.25" y2="555.2" class="g"/>
<line x1="862.33" y1="305.7" x2="862.33" y2="555.2" class="g"/>
<path d="M488.22 523.59L488.82 508.7L489.42 494.22L490.02 481.31L490.27 474.56L490.62 464.24L491.22 445.83L491.82 429.55L492.32 419.87L492.42 419.2L493.02 412.34L493.62 397.14L494.22 392.13L494.67 388.54L494.82 389.04L495.42 385.09L496.02 381.09L496.62 385.88L497.02 383.15L497.22 386.63L497.82 383.03L498.42 387.21L499.02 389.51L499.07 382.52L499.62 384.04L500.22 389.43L500.82 386.93L501.42 380.55L502.01 382.71L502.02 381.82L502.62 382.36L503.22 386.87L503.82 379.39L504.42 385.69L505.02 377.97L505.62 375.92L505.82 382.65L506.22 380.84L506.82 382.11L507.42 384.02L508.02 382.06L508.62 383.52L508.76 375.22L509.22 380.11L509.82 390.25L510.42 397.91L510.81 404.61L511.02 404.51L511.62 417.36L512.22 429.11L512.82 436.4L513.42 446.36L513.75 450.55L514.02 454.82L514.62 461.88L515.22 468.8L515.82 476.65L516.42 482.72L516.68 483.76L517.02 488.05L517.62 493.09L518.22 497.82L518.82 499.49L519.42 500.98L519.61 500.87L520.02 499.1L520.62 498.79L521.22 497.95L521.82 496.66L522.42 494L523.02 492.51L523.43 492.32L523.62 490.91L524.22 491.7L524.82 487.49L525.42 484.99L526.02 483.17L526.36 480.43L526.62 477.3L527.22 475.12L527.82 469.09L528.42 463.44L529.02 455.04L529.3 452.53L529.62 449.37L530.22 439.15L530.82 424.44L531.35 412.86L531.42 410.95L532.02 393.63L532.62 371.23L533.22 354.21L533.41 359.18L533.82 358.26L534.42 374.03L535.02 383.18L535.17 388.77L535.62 393.63L536.22 399.62L536.34 400.96L536.82 398.92L537.42 391.97L538.02 384.05L538.62 373L538.69 375.98L539.22 365.31L539.82 360.51L540.42 362.53L541.02 359.28L541.62 361.85L541.62 359.2L542.22 358.12L542.82 351.22L543.42 351.55L544.02 352.44L544.56 349.99L544.62 349.45L545.22 349L545.82 346.57L546.42 347.77L547.02 347.38L547.62 354.54L548.08 353.38L548.22 352.4L548.82 357.36L549.42 356.42L550.02 363.37L550.62 367.35L551.01 363.02L551.22 359.32L551.82 355.49L552.42 364.18L553.02 356.24L553.62 347.96L554.22 352.29L554.82 341.7L554.83 345.55L555.42 344.93L556.02 343.36L556.62 339.83L557.22 350.09L557.82 340.51L558.42 342.44L558.64 341.19L559.02 335.8L559.62 338.81L560.22 340.92L560.82 342.96L561.42 338.72L562.02 340.84L562.62 338.55L562.75 341.49L563.22 331.9L563.82 342.1L564.42 338.94L565.02 339.93L565.62 333.67L566.22 340.2L566.57 345.98L566.82 351.68L567.42 342.89L568.02 343.81L568.62 348.28L569.22 348.45L569.82 346.49L570.42 348.64L570.97 348.7L571.02 351.95L571.62 353.27L572.22 357.06L572.82 355.1L573.42 355.03L574.02 354.19L574.62 357.53L575.22 352.4L575.37 362.66L575.82 357.72L576.42 363.19L577.02 358.33L577.62 366.27L578.22 366.04L578.82 365.28L579.18 363.96L579.42 363.2L580.02 370.83L580.62 367.39L581.22 361.91L581.82 360.18L582.42 355.56L582.7 351.44L583.02 351.02L583.62 353.69L584.22 354.04L584.82 349.79L585.42 355.18L586.02 353.61L586.62 352.05L587.11 345.81L587.22 350.74L587.82 351.61L588.42 348.3L589.02 346.17L589.62 360.17L590.22 356.93L590.82 354.48L590.92 360.92L591.42 359.83L592.02 358.21L592.62 357.95L593.22 360.15L593.82 362.79L594.42 358.83L595.02 358.44L595.62 361.7L595.91 351.21L596.22 360.98L596.82 360.66L597.42 363.49L598.02 364.76L598.62 368.32L599.22 369.42L599.82 370.99L600.31 371.54L600.42 373.6L601.02 372.01L601.62 378.03L602.22 371.35L602.82 378.35L603.42 380.15L604.02 375.78L604.62 378.6L604.71 383.8L605.22 379.15L605.82 375.75L606.42 367.57L607.02 375.4L607.62 372.22L608.22 371.35L608.82 373.66L609.11 366.08L609.42 365.51L610.02 360.78L610.62 360.58L611.22 358.46L611.82 358.83L612.42 356.19L613.02 350.21L613.52 349.9L613.62 355.61L614.22 346.82L614.82 351.04L615.42 352.7L616.02 348.54L616.62 346.34L617.22 349.13L617.82 345.3L617.92 344.05L618.42 343.06L619.02 346.98L619.62 345.17L620.22 347.57L620.82 341.27L621.42 341.08L622.02 340.44L622.62 342.5L623.22 339.15L623.79 344.11L623.82 342.22L624.42 337.78L625.02 331.24L625.62 334.71L626.22 344.99L626.82 340.01L627.42 340.47L628.02 338.4L628.19 340.94L628.62 333.27L629.22 332.49L629.82 333.04L630.42 337.87L631.02 339.39L631.62 338.32L632 336.33L632.22 332.65L632.82 339.49L633.42 336.42L634.02 337.79L634.62 338.24L635.22 337.67L635.82 337.56L636.42 338.66L636.99 337L637.02 341.95L637.62 341.16L638.22 345.54L638.82 337.06L639.42 347.19L640.02 343.82L640.62 344.16L641.22 342.76L641.39 342.92L641.82 341.24L642.42 349.58L643.02 346.72L643.62 350.43L644.22 351.58L644.82 348.19L645.42 349.99L645.79 350.3L646.02 355.1L646.62 353.45L647.22 354.94L647.82 358.25L648.42 357.43L649.02 366.13L649.61 358.71L649.62 365.72L650.22 368.79L650.82 362.48L651.42 371.16L652.02 371.76L652.62 376.01L653.13 371.54L653.22 376.26L653.82 375.19L654.42 380.26L655.02 388.39L655.62 386.5L656.22 382.12L656.82 384.46L656.94 384.92L657.42 390.94L658.02 384.81L658.62 380.11L659.22 385.4L659.82 380.91L660.42 380.31L660.47 376.92L661.02 381.39L661.62 374.44L662.22 366.52L662.82 366.97L663.42 365.77L664.02 365.82L664.62 366.57L664.87 360.83L665.22 361.49L665.82 370.83L666.42 364.32L667.02 362.57L667.62 364.52L668.22 360.51L668.82 366.3L669.27 367.72L669.42 363.1L670.02 369.38L670.62 366.24L671.22 368.99L671.82 366.65L672.42 367.57L673.02 366.78L673.62 373.92L673.67 372.55L674.22 373.27L674.82 371.35L675.42 372.04L676.02 374.52L676.62 378.69L677.22 379.02L677.82 376.92L678.07 380.17L678.42 383.84L679.02 377.67L679.62 382.23L680.22 376.16L680.82 377.7L681.42 370.76L682.02 374.96L682.47 366.76L682.62 371.26L683.22 369.57L683.82 364.6L684.42 366.91L685.02 366.34L685.62 364.55L686.22 367.28L686.47 363.78L686.82 353.79L687.42 363.44L688.02 360.12L688.62 359.54L689.22 358.97L689.4 357.76L689.82 357.29L690.42 364.57L691.02 362.27L691.62 359L692.22 359.96L692.82 364.61L693.42 362.85L693.8 362.3L694.02 357.61L694.62 359.67L695.22 356.83L695.82 353.66L696.42 361.95L697.02 357.36L697.62 356.46L698.2 354.19L698.22 359.67L698.82 363.03L699.42 357.23L700.02 357.33L700.62 349.37L701.22 352.98L701.82 352.28L702.42 355.63L703.02 350.36L703.62 346.98L704.07 349.71L704.22 348.54L704.82 354.73L705.42 352.59L706.02 352.09L706.62 352.22L707.22 355.09L707.82 351.6L708.42 351.03L709.02 348.72L709.62 359.24L709.94 357.4L710.22 358.11L710.82 356.79L711.42 362.57L712.02 354.71L712.62 362.3L713.22 356.35L713.82 358.2L714.42 356.35L715.02 361.13L715.62 360.51L715.81 363.02L716.22 360.2L716.82 358.36L717.42 365.42L718.02 368.5L718.62 367.44L719.22 365.45L719.82 367.25L720.21 360.59L720.42 364.91L721.02 369.12L721.62 365.78L722.22 360.14L722.82 364L723.42 359.24L724.02 360.59L724.61 352.71L724.62 355.52L725.22 357.43L725.82 356.53L726.42 356.54L727.02 354.02L727.62 352.82L728.22 354.54L728.82 355.59L729.02 347.97L729.42 351.82L730.02 352.39L730.62 353.88L731.22 357.05L731.82 350.09L732.42 356.62L733.02 349.98L733.62 353.69L734.22 355L734.82 356.3L734.88 355.26L735.42 356.01L736.02 357.11L736.62 357.92L737.22 353.5L737.82 355.49L738.42 359.1L739.02 362.65L739.62 364.52L740.22 370.65L740.75 361.96L740.82 359.11L741.42 361.89L742.02 362.8L742.62 360.06L743.22 355.03L743.82 356.77L744.42 355.63L745.02 350.06L745.16 350.44L745.62 357.21L746.22 345L746.82 351.27L747.42 348.53L748.02 352.47L748.62 348.82L749.22 343.16L749.56 349.49L749.82 343.41L750.42 350.87L751.02 349.16L751.62 343.02L752.22 345.17L752.82 342.79L753.42 338.91L754.02 344.83L754.62 342.57L755.22 343.81L755.43 344.5L755.82 345.61L756.42 344.45L757.02 340.96L757.62 341.63L758.22 342.81L758.82 341.28L759.42 341.11L760.02 347.99L760.62 343.86L761.22 348.58L761.29 340.15L761.82 342.76L762.42 342.01L763.02 342.81L763.62 343.91L764.22 345.34L764.82 345.34L765.42 353.5L766.02 351.03L766.58 347.58L766.62 348.29L767.22 353.67L767.82 354.56L768.42 352.6L769.02 359.29L769.62 353.73L770.22 358.7L770.68 367.15L770.82 353.85L771.42 363.8L772.02 370.28L772.62 369.43L773.22 369.81L773.82 370.97L774.42 367.85L774.5 370.12L775.02 374.07L775.62 371.71L776.22 372.94L776.82 372L777.42 372.79L778.02 366.18L778.62 369.8L778.9 369.43L779.22 368.73L779.82 365.33L780.42 359.57L781.02 366.85L781.62 365.77L782.22 369.06L782.82 362.28L783.3 363.95L783.42 360.74L784.02 358.17L784.62 361.47L785.22 356.74L785.82 361.78L786.42 361.27L787.02 358.95L787.62 366.91L787.7 366.7L788.22 366.01L788.82 369.89L789.42 376L790.02 374.42L790.62 374.75L791.22 379.44L791.23 384.24L791.82 385.07L792.42 382.72L793.02 392.97L793.62 392.32L794.22 398.13L794.82 398.49L795.42 395.48L795.92 397.16L796.02 395.01L796.62 394.42L797.22 395.1L797.82 396.15L798.42 397.22L799.02 389.82L799.62 392.71L800.22 389.58L800.82 387.69L800.91 391.26L801.42 386.27L802.02 390.05L802.62 384.16L803.22 381.42L803.82 385.23L804.42 377.86L805.02 377.76L805.31 380.29L805.62 379.45L806.22 375.92L806.82 368.01L807.42 367.25L808.02 370.44L808.62 367.99L809.22 360.58L809.71 362.63L809.82 362.44L810.42 365.06L811.02 359.53L811.62 366.54L812.22 361L812.82 366.65L813.42 365.14L814.02 359.18L814.62 361.67L815.22 363.92L815.58 366.5L815.82 358.97L816.42 362.37L817.02 366.82L817.62 367.42L818.22 363.64L818.82 365.12L819.42 370.11L819.98 365.89L820.02 369.92L820.62 372.85L821.22 370.46L821.82 362.19L822.42 374.28L823.02 374.12L823.62 374.84L824.22 373.03L824.82 365.12L825.26 375.04L825.42 371.52L826.02 372.8L826.62 368.78L827.22 367.99L827.82 367.52L828.42 372.86L829.02 368.16L829.62 366.13L830.22 362.15L830.25 367.7L830.82 365.71L831.42 365.61L832.02 367.68L832.62 366.26L833.22 363.36L833.82 363.41L834.42 362.36L834.65 364.09L835.02 363.06L835.62 359.58L836.22 354.55L836.82 358.11L837.42 356.52L838.02 348.65L838.62 352L839.06 348.83L839.22 343.22L839.82 351.1L840.42 355.99L841.02 352.83L841.62 355.37L842.22 363.4L842.82 359.03L843.42 361.58L843.46 363.69L844.02 367.93L844.62 369.2L845.22 366.72L845.82 368.59L846.42 370.99L847.02 370.64L847.62 370.35L847.86 370.13L848.22 375.42L848.82 372.28L849.42 381.58L850.02 374.12L850.62 368.7L850.79 370.57L851.22 372.27L851.82 372.73L852.42 372.6L853.02 371.96L853.62 369.21L854.22 370.8L854.82 374.93L855.2 366.22L855.42 365.96L856.02 368.16L856.62 368.54L857.22 365.83L857.82 365.81L858.42 360.57L859.02 358.93L859.6 360.91L859.62 360.93L860.22 362.92L860.82 361.32L861.42 349.3L862.02 356.42L862.62 350.71L863.22 345.15L863.82 352.31L864.42 349.92L865.02 348.98L865.47 345.91L865.62 346.79L866.22 349.91L866.82 346.98L867.42 352.98L868.02 355.49L868.62 356.51L869.22 359.69L869.82 359.94L869.87 356.55L870.42 358.09L871.02 363.14L871.62 367.12L872.22 365.76L872.82 364.73L873.42 367.65L874.02 361.77L874.27 364.4L874.62 366.3L875.22 366.88L875.82 365.32L876.42 364.57L877.02 360.61L877.62 361.5L878.22 363.13L878.67 355.82L878.82 357.67L879.42 359.52L880.02 364.4L880.62 360.84L881.22 362.68L881.82 361.03L882.42 354.47L883.02 354.98L883.62 350.93L884.22 358.14L884.54 356.68L884.82 356.27L885.42 356.76L886.02 356.64L886.62 356.61L887.22 357.83L887.82 362.03L888.42 357.08L889.02 357.88L889.62 363.02L890.12 368.33" stroke="#1f77b4" class="cv" style="stroke-width:1.4px"/>
<path d="M488.22 513L488.82 499.29L489.42 486.51L490.02 472.1L490.27 463.79L490.62 456.21L491.22 439.7L491.82 429.33L492.32 420.42L492.42 421.14L493.02 417.71L493.62 402.9L494.22 397.13L494.67 392.96L494.82 385.88L495.42 389.11L496.02 387.61L496.62 389.62L497.02 386.68L497.22 385.75L497.82 392.86L498.42 393.55L499.02 393.03L499.07 393.46L499.62 395.04L500.22 398.07L500.82 399.01L501.42 390.39L502.01 395.65L502.02 392.65L502.62 391.97L503.22 391.92L503.82 384.71L504.42 388.08L505.02 380.42L505.62 381.74L505.82 380.38L506.22 387.45L506.82 386.97L507.42 384.35L508.02 384L508.62 381.69L508.76 388.43L509.22 389.4L509.82 393.9L510.42 398.92L510.81 403.42L511.02 406.68L511.62 418.47L512.22 423.17L512.82 435.52L513.42 447.62L513.75 451.09L514.02 455.97L514.62 462.11L515.22 469.81L515.82 477.78L516.42 483.16L516.68 485.23L517.02 487.44L517.62 491.87L518.22 499L518.82 501.25L519.42 503.17L519.61 504.72L520.02 503.62L520.62 503.63L521.22 504.35L521.82 504.09L522.42 503.62L523.02 502.99L523.43 502.76L523.62 501.52L524.22 500.19L524.82 497.93L525.42 494.7L526.02 492.23L526.36 490.24L526.62 489.88L527.22 483.79L527.82 475.74L528.42 469.2L529.02 459.57L529.3 457.85L529.62 447.97L530.22 438.26L530.82 425.47L531.35 414.89L531.42 412.76L532.02 389.27L532.62 366.21L533.22 359.03L533.41 362.08L533.82 365.37L534.42 371.92L535.02 387.32L535.17 385.85L535.62 392.15L536.22 406.67L536.34 406.01L536.82 400.76L537.42 393.23L538.02 387.74L538.62 378.21L538.69 375.52L539.22 373.26L539.82 367.91L540.42 362.59L541.02 358.08L541.62 360.41L541.62 355.97L542.22 351.26L542.82 358.26L543.42 354.44L544.02 350.77L544.56 348.46L544.62 349.29L545.22 344.43L545.82 349.73L546.42 351.77L547.02 351.57L547.62 354.92L548.08 352.11L548.22 355.39L548.82 351.56L549.42 358.41L550.02 358.39L550.62 357.32L551.01 360.38L551.22 361.53L551.82 358.1L552.42 360.3L553.02 351.97L553.62 353.77L554.22 350.13L554.82 343.8L554.83 350.18L555.42 339.68L556.02 343.99L556.62 340.99L557.22 341.8L557.82 333.27L558.42 333.43L558.64 334.24L559.02 337.09L559.62 337.6L560.22 337.74L560.82 337.26L561.42 336.3L562.02 334.72L562.62 338.25L562.75 341.4L563.22 343.04L563.82 338.72L564.42 344.37L565.02 337.62L565.62 345.22L566.22 340.26L566.57 344.89L566.82 341.44L567.42 342.16L568.02 344.28L568.62 351.25L569.22 345.53L569.82 350.38L570.42 349.73L570.97 350.93L571.02 351.03L571.62 352.79L572.22 347.77L572.82 352.38L573.42 354.07L574.02 351.93L574.62 355.73L575.22 352.4L575.37 358.13L575.82 354.68L576.42 357.88L577.02 363.39L577.62 366.42L578.22 363.04L578.82 363.92L579.18 369.22L579.42 357.22L580.02 370.03L580.62 368.79L581.22 359.94L581.82 365.52L582.42 361.75L582.7 361.69L583.02 352.55L583.62 357.36L584.22 357.41L584.82 355.91L585.42 355.3L586.02 355.14L586.62 346.83L587.11 355.22L587.22 353.64L587.82 355.59L588.42 354.69L589.02 356.83L589.62 358.41L590.22 363.74L590.82 356.13L590.92 364.06L591.42 358.19L592.02 356.29L592.62 354.65L593.22 361.97L593.82 354.61L594.42 362.36L595.02 360.8L595.62 358.25L595.91 358.15L596.22 362.23L596.82 362.45L597.42 365.89L598.02 365.36L598.62 365.64L599.22 370.77L599.82 367.1L600.31 374.55L600.42 372.36L601.02 370.2L601.62 371.98L602.22 375.49L602.82 372.39L603.42 382.87L604.02 382.36L604.62 376.7L604.71 379.56L605.22 384.48L605.82 379.57L606.42 373.57L607.02 367.86L607.62 366.87L608.22 373.13L608.82 368.1L609.11 361.97L609.42 367.32L610.02 361.83L610.62 358.67L611.22 356.91L611.82 354.95L612.42 359.69L613.02 349.67L613.52 350.15L613.62 355.4L614.22 354.64L614.82 345.56L615.42 354.03L616.02 349.94L616.62 340.84L617.22 350.48L617.82 339.49L617.92 346.24L618.42 340.07L619.02 337.67L619.62 345.65L620.22 343.97L620.82 342.08L621.42 342.69L622.02 341.51L622.62 340.78L623.22 337.99L623.79 343L623.82 341.21L624.42 340.15L625.02 338.93L625.62 339.67L626.22 335.58L626.82 339.23L627.42 336.88L628.02 343.84L628.19 336.66L628.62 337.99L629.22 338.95L629.82 340.81L630.42 339.13L631.02 337.2L631.62 343.67L632 336.7L632.22 337.79L632.82 345.63L633.42 334.52L634.02 340.93L634.62 339.91L635.22 335.01L635.82 337.91L636.42 343.21L636.99 336.55L637.02 340.59L637.62 344.7L638.22 341.55L638.82 343.72L639.42 341.34L640.02 342.08L640.62 342.74L641.22 344.24L641.39 347.56L641.82 346.28L642.42 352.98L643.02 349.17L643.62 349.04L644.22 356.08L644.82 349.46L645.42 348.2L645.79 351.9L646.02 348.37L646.62 354.68L647.22 358.75L647.82 357.98L648.42 356.38L649.02 359.14L649.61 363.22L649.62 365.46L650.22 363.07L650.82 365.91L651.42 373.94L652.02 374.72L652.62 378.56L653.13 381.73L653.22 378.52L653.82 384.01L654.42 391.51L655.02 392.29L655.62 395.79L656.22 399.63L656.82 400.86L656.94 406.27L657.42 397.41L658.02 397.99L658.62 400.23L659.22 392.1L659.82 390.57L660.42 384.13L660.47 390.81L661.02 388.17L661.62 385.61L662.22 380.37L662.82 379.69L663.42 376.1L664.02 376.57L664.62 371.52L664.87 372.97L665.22 366.36L665.82 369.47L666.42 361.46L667.02 369.73L667.62 372.36L668.22 368.83L668.82 376.72L669.27 365.91L669.42 368.27L670.02 367.45L670.62 369.58L671.22 370.39L671.82 368.03L672.42 370.47L673.02 380.82L673.62 375.42L673.67 379.12L674.22 373.95L674.82 378.94L675.42 382.45L676.02 382.01L676.62 382.69L677.22 385.27L677.82 387.51L678.07 390.42L678.42 391L679.02 383.11L679.62 380.14L680.22 384.53L680.82 384.25L681.42 385.5L682.02 385.8L682.47 380.32L682.62 388.2L683.22 383.11L683.82 377.53L684.42 385.7L685.02 378.22L685.62 378.32L686.22 372.65L686.47 376.44L686.82 377.63L687.42 376.05L688.02 377.71L688.62 378.46L689.22 378.37L689.4 377.28L689.82 372.16L690.42 376.8L691.02 371.12L691.62 371.85L692.22 367.2L692.82 362.32L693.42 358.27L693.8 365.23L694.02 362.2L694.62 363.45L695.22 365.32L695.82 356.55L696.42 354.71L697.02 360.06L697.62 359.37L698.2 356.43L698.22 355.61L698.82 351.3L699.42 355.12L700.02 352.02L700.62 354.77L701.22 355.47L701.82 349.84L702.42 352.23L703.02 350.95L703.62 352.27L704.07 354.84L704.22 352.07L704.82 352.4L705.42 353.03L706.02 349.68L706.62 351.67L707.22 353.52L707.82 357.15L708.42 358.13L709.02 362.01L709.62 352.01L709.94 355.7L710.22 350.61L710.82 354.99L711.42 352.07L712.02 361.62L712.62 360.91L713.22 355.69L713.82 360.77L714.42 362.65L715.02 366.44L715.62 364.14L715.81 362.1L716.22 361.85L716.82 364.87L717.42 364.64L718.02 362.93L718.62 361.27L719.22 369.06L719.82 363.74L720.21 365.24L720.42 368.6L721.02 365.31L721.62 368L722.22 359.38L722.82 363.77L723.42 355.52L724.02 353.56L724.61 353.98L724.62 357.67L725.22 354.32L725.82 351.25L726.42 358.67L727.02 351.07L727.62 353.18L728.22 353.93L728.82 351.4L729.02 354.05L729.42 354.9L730.02 352.8L730.62 356.77L731.22 352.01L731.82 351.05L732.42 355.64L733.02 352.51L733.62 357.38L734.22 356.42L734.82 355.75L734.88 359.14L735.42 359.43L736.02 348.85L736.62 357.85L737.22 359.9L737.82 361.6L738.42 358.84L739.02 357.38L739.62 361.79L740.22 363.79L740.75 355.14L740.82 356.9L741.42 359.53L742.02 352.45L742.62 357.79L743.22 361.09L743.82 353.77L744.42 356.27L745.02 351.78L745.16 355.7L745.62 355.53L746.22 356.32L746.82 351.04L747.42 352.78L748.02 349.39L748.62 345.43L749.22 350.68L749.56 343.64L749.82 345.8L750.42 352.4L751.02 346.72L751.62 340.71L752.22 343.71L752.82 340.5L753.42 341.37L754.02 336.7L754.62 341.96L755.22 336.2L755.43 342.32L755.82 342.34L756.42 343.89L757.02 348.38L757.62 336.1L758.22 337.71L758.82 338.51L759.42 340.07L760.02 344.9L760.62 341.25L761.22 340.71L761.29 339L761.82 340.89L762.42 342L763.02 343.72L763.62 340.27L764.22 345.49L764.82 348.53L765.42 348.89L766.02 344.9L766.58 352.56L766.62 352.58L767.22 352.26L767.82 348.91L768.42 349.83L769.02 356.49L769.62 354.98L770.22 355.92L770.68 364.53L770.82 365.02L771.42 366.5L772.02 371.34L772.62 372.73L773.22 368.71L773.82 377.6L774.42 375.24L774.5 376.24L775.02 379.65L775.62 376.1L776.22 379.39L776.82 374.53L777.42 372.93L778.02 371.65L778.62 373.13L778.9 368.23L779.22 373.07L779.82 372.53L780.42 370.82L781.02 365.07L781.62 364.84L782.22 373.33L782.82 367.72L783.3 374.8L783.42 368.19L784.02 371.3L784.62 365.32L785.22 367.6L785.82 368.69L786.42 371.05L787.02 374.42L787.62 372.09L787.7 364.41L788.22 369.79L788.82 371.26L789.42 372.65L790.02 379.57L790.62 385.6L791.22 382.35L791.23 386.91L791.82 390.38L792.42 386.5L793.02 397.28L793.62 399.9L794.22 398.89L794.82 404.7L795.42 402.62L795.92 405.64L796.02 404.27L796.62 399.46L797.22 400.87L797.82 398.03L798.42 395.21L799.02 391.35L799.62 390.19L800.22 386.87L800.82 391.54L800.91 382.63L801.42 386.42L802.02 382.16L802.62 377.99L803.22 381.53L803.82 374.75L804.42 378.69L805.02 372.38L805.31 373L805.62 370.46L806.22 370.82L806.82 369.68L807.42 363.19L808.02 362.61L808.62 366.32L809.22 356.96L809.71 363.08L809.82 356.06L810.42 355.72L811.02 352.28L811.62 355.16L812.22 352.51L812.82 356.5L813.42 360.83L814.02 358.77L814.62 357.45L815.22 356.59L815.58 358.02L815.82 355.99L816.42 357.96L817.02 369.94L817.62 366.34L818.22 364.52L818.82 371.38L819.42 375.53L819.98 369.97L820.02 371.66L820.62 368.53L821.22 367.59L821.82 376.7L822.42 382.76L823.02 369.33L823.62 366.1L824.22 375.27L824.82 373.88L825.26 371.99L825.42 375.28L826.02 370.21L826.62 372.82L827.22 375.13L827.82 372.44L828.42 375.62L829.02 374.17L829.62 377.01L830.22 376.81L830.25 370.36L830.82 375.17L831.42 368.9L832.02 369.09L832.62 364.91L833.22 371.16L833.82 365.89L834.42 364.04L834.65 368.6L835.02 366.19L835.62 361.9L836.22 354.48L836.82 361.79L837.42 357.45L838.02 355.95L838.62 358.57L839.06 353.79L839.22 355.58L839.82 359.33L840.42 359.64L841.02 357.65L841.62 366.33L842.22 367.49L842.82 371.85L843.42 367.28L843.46 368.24L844.02 372.14L844.62 371.44L845.22 371.69L845.82 372.1L846.42 372.63L847.02 372.71L847.62 373.92L847.86 377.59L848.22 375.87L848.82 373.5L849.42 378.85L850.02 384.28L850.62 383.47L850.79 373.33L851.22 376.86L851.82 381.18L852.42 378.02L853.02 376.52L853.62 374.23L854.22 373.09L854.82 368.16L855.2 374.22L855.42 366.61L856.02 367.77L856.62 371.4L857.22 368.22L857.82 363.04L858.42 361.44L859.02 358.1L859.6 357.17L859.62 357.98L860.22 361.81L860.82 354.92L861.42 356.88L862.02 355.27L862.62 354.1L863.22 350.94L863.82 353.38L864.42 350.95L865.02 350.39L865.47 348.49L865.62 343.17L866.22 352.91L866.82 354.16L867.42 351.73L868.02 354.58L868.62 357.93L869.22 355.66L869.82 362.44L869.87 362.56L870.42 364.14L871.02 365.69L871.62 358.04L872.22 366.99L872.82 364.99L873.42 370.72L874.02 370.96L874.27 370.24L874.62 367.31L875.22 376.06L875.82 366.27L876.42 362.2L877.02 367.57L877.62 358.82L878.22 368.55L878.67 365.02L878.82 365.82L879.42 364.07L880.02 361.08L880.62 354.61L881.22 355.91L881.82 358.67L882.42 355.4L883.02 356.51L883.62 352.65L884.22 352.03L884.54 355.44L884.82 356.87L885.42 354.8L886.02 352.21L886.62 350.8L887.22 363.5L887.82 354.68L888.42 356.95L889.02 359.02L889.62 365.96L890.12 362.34" stroke="#ff7f0e" class="cv" style="stroke-width:1.4px"/>
<path d="M488.22 534.38L488.82 518.97L489.42 502.97L490.02 486.23L490.27 477.41L490.62 469.29L491.22 449.88L491.82 434.06L492.32 417.51L492.42 420.87L493.02 405.76L493.62 392.14L494.22 392.49L494.67 383.71L494.82 385.53L495.42 381.17L496.02 382.71L496.62 381.45L497.02 381.21L497.22 380.11L497.82 374.48L498.42 376.21L499.02 382.81L499.07 379.44L499.62 383.43L500.22 382.06L500.82 376.67L501.42 376.97L502.01 375.9L502.02 376.62L502.62 377.75L503.22 379.29L503.82 380.08L504.42 371.84L505.02 372.18L505.62 378.3L505.82 376.21L506.22 374.27L506.82 366.91L507.42 372.23L508.02 377.37L508.62 377.02L508.76 385.25L509.22 382.48L509.82 389.76L510.42 394.42L510.81 400.14L511.02 403.94L511.62 413.41L512.22 424.5L512.82 435.96L513.42 445.34L513.75 451.26L514.02 451.45L514.62 461.82L515.22 469.57L515.82 477.97L516.42 482.39L516.68 485.19L517.02 487.16L517.62 493.37L518.22 498.11L518.82 501.04L519.42 503.37L519.61 503.98L520.02 504.76L520.62 503.74L521.22 505.69L521.82 504.93L522.42 506.9L523.02 506.63L523.43 505.14L523.62 504.87L524.22 505.95L524.82 501.69L525.42 497.92L526.02 492.93L526.36 490.69L526.62 489.53L527.22 483.77L527.82 475.55L528.42 469.91L529.02 460.24L529.3 454.24L529.62 451.96L530.22 439L530.82 428.25L531.35 413.24L531.42 413.77L532.02 388.94L532.62 372.98L533.22 353.37L533.41 357.81L533.82 352.4L534.42 372.78L535.02 387.95L535.17 389.46L535.62 397.3L536.22 396.84L536.34 403.87L536.82 402.13L537.42 388.39L538.02 381.43L538.62 375.21L538.69 376.28L539.22 372.8L539.82 359.79L540.42 365.61L541.02 359.34L541.62 354.01L541.62 360.34L542.22 353.68L542.82 356.04L543.42 352.04L544.02 347.89L544.56 352.26L544.62 351.08L545.22 347.18L545.82 344.4L546.42 348.95L547.02 354.01L547.62 352.59L548.08 360.03L548.22 355.48L548.82 356.96L549.42 359.62L550.02 357.31L550.62 361.01L551.01 359.54L551.22 354L551.82 354.55L552.42 360.27L553.02 353.45L553.62 351.34L554.22 344.19L554.82 345.12L554.83 349.53L555.42 346.05L556.02 342.88L556.62 348.42L557.22 342.37L557.82 340.69L558.42 344.97L558.64 335.53L559.02 342.69L559.62 336.99L560.22 337.76L560.82 337.84L561.42 340.27L562.02 340.07L562.62 340.64L562.75 340.33L563.22 344.3L563.82 345.69L564.42 343.23L565.02 344.24L565.62 341.51L566.22 340.06L566.57 345.97L566.82 344.49L567.42 347.91L568.02 340.05L568.62 355.38L569.22 343.46L569.82 348.49L570.42 352.39L570.97 345.48L571.02 348.22L571.62 344.25L572.22 346.87L572.82 345.95L573.42 353.26L574.02 354.65L574.62 353.54L575.22 359.62L575.37 360.29L575.82 356.81L576.42 357.99L577.02 359.98L577.62 361.53L578.22 368.98L578.82 366.64L579.18 365.02L579.42 365.27L580.02 366.87L580.62 362.22L581.22 362.56L581.82 359.44L582.42 362.25L582.7 361.02L583.02 352.16L583.62 355.11L584.22 356.83L584.82 352.08L585.42 355.26L586.02 353.05L586.62 353.45L587.11 351.22L587.22 352.41L587.82 353.4L588.42 347.59L589.02 350.2L589.62 350.79L590.22 360.38L590.82 356.69L590.92 357.03L591.42 356.85L592.02 355.12L592.62 354.84L593.22 360.41L593.82 356.92L594.42 363.71L595.02 359.82L595.62 360.15L595.91 359.53L596.22 360.47L596.82 362.08L597.42 368.47L598.02 372.89L598.62 363.54L599.22 369.92L599.82 373.03L600.31 369.14L600.42 370.22L601.02 372.17L601.62 367.65L602.22 378.44L602.82 377.62L603.42 378.55L604.02 379.82L604.62 380.64L604.71 386.78L605.22 380.11L605.82 380.91L606.42 375.03L607.02 375.47L607.62 370.94L608.22 368.97L608.82 364.24L609.11 363.5L609.42 366.59L610.02 365.41L610.62 362.29L611.22 356.44L611.82 357.47L612.42 346.31L613.02 355.72L613.52 351.34L613.62 352.11L614.22 353.68L614.82 347.35L615.42 350.63L616.02 345.09L616.62 347.34L617.22 343.51L617.82 345.2L617.92 348.8L618.42 341.68L619.02 341.41L619.62 341.97L620.22 343.66L620.82 351.24L621.42 340.3L622.02 335.36L622.62 339.58L623.22 336.37L623.79 339.44L623.82 341.28L624.42 337.93L625.02 338.63L625.62 334.65L626.22 341.06L626.82 337.9L627.42 343.58L628.02 343.23L628.19 336.99L628.62 338.33L629.22 339.17L629.82 340.82L630.42 332.4L631.02 337.02L631.62 342.9L632 336.57L632.22 337.59L632.82 337.07L633.42 333.63L634.02 341.03L634.62 339.48L635.22 339.83L635.82 342.34L636.42 343.22L636.99 335.2L637.02 342.85L637.62 340L638.22 342.95L638.82 340.72L639.42 340.82L640.02 347.26L640.62 344.81L641.22 344.59L641.39 344.78L641.82 346.45L642.42 346.82L643.02 339.99L643.62 345.52L644.22 348.35L644.82 352.37L645.42 355.31L645.79 348.6L646.02 358.23L646.62 353.54L647.22 356.18L647.82 354.45L648.42 355.95L649.02 364.42L649.61 361.21L649.62 361.62L650.22 368.3L650.82 373.39L651.42 366.86L652.02 374.89L652.62 379.31L653.13 387.75L653.22 390.14L653.82 386.88L654.42 392.58L655.02 398.36L655.62 403L656.22 402.22L656.82 406.52L656.94 402.74L657.42 397.26L658.02 398.34L658.62 399.42L659.22 397.78L659.82 386.88L660.42 386.43L660.47 391.23L661.02 381.48L661.62 391.84L662.22 392.8L662.82 381.39L663.42 391.5L664.02 388.51L664.62 392.59L664.87 389.22L665.22 387.44L665.82 387.82L666.42 389.43L667.02 386.53L667.62 385.26L668.22 380.09L668.82 384.73L669.27 382.71L669.42 387.75L670.02 381.15L670.62 379.53L671.22 376.42L671.82 379.05L672.42 374.92L673.02 372.35L673.62 378.86L673.67 379.38L674.22 372.18L674.82 370.16L675.42 376.65L676.02 370.37L676.62 381.63L677.22 372.24L677.82 375.51L678.07 368.36L678.42 372.19L679.02 375.49L679.62 373.18L680.22 369.84L680.82 379.04L681.42 373.45L682.02 370.27L682.47 369.06L682.62 370.12L683.22 375.37L683.82 368.92L684.42 371.78L685.02 369.42L685.62 376.2L686.22 371.91L686.47 375.14L686.82 374.14L687.42 370.1L688.02 373.45L688.62 373.44L689.22 366.05L689.4 371.76L689.82 380.52L690.42 367.59L691.02 370.06L691.62 363.15L692.22 368.35L692.82 364.36L693.42 368.06L693.8 364.96L694.02 361.05L694.62 367.51L695.22 362.27L695.82 358.63L696.42 361.01L697.02 356.6L697.62 359.97L698.2 357.58L698.22 356.57L698.82 359.01L699.42 351.76L700.02 358.01L700.62 347.41L701.22 358.13L701.82 352.69L702.42 350.54L703.02 348.48L703.62 352.3L704.07 349.93L704.22 349.88L704.82 353.96L705.42 349.59L706.02 350.76L706.62 353.56L707.22 356.38L707.82 353.22L708.42 355.02L709.02 355.42L709.62 358.38L709.94 361.14L710.22 353.57L710.82 356.76L711.42 357.64L712.02 360.3L712.62 363.85L713.22 359.54L713.82 360.88L714.42 364.45L715.02 357.37L715.62 359.5L715.81 360.73L716.22 362.6L716.82 364.11L717.42 362.48L718.02 370.61L718.62 363.35L719.22 365.53L719.82 370.03L720.21 369.08L720.42 366.49L721.02 367.18L721.62 367.52L722.22 363.38L722.82 363.92L723.42 357.24L724.02 359.03L724.61 352.43L724.62 354.86L725.22 353.22L725.82 360.15L726.42 353.79L727.02 355.55L727.62 350.98L728.22 352.9L728.82 352.44L729.02 350.55L729.42 356.15L730.02 348.15L730.62 355.91L731.22 362.95L731.82 352.16L732.42 355.5L733.02 350.92L733.62 356.48L734.22 351.48L734.82 359.65L734.88 356.05L735.42 352.07L736.02 354.41L736.62 354.03L737.22 358.85L737.82 363.13L738.42 359.58L739.02 357.49L739.62 358.95L740.22 362.27L740.75 354.02L740.82 363.85L741.42 362.95L742.02 352.92L742.62 363.76L743.22 353.35L743.82 356.65L744.42 359.87L745.02 349.45L745.16 348.5L745.62 349.97L746.22 348.79L746.82 350.5L747.42 347.86L748.02 346.64L748.62 345.5L749.22 345.51L749.56 342.89L749.82 346.46L750.42 344.71L751.02 340.75L751.62 349.42L752.22 338.74L752.82 344.8L753.42 339.53L754.02 342.81L754.62 343.11L755.22 344.11L755.43 345.94L755.82 338.56L756.42 350.7L757.02 342.77L757.62 338.91L758.22 337.28L758.82 349.55L759.42 347.46L760.02 342.25L760.62 345.03L761.22 347.1L761.29 343.16L761.82 341.75L762.42 343.53L763.02 347.04L763.62 345.16L764.22 341.97L764.82 349.44L765.42 342.39L766.02 346.69L766.58 354.25L766.62 351.05L767.22 352.33L767.82 353.43L768.42 358.16L769.02 356.45L769.62 352.14L770.22 361.25L770.68 351.9L770.82 355.65L771.42 369.88L772.02 370.8L772.62 368.63L773.22 372.31L773.82 374.59L774.42 378.24L774.5 372.7L775.02 372.33L775.62 373.01L776.22 375.23L776.82 375.41L777.42 373.08L778.02 376.45L778.62 370.55L778.9 373.4L779.22 371.3L779.82 369.94L780.42 376.61L781.02 371.23L781.62 368.56L782.22 371.48L782.82 367.74L783.3 372.64L783.42 373.4L784.02 373.7L784.62 366.69L785.22 369.38L785.82 375.61L786.42 368.74L787.02 373.42L787.62 374.22L787.7 364.77L788.22 373.72L788.82 373.97L789.42 376.88L790.02 382.29L790.62 381.37L791.22 382.65L791.23 384.27L791.82 383.62L792.42 388.49L793.02 383.87L793.62 396.74L794.22 392.61L794.82 397.18L795.42 397.63L795.92 397.38L796.02 397.39L796.62 396.95L797.22 391.64L797.82 393.54L798.42 397.03L799.02 389.56L799.62 388.03L800.22 395.61L800.82 391.9L800.91 392.76L801.42 387.38L802.02 387.12L802.62 387.48L803.22 385.85L803.82 382.91L804.42 377.86L805.02 379.15L805.31 376.44L805.62 385.32L806.22 378.64L806.82 378.62L807.42 379.39L808.02 377.98L808.62 379L809.22 374.97L809.71 371.82L809.82 381.87L810.42 373.82L811.02 374.13L811.62 372.72L812.22 373.09L812.82 374.51L813.42 376.47L814.02 370.56L814.62 374.59L815.22 371.45L815.58 377.33L815.82 369.71L816.42 374.27L817.02 376.87L817.62 371.27L818.22 376.72L818.82 377.62L819.42 375.29L819.98 377.26L820.02 380.94L820.62 378.45L821.22 375.87L821.82 375.68L822.42 376.71L823.02 378.19L823.62 375.61L824.22 374.36L824.82 376.1L825.26 365.64L825.42 365.82L826.02 362.52L826.62 371.92L827.22 361.34L827.82 368.07L828.42 370.16L829.02 362.71L829.62 364.58L830.22 365.32L830.25 368.49L830.82 360.7L831.42 366.07L832.02 366.71L832.62 364.34L833.22 363.78L833.82 366.67L834.42 362.7L834.65 361.64L835.02 360.17L835.62 362.42L836.22 358.35L836.82 360.32L837.42 357.56L838.02 360.09L838.62 353.41L839.06 356.08L839.22 356.99L839.82 357.85L840.42 361.48L841.02 360.91L841.62 364.61L842.22 370.14L842.82 368.54L843.42 364.08L843.46 362.99L844.02 370.95L844.62 368.87L845.22 372.18L845.82 371.89L846.42 377.63L847.02 378.41L847.62 372.45L847.86 377.2L848.22 376.25L848.82 374.79L849.42 382.17L850.02 381.1L850.62 383.49L850.79 389.46L851.22 385.91L851.82 384.36L852.42 378.42L853.02 374.21L853.62 379.49L854.22 372.62L854.82 371.73L855.2 369.31L855.42 370.22L856.02 375.93L856.62 365.47L857.22 363.84L857.82 363.7L858.42 362.36L859.02 356.14L859.6 353.06L859.62 356.84L860.22 356.83L860.82 353.75L861.42 351.82L862.02 350.83L862.62 351.48L863.22 351.38L863.82 345.72L864.42 348.58L865.02 351.11L865.47 349.49L865.62 345.55L866.22 349.32L866.82 351.56L867.42 355.66L868.02 349.81L868.62 359.06L869.22 357.13L869.82 360.68L869.87 362.32L870.42 358.48L871.02 360.01L871.62 363.55L872.22 367.47L872.82 364.47L873.42 362.47L874.02 365.18L874.27 368.67L874.62 371.08L875.22 365.33L875.82 365.19L876.42 364.73L877.02 363.83L877.62 360.17L878.22 360.79L878.67 362.24L878.82 361.69L879.42 360.56L880.02 356.33L880.62 356.79L881.22 355.28L881.82 359.96L882.42 360.4L883.02 356.15L883.62 359.62L884.22 353.32L884.54 353.3L884.82 350.12L885.42 355.25L886.02 353.59L886.62 356.1L887.22 358.37L887.82 357.27L888.42 355.9L889.02 360.95L889.62 362.65L890.12 364.59" stroke="#2ca02c" class="cv" style="stroke-width:1.4px"/>
<rect x="483.3" y="305.7" width="406.1" height="249.5" class="sp"/>
<line x1="483.3" y1="555.2" x2="483.3" y2="558.7" class="tk"/>
<text x="483.3" y="568" class="tl" text-anchor="middle">500</text>
<line x1="510.37" y1="555.2" x2="510.37" y2="558.7" class="tk"/>
<text x="510.37" y="568" class="tl" text-anchor="middle">1000</text>
<line x1="537.45" y1="555.2" x2="537.45" y2="558.7" class="tk"/>
<text x="537.45" y="568" class="tl" text-anchor="middle">1500</text>
<line x1="564.52" y1="555.2" x2="564.52" y2="558.7" class="tk"/>
<text x="564.52" y="568" class="tl" text-anchor="middle">2000</text>
<line x1="591.59" y1="555.2" x2="591.59" y2="558.7" class="tk"/>
<text x="591.59" y="568" class="tl" text-anchor="middle">2500</text>
<line x1="618.67" y1="555.2" x2="618.67" y2="558.7" class="tk"/>
<text x="618.67" y="568" class="tl" text-anchor="middle">3000</text>
<line x1="645.74" y1="555.2" x2="645.74" y2="558.7" class="tk"/>
<text x="645.74" y="568" class="tl" text-anchor="middle">3500</text>
<line x1="672.81" y1="555.2" x2="672.81" y2="558.7" class="tk"/>
<text x="672.81" y="568" class="tl" text-anchor="middle">4000</text>
<line x1="699.89" y1="555.2" x2="699.89" y2="558.7" class="tk"/>
<text x="699.89" y="568" class="tl" text-anchor="middle">4500</text>
<line x1="726.96" y1="555.2" x2="726.96" y2="558.7" class="tk"/>
<text x="726.96" y="568" class="tl" text-anchor="middle">5000</text>
<line x1="754.03" y1="555.2" x2="754.03" y2="558.7" class="tk"/>
<text x="754.03" y="568" class="tl" text-anchor="middle">5500</text>
<line x1="781.11" y1="555.2" x2="781.11" y2="558.7" class="tk"/>
<text x="781.11" y="568" class="tl" text-anchor="middle">6000</text>
<line x1="808.18" y1="555.2" x2="808.18" y2="558.7" class="tk"/>
<text x="808.18" y="568" class="tl" text-anchor="middle">6500</text>
<line x1="835.25" y1="555.2" x2="835.25" y2="558.7" class="tk"/>
<text x="835.25" y="568" class="tl" text-anchor="middle">7000</text>
<line x1="862.33" y1="555.2" x2="862.33" y2="558.7" class="tk"/>
<text x="862.33" y="568" class="tl" text-anchor="middle">7500</text>
<line x1="889.4" y1="555.2" x2="889.4" y2="558.7" class="tk"/>
<text x="889.4" y="568" class="tl" text-anchor="middle">8000</text>
<line x1="479.8" y1="555.2" x2="483.3" y2="555.2" class="tk"/>
<text x="478.3" y="558.3" class="tl" text-anchor="end">-10</text>
<line x1="479.8" y1="505.3" x2="483.3" y2="505.3" class="tk"/>
<text x="478.3" y="508.4" class="tl" text-anchor="end">-8</text>
<line x1="479.8" y1="455.4" x2="483.3" y2="455.4" class="tk"/>
<text x="478.3" y="458.5" class="tl" text-anchor="end">-6</text>
<line x1="479.8" y1="405.5" x2="483.3" y2="405.5" class="tk"/>
<text x="478.3" y="408.6" class="tl" text-anchor="end">-4</text>
<line x1="479.8" y1="355.6" x2="483.3" y2="355.6" class="tk"/>
<text x="478.3" y="358.7" class="tl" text-anchor="end">-2</text>
<line x1="479.8" y1="305.7" x2="483.3" y2="305.7" class="tk"/>
<text x="478.3" y="308.8" class="tl" text-anchor="end">0</text>
<text x="686.35" y="579.7" class="al" text-anchor="middle" textLength="64.5" lengthAdjust="spacingAndGlyphs">Frequency (MHz)</text>
<text transform="translate(461.3 430.45) rotate(-90)" x="0" y="0" class="al" text-anchor="middle" textLength="79.5" lengthAdjust="spacingAndGlyphs">Average Gain (dB)</text>
<rect x="790.7" y="509.7" width="94.6" height="40" rx="2.5" class="lg"/>
<line x1="793.2" y1="517" x2="809.7" y2="517" stroke="#1f77b4" class="ll"/>
<text x="815.1" y="520.5" class="lt" textLength="51.8" lengthAdjust="spacingAndGlyphs">FXUB06 - Left</text>
<line x1="793.2" y1="530.1" x2="809.7" y2="530.1" stroke="#ff7f0e" class="ll"/>
<text x="815.1" y="533.6" class="lt" textLength="57.8" lengthAdjust="spacingAndGlyphs">FXUB06 - Right</text>
<line x1="793.2" y1="543.1" x2="809.7" y2="543.1" stroke="#2ca02c" class="ll"/>
<text x="815.1" y="546.6" class="lt" textLength="67.5" lengthAdjust="spacingAndGlyphs">FXUB06 - Straight</text>
<rect x="262.64" y="592.5" width="10.24" height="249.7" class="bd"/>
<rect x="273.86" y="592.5" width="7.37" height="249.7" class="bd"/>
<rect x="306.53" y="592.5" width="4.93" height="249.7" class="bd"/>
<rect x="321.87" y="592.5" width="26.55" height="249.7" class="bd"/>
<rect x="353.84" y="592.5" width="21.13" height="249.7" class="bd"/>
<rect x="408.02" y="592.5" width="92.12" height="249.7" class="bd"/>
<rect x="508.27" y="592.5" width="107.02" height="249.7" class="bd"/>
<line x1="256.3" y1="829.72" x2="662.7" y2="829.72" class="gm"/>
<line x1="256.3" y1="804.75" x2="662.7" y2="804.75" class="gm"/>
<line x1="256.3" y1="779.78" x2="662.7" y2="779.78" class="gm"/>
<line x1="256.3" y1="754.81" x2="662.7" y2="754.81" class="gm"/>
<line x1="256.3" y1="729.84" x2="662.7" y2="729.84" class="gm"/>
<line x1="256.3" y1="704.87" x2="662.7" y2="704.87" class="gm"/>
<line x1="256.3" y1="679.89" x2="662.7" y2="679.89" class="gm"/>
<line x1="256.3" y1="654.92" x2="662.7" y2="654.92" class="gm"/>
<line x1="256.3" y1="629.96" x2="662.7" y2="629.96" class="gm"/>
<line x1="256.3" y1="604.99" x2="662.7" y2="604.99" class="gm"/>
<line x1="256.3" y1="817.23" x2="662.7" y2="817.23" class="g"/>
<line x1="256.3" y1="792.26" x2="662.7" y2="792.26" class="g"/>
<line x1="256.3" y1="767.29" x2="662.7" y2="767.29" class="g"/>
<line x1="256.3" y1="742.32" x2="662.7" y2="742.32" class="g"/>
<line x1="256.3" y1="717.35" x2="662.7" y2="717.35" class="g"/>
<line x1="256.3" y1="692.38" x2="662.7" y2="692.38" class="g"/>
<line x1="256.3" y1="667.41" x2="662.7" y2="667.41" class="g"/>
<line x1="256.3" y1="642.44" x2="662.7" y2="642.44" class="g"/>
<line x1="256.3" y1="617.47" x2="662.7" y2="617.47" class="g"/>
<line x1="283.39" y1="592.5" x2="283.39" y2="842.2" class="g"/>
<line x1="310.49" y1="592.5" x2="310.49" y2="842.2" class="g"/>
<line x1="337.58" y1="592.5" x2="337.58" y2="842.2" class="g"/>
<line x1="364.67" y1="592.5" x2="364.67" y2="842.2" class="g"/>
<line x1="391.77" y1="592.5" x2="391.77" y2="842.2" class="g"/>
<line x1="418.86" y1="592.5" x2="418.86" y2="842.2" class="g"/>
<line x1="445.95" y1="592.5" x2="445.95" y2="842.2" class="g"/>
<line x1="473.05" y1="592.5" x2="473.05" y2="842.2" class="g"/>
<line x1="500.14" y1="592.5" x2="500.14" y2="842.2" class="g"/>
<line x1="527.23" y1="592.5" x2="527.23" y2="842.2" class="g"/>
<line x1="554.33" y1="592.5" x2="554.33" y2="842.2" class="g"/>
<line x1="581.42" y1="592.5" x2="581.42" y2="842.2" class="g"/>
<line x1="608.51" y1="592.5" x2="608.51" y2="842.2" class="g"/>
<line x1="635.61" y1="592.5" x2="635.61" y2="842.2" class="g"/>
<path d="M261.31 762.05L261.91 752.06L262.51 746.53L263.11 736.47L263.39 733.29L263.71 730.41L264.31 723.06L264.91 716.11L265.47 712.06L265.51 715.07L266.11 712.34L266.71 709.85L267.31 709.91L267.84 703.75L267.91 707.05L268.51 706.54L269.11 704.16L269.71 708.19L270.22 709.01L270.31 708.45L270.91 705.47L271.51 708.39L272.11 709.47L272.71 709.07L273.19 710.13L273.31 710.53L273.91 712.02L274.51 709.79L275.11 712.98L275.71 708.21L276.31 707.32L276.75 707.37L276.91 705.69L277.51 704.31L278.11 706.14L278.71 699.8L279.31 699.78L279.72 705.94L279.91 703.47L280.51 702.61L281.11 701.79L281.71 701.52L282.1 699.3L282.31 700.55L282.91 700.77L283.51 706.21L284.11 707.68L284.17 707.27L284.71 710.51L285.31 713.33L285.91 716.53L286.51 725.21L287.11 728.27L287.14 727.41L287.71 732.59L288.31 737.85L288.91 742.02L289.51 745.51L290.11 749.21L290.11 748.18L290.71 752.66L291.31 755.2L291.91 757.57L292.51 757.8L293.08 760.77L293.11 760.84L293.71 761.82L294.31 760.04L294.91 761.19L295.51 763.26L296.05 762.51L296.11 763.49L296.71 762.37L297.31 762.08L297.91 758.96L298.51 756.35L299.11 755.21L299.71 751.93L299.91 750.24L300.31 747.53L300.91 749.08L301.51 741.64L302.11 737.46L302.71 730.89L302.88 730.79L303.31 728.4L303.91 723.76L304.51 719.06L305.11 711.17L305.55 709.09L305.71 708.36L306.31 698.75L306.91 694.93L307.33 688.6L307.51 693.92L308.11 704.44L308.71 716.84L308.82 716.94L309.31 718.33L309.91 711.63L310.51 707.77L311.11 701.94L311.71 697.24L311.78 694.5L312.31 697.49L312.91 692.47L313.51 687.44L314.11 688.3L314.71 685.66L315.31 688.5L315.35 688.14L315.91 686.96L316.51 685.94L317.11 677.49L317.71 672.7L318.31 672.79L318.91 675.08L318.91 668.32L319.51 673.11L320.11 676.69L320.71 673.7L321.31 676.04L321.91 675.27L322.51 681.77L322.77 682.55L323.11 676.78L323.71 677.82L324.31 680.45L324.91 682.01L325.51 681.82L326.11 682.62L326.71 683.62L327.22 684.34L327.31 685.79L327.91 682.57L328.51 681.52L329.11 682.62L329.71 687.62L330.31 685.08L330.91 685.18L331.51 686.83L331.68 686.71L332.11 689.28L332.71 683.26L333.31 685.69L333.91 687.12L334.51 687.54L335.11 685.34L335.71 682.99L336.13 685.74L336.31 684.89L336.91 685.95L337.51 688.22L338.11 687.18L338.71 683.17L339.31 683.63L339.91 685.14L340.51 686.66L341.11 683.8L341.71 683.96L342.07 680.17L342.31 682.09L342.91 681L343.51 682.55L344.11 681.03L344.71 679.19L345.31 678.14L345.91 680.18L346.51 677.68L347.11 680.76L347.71 677.93L348.01 676.66L348.31 678.75L348.91 673.13L349.51 676.54L350.11 671.61L350.71 673.4L351.31 668.79L351.91 666.75L352.46 663.44L352.51 667.64L353.11 667.44L353.71 662.08L354.31 668.61L354.91 664.04L355.51 661.23L356.11 668.93L356.32 663.56L356.71 668.74L357.31 660.1L357.91 673.24L358.51 670.53L359.11 671.95L359.71 674.41L359.88 671.66L360.31 677.47L360.91 678.57L361.51 680.37L362.11 680.39L362.71 680.47L363.31 684.22L363.91 685.63L364.33 684.59L364.51 684.02L365.11 683.78L365.71 686.6L366.31 688.38L366.91 685.38L367.3 684.13L367.51 690.77L368.11 682.88L368.71 686.54L369.31 685.77L369.91 688.35L370.51 685.18L371.11 681.72L371.71 682.28L371.76 684.74L372.31 683.99L372.91 682.09L373.51 681.68L374.11 679.01L374.71 678.54L375.31 679.56L375.91 678.4L376.51 678.46L377.11 675.06L377.7 679.75L377.71 672.63L378.31 677.07L378.91 675.45L379.51 676.91L380.11 675.97L380.71 669.83L381.31 673.79L381.91 675.47L382.51 676.76L383.11 676.92L383.63 675.51L383.71 679.61L384.31 677.62L384.91 677.44L385.51 679.25L386.11 678.17L386.71 677.92L387.31 679.75L387.91 685.13L388.51 680.49L389.11 680.18L389.57 679.24L389.71 680.96L390.31 678.03L390.91 681.73L391.51 681.54L392.11 681.44L392.71 682.53L393.31 681.45L393.91 683.54L394.51 683.62L395.11 684.03L395.51 683.15L395.71 685.1L396.31 683.48L396.91 687.13L397.51 685.09L398.11 688.64L398.71 687.4L399.31 687.6L399.91 686.29L400.51 689.94L401.11 689.68L401.45 689.17L401.71 689.66L402.31 688.67L402.91 685.34L403.51 683.35L404.11 685.12L404.71 682.27L405.31 683.03L405.91 682.22L406.51 678.02L407.11 676.23L407.38 675.48L407.71 673.98L408.31 671.43L408.91 666.25L409.51 672.94L410.11 671.84L410.71 669.92L411.31 669.46L411.91 670.69L412.51 669.89L413.11 667.54L413.71 665.73L414.31 666.83L414.81 666.49L414.91 669.58L415.51 661.37L416.11 663.68L416.71 659.54L417.31 659.69L417.91 665.77L418.51 658.72L419.11 659.19L419.71 658.37L420.31 662.27L420.74 660.03L420.91 657.4L421.51 662.92L422.11 666.02L422.71 665.62L423.31 667.65L423.91 667.33L424.51 668.66L424.6 671.07L425.11 670.39L425.71 674.16L426.31 675.33L426.91 679.02L427.51 683.06L428.11 682.92L428.17 685.42L428.71 684.97L429.31 685.21L429.91 684.64L430.51 687.38L431.11 685.28L431.14 689.04L431.71 683.75L432.31 682L432.91 679.75L433.51 674.49L434.11 674.29L434.71 668.59L435.31 665.61L435.59 666.72L435.91 658.48L436.51 659.84L437.11 657.86L437.71 656.25L438.31 650.89L438.91 646.72L439.51 648.97L440.04 648.28L440.11 651.47L440.71 651.63L441.31 646.25L441.91 650.97L442.51 649.01L443.11 647.03L443.71 652.33L444.31 654.86L444.91 646.88L445.51 657.05L445.98 652.66L446.11 658.94L446.71 656.8L447.31 657.87L447.91 662.12L448.51 659.2L449.11 666.11L449.71 660.09L450.31 662.17L450.43 661.3L450.91 666.07L451.51 665.89L452.11 669.07L452.71 670.81L453.31 671.16L453.91 672.57L454.51 673.28L454.89 671.01L455.11 669.72L455.71 669.59L456.31 673.77L456.91 671.22L457.51 670.47L458 670.82L458.11 672.16L458.71 672.82L459.31 671.34L459.91 668.87L460.51 671.53L460.97 664.67L461.11 668.7L461.71 670.91L462.31 668.35L462.91 669.9L463.51 667.01L464.11 667.99L464.71 667.04L465.31 666.33L465.42 668.28L465.91 670.19L466.51 664.36L467.11 667.9L467.71 666.1L468.31 669.75L468.91 670.12L469.51 672.96L470.11 674.41L470.71 678.03L471.31 679.49L471.36 675.25L471.91 676.68L472.51 679.89L473.11 678.19L473.71 679.64L474.31 677.65L474.91 683.81L475.51 683.73L476.11 682.07L476.71 682.01L477.31 683.13L477.91 686.42L478.51 684.85L478.78 683.44L479.11 685.13L479.71 687.16L480.31 687.54L480.91 687.07L481.51 683.96L482.11 683.44L482.71 682.73L483.31 682.71L483.91 681.92L484.51 678.15L485.11 678.19L485.71 678.57L486.31 680.5L486.91 677.69L487.51 676.89L487.69 680.54L488.11 681.28L488.71 676.11L489.31 677.48L489.91 679.94L490.51 676.43L491.11 678.93L491.71 673.72L492.31 675.92L492.91 677.39L493.51 678.85L494.11 677.1L494.71 670.9L495.31 670.3L495.91 670.76L496.51 673.45L496.6 673.08L497.11 672.94L497.71 670.97L498.31 667.02L498.91 666.34L499.51 664.09L500.11 666.99L500.71 661.28L501.31 663.47L501.91 663.28L502.51 665.03L503.11 659.98L503.71 662.36L504.31 658.73L504.91 663.22L505.5 659.67L505.51 659.8L506.11 658.03L506.71 658.6L507.31 658.28L507.91 658.16L508.51 662.15L509.11 656.84L509.71 659.56L510.31 660.77L510.91 655.84L511.51 653.17L512.11 659.18L512.71 653.82L513.31 655.63L513.91 656.97L514.41 657.62L514.51 656.26L515.11 654.92L515.71 658.72L516.31 656.57L516.91 660.39L517.51 653.21L518.11 654.86L518.71 654.65L519.31 655.74L519.91 654.62L520.51 653.76L521.11 658.09L521.71 652.52L521.83 653.91L522.31 652.96L522.91 650.57L523.51 653.38L524.11 646.44L524.71 653.06L525.31 645.71L525.91 647.83L526.51 647.93L527.11 645.54L527.71 644.53L527.77 648.63L528.31 650.7L528.91 646.57L529.51 643.64L530.11 641.05L530.71 640.18L531.31 644.55L531.91 643.63L532.51 644.65L533.11 644.08L533.71 645.25L534.31 641.03L534.91 641.24L535.19 641L535.51 643.79L536.11 644.17L536.71 645.7L537.31 643.3L537.91 647.41L538.51 649.74L539.11 648.84L539.71 643.1L540.31 650.67L540.91 651.04L541.13 654.56L541.51 652.7L542.11 655.84L542.71 654.53L543.31 657.41L543.91 659.95L544.51 657.93L545.11 660.1L545.71 660.35L546.31 661.89L546.91 660.34L547.07 661.77L547.51 656.23L548.11 659.57L548.71 661.39L549.31 660.21L549.91 655.2L550.51 654.38L551.11 655.92L551.71 654.43L552.31 653.25L552.91 650.87L553.01 650.76L553.51 651.85L554.11 645.81L554.71 643.46L555.31 647.95L555.91 642.13L556.51 644.09L557.11 639.21L557.46 637.3L557.71 643.09L558.31 637.77L558.91 633.49L559.51 635.5L560.11 635.15L560.71 634.93L561.31 635.91L561.91 632.94L562.51 635.27L563.11 637.36L563.4 637.92L563.71 636.83L564.31 635.07L564.91 632.66L565.51 641.33L566.11 635.5L566.71 637.52L567.31 639.09L567.91 640.7L568.51 640.15L569.11 638.84L569.33 640.93L569.71 646.36L570.31 647.94L570.91 641.78L571.51 644.17L572.11 638.56L572.71 643.17L573.31 644.15L573.91 641.1L574.51 645.5L575.11 642.34L575.27 641.48L575.71 632.94L576.31 636.7L576.91 638.77L577.51 634.77L578.11 630.64L578.71 632.5L579.31 636.63L579.73 634.08L579.91 634.31L580.51 632L581.11 634.72L581.71 623.4L582.31 626.59L582.91 633.42L583.51 630.68L584.11 628.1L584.18 626.62L584.71 622.54L585.31 625.28L585.91 625.41L586.51 622.98L587.11 628.01L587.71 626.71L588.31 623.1L588.63 625.73L588.91 623.28L589.51 623.68L590.11 621.54L590.71 628.38L591.31 618.52L591.91 621.53L592.51 624.12L593.11 623.85L593.71 617.22L594.31 618.6L594.57 620.53L594.91 618.68L595.51 618.71L596.11 619.4L596.71 619.27L597.31 621.93L597.91 614.72L598.51 620.86L599.11 617.2L599.71 618.53L600.31 615.63L600.51 621.9L600.91 611.4L601.51 617.85L602.11 613.13L602.71 612.84L603.31 615.99L603.91 611.23L604.51 613.05L605.11 613.49L605.71 607.45L606.31 612.58L606.45 610.44L606.91 605.8L607.51 605.49L608.11 601.87L608.71 603.09L609.31 603.34L609.91 602.96L610.51 600.54L611.11 598.66L611.71 598.75L612.31 598.54L612.38 600.29L612.91 603.28L613.51 601.5L614.11 602.53L614.71 602.97L615.31 608.29L615.91 607.64L616.51 605.68L616.84 612.92L617.11 613.37L617.71 612.26L618.31 612.84L618.91 615.25L619.51 614.78L620.11 621.12L620.71 623.66L621.29 624.34L621.31 622.5L621.91 623.84L622.51 625.79L623.11 629.6L623.71 624.22L624.31 626.54L624.85 625.09L624.91 623.84L625.51 627.72L626.11 629.78L626.71 624.62L627.31 629.65L627.91 628.99L628.51 628.58L629.11 630.8L629.71 626.02L630.2 631.54L630.31 626.81L630.91 629.05L631.51 624.11L632.11 630.24L632.71 628.05L633.31 626.72L633.91 625.7L634.51 628.75L635.11 631.55L635.71 629.73L636.14 627.7L636.31 626.7L636.91 626.12L637.51 627.94L638.11 624.97L638.71 628.01L639.31 631.65L639.91 628.97L640.51 628.85L641.11 627.89L641.71 631.16L642.31 631.08L642.91 633.14L643.51 628.22L643.56 627.23L644.11 628.63L644.71 627.32L645.31 630.35L645.91 629.6L646.51 628.72L647.11 630.78L647.71 633.37L648.31 632.66L648.91 629.08L649.51 630.23L650.11 630.24L650.71 630.3L650.98 627.5L651.31 624.77L651.91 627.8L652.51 623.77L653.11 624.4L653.71 623.96L654.31 626.21L654.91 622.59L655.51 623.93L656.11 623.03L656.71 622.26L656.92 625.7L657.31 622.51L657.91 624.86L658.51 624.52L659.11 619.56L659.71 620.27L660.31 616.92L660.91 625.57L661.51 625.9L662.11 624.52L662.71 625.1L662.86 625.74" stroke="#1f77b4" class="cv" style="stroke-width:1.4px"/>
<path d="M261.31 765.68L261.91 756.91L262.51 748.1L263.11 739.09L263.39 738.03L263.71 733.56L264.31 724.22L264.91 721.98L265.47 717.77L265.51 715.78L266.11 713.01L266.71 708.13L267.31 706.7L267.84 704.18L267.91 706.05L268.51 708.43L269.11 706.51L269.71 704.85L270.22 710.39L270.31 711.03L270.91 710.64L271.51 706.21L272.11 710.3L272.71 708.03L273.19 709.34L273.31 710.71L273.91 712L274.51 708.07L275.11 707.46L275.71 704.66L276.31 705.23L276.75 702.69L276.91 703.12L277.51 704.17L278.11 702.35L278.71 702.51L279.31 702.85L279.72 703.85L279.91 704.88L280.51 700.86L281.11 700.43L281.71 704.34L282.1 704.9L282.31 706.35L282.91 707.71L283.51 711.83L284.11 713.11L284.17 711.7L284.71 717.09L285.31 717.72L285.91 721.79L286.51 727.02L287.11 729.98L287.14 731.64L287.71 733.86L288.31 740.46L288.91 741.41L289.51 747.06L290.11 749.35L290.11 751.13L290.71 752.24L291.31 756.35L291.91 755.55L292.51 759.67L293.08 762.93L293.11 761.87L293.71 762.67L294.31 764.11L294.91 765.77L295.51 763.68L296.05 764.59L296.11 764.3L296.71 764.38L297.31 762.32L297.91 759.63L298.51 757.45L299.11 756.73L299.71 753.8L299.91 753.54L300.31 749.41L300.91 746.48L301.51 743.02L302.11 740.24L302.71 735.28L302.88 733.27L303.31 728.47L303.91 723.91L304.51 716.81L305.11 712.55L305.55 709.57L305.71 705.07L306.31 696L306.91 697.77L307.33 691.61L307.51 694.43L308.11 703.63L308.71 711.75L308.82 712.84L309.31 712.25L309.91 706.31L310.51 704.11L311.11 701.25L311.71 698.46L311.78 698.2L312.31 696.78L312.91 690.92L313.51 690.7L314.11 689.62L314.71 689.47L315.31 687.21L315.35 691.25L315.91 684.76L316.51 682.86L317.11 677.97L317.71 682.95L318.31 677.79L318.91 676.85L318.91 675.75L319.51 677.47L320.11 676.99L320.71 680.83L321.31 677.43L321.91 679.07L322.51 679.75L322.77 682.37L323.11 682.34L323.71 684.37L324.31 684.15L324.91 684.75L325.51 684.27L326.11 686.47L326.71 686.16L327.22 686.29L327.31 682.61L327.91 685.26L328.51 685.26L329.11 683.47L329.71 689.76L330.31 690.29L330.91 689.79L331.51 688.99L331.68 690.78L332.11 684.88L332.71 690.62L333.31 684.5L333.91 688.77L334.51 688.82L335.11 689.69L335.71 690.09L336.13 690.29L336.31 687.68L336.91 687.9L337.51 687.79L338.11 689.8L338.71 689.1L339.31 686.96L339.91 691.89L340.51 688.12L341.11 689.43L341.71 689.02L342.07 689.04L342.31 691.49L342.91 689.02L343.51 687.48L344.11 688.69L344.71 687.7L345.31 686.42L345.91 690.64L346.51 690.7L347.11 685.36L347.71 690.64L348.01 690.94L348.31 684.54L348.91 687.25L349.51 685.07L350.11 686.22L350.71 677.72L351.31 683.6L351.91 680.48L352.46 681.18L352.51 681.91L353.11 674.32L353.71 678.21L354.31 677.58L354.91 678.51L355.51 679.43L356.11 678.86L356.32 675.79L356.71 679.21L357.31 676.77L357.91 680.64L358.51 679.49L359.11 680.26L359.71 681.59L359.88 678.33L360.31 681.33L360.91 680.31L361.51 685.21L362.11 686.58L362.71 681.92L363.31 680.99L363.91 686.17L364.33 684.86L364.51 684.23L365.11 690.62L365.71 685.62L366.31 684.63L366.91 686.23L367.3 687.41L367.51 689.92L368.11 687.63L368.71 684.77L369.31 686.33L369.91 690.84L370.51 684.08L371.11 687.34L371.71 689.69L371.76 687.96L372.31 687.03L372.91 685.69L373.51 687.6L374.11 688.19L374.71 687.49L375.31 688.89L375.91 687.18L376.51 689.12L377.11 686.77L377.7 688.12L377.71 685.74L378.31 689.59L378.91 688.56L379.51 687.39L380.11 684.1L380.71 686.35L381.31 680.32L381.91 685.29L382.51 686.3L383.11 684.32L383.63 686.3L383.71 687.27L384.31 689.48L384.91 686.03L385.51 682.97L386.11 681.47L386.71 685.68L387.31 687.73L387.91 688.16L388.51 686.19L389.11 684.73L389.57 684.64L389.71 685.73L390.31 686.17L390.91 687.11L391.51 686.15L392.11 689.74L392.71 686.1L393.31 686.67L393.91 687.64L394.51 687.34L395.11 684.14L395.51 682.16L395.71 682.73L396.31 685.84L396.91 686.12L397.51 685.48L398.11 686.18L398.71 686.95L399.31 682.61L399.91 688.59L400.51 688.19L401.11 683.68L401.45 681.35L401.71 681.79L402.31 677.5L402.91 679.33L403.51 676.53L404.11 676.87L404.71 675.27L405.31 679.14L405.91 671.89L406.51 673.31L407.11 670.77L407.38 674.62L407.71 672.98L408.31 666.4L408.91 666.59L409.51 668.38L410.11 665.38L410.71 666.77L411.31 664.95L411.91 661.33L412.51 662.12L413.11 662.95L413.71 660.77L414.31 660.36L414.81 660.21L414.91 658.89L415.51 661.44L416.11 654.29L416.71 657.43L417.31 654.07L417.91 655.38L418.51 655.61L419.11 654.41L419.71 654L420.31 653.82L420.74 653.2L420.91 651.45L421.51 654.33L422.11 655.94L422.71 657.11L423.31 657.32L423.91 659.17L424.51 655.7L424.6 658.69L425.11 661.59L425.71 666.25L426.31 668.71L426.91 668.72L427.51 668.26L428.11 673.83L428.17 675.08L428.71 675.9L429.31 674.03L429.91 673.25L430.51 673.08L431.11 671.73L431.14 676.08L431.71 673.38L432.31 675.93L432.91 673.29L433.51 670.38L434.11 665.19L434.71 666.64L435.31 664.5L435.59 659.4L435.91 658.69L436.51 658.15L437.11 661.28L437.71 656.3L438.31 653.09L438.91 656.56L439.51 657.85L440.04 653.6L440.11 661.07L440.71 654.85L441.31 659.31L441.91 658.61L442.51 655.43L443.11 657.09L443.71 657.6L444.31 656.9L444.91 659.71L445.51 658.23L445.98 654.13L446.11 658.48L446.71 655.74L447.31 658.09L447.91 659.41L448.51 658.83L449.11 661.76L449.71 659.6L450.31 659.03L450.43 664.21L450.91 662.54L451.51 661.11L452.11 662.05L452.71 661.65L453.31 663.28L453.91 661.22L454.51 667.69L454.89 666.54L455.11 658.61L455.71 661.53L456.31 663.62L456.91 662.25L457.51 658.86L458 665.3L458.11 661.02L458.71 665.51L459.31 665.29L459.91 668.27L460.51 663.45L460.97 670.12L461.11 663.45L461.71 670.33L462.31 670.14L462.91 669.49L463.51 666.84L464.11 673.35L464.71 672.18L465.31 667.43L465.42 665.53L465.91 670.26L466.51 670.5L467.11 674.54L467.71 673.96L468.31 674.98L468.91 673.81L469.51 677.44L470.11 674.74L470.71 673.18L471.31 671.69L471.36 677.8L471.91 675.63L472.51 673.49L473.11 675.24L473.71 676.18L474.31 678.34L474.91 672.28L475.51 675.66L476.11 677.81L476.71 676.96L477.31 677.38L477.91 679.47L478.51 673.13L478.78 673.5L479.11 676.85L479.71 677.62L480.31 674.52L480.91 672.72L481.51 670.53L482.11 673.97L482.71 673.03L483.31 669.61L483.91 670.48L484.51 669.19L485.11 672.34L485.71 670.51L486.31 673.31L486.91 673.34L487.51 670.9L487.69 672.74L488.11 672.29L488.71 673.09L489.31 668.58L489.91 670.82L490.51 673.32L491.11 670.51L491.71 667.95L492.31 669.21L492.91 673.53L493.51 667.38L494.11 666.61L494.71 669.78L495.31 666.67L495.91 663.71L496.51 663.38L496.6 666.91L497.11 665.14L497.71 669.39L498.31 664.22L498.91 661.8L499.51 662.55L500.11 660.81L500.71 665.68L501.31 660.49L501.91 665.18L502.51 662.41L503.11 665.33L503.71 659.9L504.31 661.77L504.91 654.67L505.5 658.38L505.51 657.72L506.11 662.21L506.71 659.18L507.31 661.08L507.91 657.79L508.51 656.44L509.11 659.3L509.71 662.58L510.31 659.38L510.91 663.22L511.51 658.72L512.11 658.66L512.71 658.66L513.31 658.89L513.91 657.87L514.41 658.93L514.51 657.58L515.11 657.06L515.71 663.1L516.31 661.58L516.91 658.79L517.51 658.06L518.11 655.72L518.71 660.7L519.31 657.54L519.91 663.49L520.51 654.51L521.11 659.19L521.71 660.99L521.83 656.75L522.31 662.65L522.91 659.92L523.51 659.63L524.11 654.93L524.71 659.3L525.31 659.09L525.91 656.93L526.51 661.01L527.11 657.79L527.71 652.13L527.77 658.45L528.31 662.48L528.91 657.84L529.51 662.03L530.11 659.81L530.71 662.23L531.31 656.84L531.91 659.52L532.51 663.45L533.11 663.13L533.71 660.44L534.31 666.57L534.91 665.95L535.19 663.22L535.51 660.61L536.11 666.82L536.71 664.56L537.31 667.52L537.91 668.65L538.51 665.53L539.11 666.07L539.71 668.64L540.31 666.81L540.91 663.68L541.13 669.71L541.51 669.57L542.11 668.51L542.71 671.88L543.31 670.88L543.91 671.77L544.51 675.26L545.11 671.37L545.71 671.47L546.31 675.1L546.91 672.79L547.07 677.46L547.51 674.03L548.11 671.87L548.71 674.6L549.31 670.6L549.91 678.09L550.51 674.95L551.11 676.26L551.71 675.69L552.31 674.77L552.91 671.84L553.01 675.72L553.51 673.1L554.11 671.88L554.71 668.85L555.31 675.73L555.91 672.16L556.51 671.46L557.11 667.83L557.46 673.79L557.71 671.33L558.31 673.34L558.91 670.56L559.51 668.28L560.11 670.91L560.71 665.67L561.31 665.2L561.91 668.04L562.51 669.39L563.11 669.74L563.4 666.8L563.71 666.47L564.31 666.7L564.91 665.27L565.51 664.12L566.11 665.95L566.71 663.25L567.31 663.52L567.91 666.46L568.51 663.96L569.11 662.02L569.33 664.74L569.71 662.68L570.31 664.37L570.91 660.64L571.51 660.68L572.11 659L572.71 664.75L573.31 665.24L573.91 664.58L574.51 662.46L575.11 661.89L575.27 660.83L575.71 662.57L576.31 660.53L576.91 658.3L577.51 662.64L578.11 661.97L578.71 660.59L579.31 658.64L579.73 657.47L579.91 658.41L580.51 658.06L581.11 654.13L581.71 655.21L582.31 653.13L582.91 657.8L583.51 651.32L584.11 651.2L584.18 651.93L584.71 654.14L585.31 651.19L585.91 657.48L586.51 654.87L587.11 647.19L587.71 653.41L588.31 653.61L588.63 649.68L588.91 652.47L589.51 652.82L590.11 651L590.71 652.22L591.31 653.21L591.91 651.07L592.51 652.07L593.11 649.22L593.71 653.51L594.31 650.33L594.57 654.73L594.91 656.65L595.51 655.47L596.11 649.97L596.71 651.73L597.31 649.63L597.91 650.88L598.51 647.27L599.11 646.3L599.71 648.11L600.31 645.79L600.51 650.54L600.91 649.01L601.51 647.64L602.11 646.1L602.71 645.75L603.31 648.24L603.91 645.92L604.51 645.62L605.11 649.95L605.71 645.64L606.31 644.53L606.45 644.58L606.91 648.11L607.51 643.71L608.11 643.65L608.71 647.34L609.31 647.41L609.91 647.94L610.51 642.41L611.11 645.49L611.71 643.04L612.31 645.4L612.38 640.58L612.91 643.91L613.51 647L614.11 644.89L614.71 638.58L615.31 646.8L615.91 645.28L616.51 643.74L616.84 644.39L617.11 643.62L617.71 647.18L618.31 644.32L618.91 640.54L619.51 642.34L620.11 648.38L620.71 647.35L621.29 646.8L621.31 642.98L621.91 646.59L622.51 648.19L623.11 646.39L623.71 648.32L624.31 649.7L624.85 649.67L624.91 648.29L625.51 648.5L626.11 644.32L626.71 646.15L627.31 648.3L627.91 649.46L628.51 644.77L629.11 645.79L629.71 642.01L630.2 638.68L630.31 641.83L630.91 640.8L631.51 636.54L632.11 635.8L632.71 637.45L633.31 635.75L633.91 638.04L634.51 633.4L635.11 638.51L635.71 634.94L636.14 637.21L636.31 632.56L636.91 638.49L637.51 636.64L638.11 641.16L638.71 631.99L639.31 631.51L639.91 637.58L640.51 637.93L641.11 631.39L641.71 636.89L642.31 637.76L642.91 638.79L643.51 635.59L643.56 631.54L644.11 630.47L644.71 640.07L645.31 635.87L645.91 637.13L646.51 633.85L647.11 633.95L647.71 633.89L648.31 632.03L648.91 633.51L649.51 631.46L650.11 633.1L650.71 636.76L650.98 634.13L651.31 632.44L651.91 638.26L652.51 637.28L653.11 634.28L653.71 630.03L654.31 637.44L654.91 637.58L655.51 633.1L656.11 638.1L656.71 632.78L656.92 634.2L657.31 633.83L657.91 635.55L658.51 634.96L659.11 638.95L659.71 634.86L660.31 637L660.91 636.28L661.51 637.02L662.11 634.7L662.71 636.89L662.86 640.39" stroke="#ff7f0e" class="cv" style="stroke-width:1.4px"/>
<path d="M261.31 760.65L261.91 750.97L262.51 740.69L263.11 734.11L263.39 729.05L263.71 726.55L264.31 720.98L264.91 713.64L265.47 708.36L265.51 708.85L266.11 705.49L266.71 703.02L267.31 696.25L267.84 696.22L267.91 700.2L268.51 699.58L269.11 700.65L269.71 701.97L270.22 702.04L270.31 701.67L270.91 703.35L271.51 705.05L272.11 705.21L272.71 705.17L273.19 703.59L273.31 705.63L273.91 703.03L274.51 703.03L275.11 703.27L275.71 701.93L276.31 702.18L276.75 700.82L276.91 699.76L277.51 696.52L278.11 694.82L278.71 692.03L279.31 693.42L279.72 689.79L279.91 687.14L280.51 684.77L281.11 686.9L281.71 681.57L282.1 683.71L282.31 683.72L282.91 689.48L283.51 692.45L284.11 701.07L284.17 701.16L284.71 706.56L285.31 712.29L285.91 715.2L286.51 719.46L287.11 725.51L287.14 722.72L287.71 729.11L288.31 732.23L288.91 736.41L289.51 740.13L290.11 743.71L290.11 746.19L290.71 749.54L291.31 752.1L291.91 755.85L292.51 757.34L293.08 758.33L293.11 757.92L293.71 760.31L294.31 761.14L294.91 762.11L295.51 760.96L296.05 761.48L296.11 760.67L296.71 762.03L297.31 760.44L297.91 758.45L298.51 755.75L299.11 753.13L299.71 750.32L299.91 750.84L300.31 747.32L300.91 745.42L301.51 740.88L302.11 735.12L302.71 730.03L302.88 729.57L303.31 727.01L303.91 720.04L304.51 717.12L305.11 712.39L305.55 707.65L305.71 702.57L306.31 694.81L306.91 694.93L307.33 694.64L307.51 692.03L308.11 703.22L308.71 710.56L308.82 710.27L309.31 711.65L309.91 705.67L310.51 703.15L311.11 700L311.71 693.46L311.78 696.78L312.31 689.58L312.91 692.33L313.51 689.57L314.11 693.33L314.71 687.52L315.31 684.59L315.35 689.11L315.91 681.22L316.51 682.55L317.11 677.47L317.71 679.41L318.31 674.6L318.91 675.93L318.91 674.06L319.51 671.88L320.11 669.82L320.71 678.26L321.31 675.29L321.91 672.72L322.51 674.82L322.77 677.67L323.11 672.82L323.71 681.3L324.31 677.13L324.91 678.06L325.51 682.61L326.11 681.65L326.71 680.32L327.22 684.83L327.31 684.03L327.91 686.06L328.51 682.75L329.11 683L329.71 686.96L330.31 685.49L330.91 682.75L331.51 686.24L331.68 688.66L332.11 686.47L332.71 690.77L333.31 687.96L333.91 689.23L334.51 686.83L335.11 688.7L335.71 690.04L336.13 691.5L336.31 690.78L336.91 692.36L337.51 686.29L338.11 690.25L338.71 689.8L339.31 687.96L339.91 689.64L340.51 688.12L341.11 690.1L341.71 688.43L342.07 689.89L342.31 687.14L342.91 690.95L343.51 688.98L344.11 691.21L344.71 687.16L345.31 685.98L345.91 686.69L346.51 685L347.11 683.34L347.71 684.8L348.01 684.36L348.31 682.91L348.91 682.72L349.51 680.76L350.11 682.13L350.71 678.28L351.31 683.51L351.91 679.32L352.46 680.48L352.51 676.03L353.11 678.36L353.71 676.47L354.31 677.88L354.91 676.87L355.51 670.99L356.11 676.55L356.32 670.95L356.71 677.15L357.31 675.28L357.91 674.59L358.51 680.46L359.11 681.07L359.71 680.68L359.88 681.55L360.31 684.79L360.91 682.29L361.51 684.33L362.11 690.51L362.71 686.46L363.31 689.54L363.91 690.61L364.33 692.22L364.51 692.35L365.11 687.21L365.71 692.16L366.31 696.21L366.91 693.32L367.3 698.15L367.51 695.31L368.11 692.35L368.71 694.98L369.31 696.73L369.91 691.12L370.51 692.58L371.11 689.24L371.71 689.36L371.76 690.65L372.31 691.18L372.91 690.68L373.51 690.25L374.11 694.22L374.71 687.54L375.31 685.95L375.91 690.39L376.51 689.57L377.11 686.38L377.7 692.21L377.71 687.62L378.31 686.12L378.91 689.4L379.51 689.62L380.11 692.68L380.71 685.09L381.31 685.4L381.91 687.16L382.51 686.73L383.11 687.35L383.63 686.11L383.71 684.49L384.31 686.67L384.91 689L385.51 689.33L386.11 686.78L386.71 689.28L387.31 689.26L387.91 687.74L388.51 688.17L389.11 689.02L389.57 694.25L389.71 689.27L390.31 687.19L390.91 688.39L391.51 687.37L392.11 690.27L392.71 683.6L393.31 685.24L393.91 688.54L394.51 687.37L395.11 686.26L395.51 687.39L395.71 683.31L396.31 686.32L396.91 683.12L397.51 682.58L398.11 685.81L398.71 682.99L399.31 683.58L399.91 685.21L400.51 681.57L401.11 684.47L401.45 687.5L401.71 682.43L402.31 684.19L402.91 683.16L403.51 678.29L404.11 677.26L404.71 679.2L405.31 673.93L405.91 677.58L406.51 677.22L407.11 676.91L407.38 676.56L407.71 678.07L408.31 673.9L408.91 676.86L409.51 674.5L410.11 673.9L410.71 671.84L411.31 673.67L411.91 669.38L412.51 672.03L413.11 672.32L413.71 667.81L414.31 666.59L414.81 666.53L414.91 668.01L415.51 668.24L416.11 668.65L416.71 670.17L417.31 668.78L417.91 664.96L418.51 662.75L419.11 660.27L419.71 664.51L420.31 663.54L420.74 661.63L420.91 661.92L421.51 662.44L422.11 657.64L422.71 664.63L423.31 666.94L423.91 667.52L424.51 667.1L424.6 669.8L425.11 672.41L425.71 677.79L426.31 679.15L426.91 681.28L427.51 683.01L428.11 683.2L428.17 685.11L428.71 685.77L429.31 690.98L429.91 695.69L430.51 697.52L431.11 698.02L431.14 696.45L431.71 697.75L432.31 694.26L432.91 689.33L433.51 690.98L434.11 688.42L434.71 682.6L435.31 682.84L435.59 678.18L435.91 681.19L436.51 682.97L437.11 677.57L437.71 680.06L438.31 676.23L438.91 672.6L439.51 668.77L440.04 672.82L440.11 672.44L440.71 665.89L441.31 666.19L441.91 667.49L442.51 661.05L443.11 661.59L443.71 654.1L444.31 654.87L444.91 657.58L445.51 652.18L445.98 651.35L446.11 651.49L446.71 654.36L447.31 652.36L447.91 657.14L448.51 660.2L449.11 664.06L449.71 661.11L450.31 667.2L450.43 665.05L450.91 664.35L451.51 667.54L452.11 671.34L452.71 672.85L453.31 672.72L453.91 672.25L454.51 675.37L454.89 674.61L455.11 674.78L455.71 675.57L456.31 679.31L456.91 673.42L457.51 676.34L458 674.84L458.11 679.1L458.71 681.02L459.31 683.44L459.91 682.13L460.51 684.93L460.97 687.52L461.11 686.7L461.71 688.26L462.31 689.45L462.91 690.89L463.51 691.33L464.11 693.31L464.71 690.47L465.31 692.67L465.42 691.01L465.91 693.21L466.51 691.72L467.11 693.58L467.71 694.3L468.31 688.93L468.91 689L469.51 690.29L470.11 691.63L470.71 689.65L471.31 688.41L471.36 687.4L471.91 686.17L472.51 687.24L473.11 686.94L473.71 685.76L474.31 683.79L474.91 681.26L475.51 682.25L476.11 682.71L476.71 680.69L477.31 683.21L477.91 679.29L478.51 681.13L478.78 682.28L479.11 683.02L479.71 681.51L480.31 683.13L480.91 679.16L481.51 678.48L482.11 681.98L482.71 677.67L483.31 678.86L483.91 675.34L484.51 680.93L485.11 679.83L485.71 676.52L486.31 674.17L486.91 678.03L487.51 677.77L487.69 679.55L488.11 680.77L488.71 677.12L489.31 675.91L489.91 675.61L490.51 675.23L491.11 672.73L491.71 673.46L492.31 674.91L492.91 671.34L493.51 671.75L494.11 676.82L494.71 672.46L495.31 675.25L495.91 675.5L496.51 672.74L496.6 674.45L497.11 671.81L497.71 669.59L498.31 670.37L498.91 669.76L499.51 668.78L500.11 667.51L500.71 665.27L501.31 667.37L501.91 663.36L502.51 661.76L503.11 663.86L503.71 658.52L504.31 660.13L504.91 663.08L505.5 659.47L505.51 662.66L506.11 658.55L506.71 657.79L507.31 658.45L507.91 657.36L508.51 657.7L509.11 657.38L509.71 660.2L510.31 659.15L510.91 657.62L511.51 656.27L512.11 665.57L512.71 657.45L513.31 661.21L513.91 655.08L514.41 656.11L514.51 660.77L515.11 655.3L515.71 655.46L516.31 657.97L516.91 656.53L517.51 657.73L518.11 658.97L518.71 660.83L519.31 659.38L519.91 659.79L520.51 662.33L521.11 662.63L521.71 658.52L521.83 655L522.31 656.88L522.91 661.35L523.51 657.06L524.11 655.72L524.71 655.44L525.31 659.45L525.91 654.94L526.51 653.2L527.11 651.94L527.71 650.78L527.77 660.22L528.31 653.34L528.91 653.83L529.51 652.75L530.11 656.16L530.71 651.25L531.31 649.16L531.91 652.53L532.51 654.87L533.11 659.68L533.71 654.22L534.31 652.52L534.91 654.26L535.19 653.03L535.51 653.18L536.11 655.85L536.71 657.15L537.31 655.91L537.91 661.25L538.51 659.76L539.11 661.53L539.71 661.39L540.31 664.66L540.91 665.86L541.13 666.79L541.51 664.11L542.11 668.41L542.71 666.85L543.31 669.44L543.91 671.93L544.51 674.61L545.11 671.31L545.71 670.7L546.31 674L546.91 676.73L547.07 673.51L547.51 679.53L548.11 670.59L548.71 677.9L549.31 677.3L549.91 677.29L550.51 673.3L551.11 678.02L551.71 677.75L552.31 678.08L552.91 675.19L553.01 675.19L553.51 678.74L554.11 677.37L554.71 676.68L555.31 676.56L555.91 679.6L556.51 676.94L557.11 681.26L557.46 680.47L557.71 676.95L558.31 680.49L558.91 681.03L559.51 677.67L560.11 672.67L560.71 672.29L561.31 673.4L561.91 666.76L562.51 666.89L563.11 668.6L563.4 664.67L563.71 663.25L564.31 664.99L564.91 665.45L565.51 661.24L566.11 655.79L566.71 653.72L567.31 655.6L567.91 650.53L568.51 653.42L569.11 654.59L569.33 645.53L569.71 650.75L570.31 650.64L570.91 647.16L571.51 648.01L572.11 646.92L572.71 646.99L573.31 649.89L573.91 643.25L574.51 639.69L575.11 639.09L575.27 638.57L575.71 643.39L576.31 642.93L576.91 643.94L577.51 644.21L578.11 648.61L578.71 648.47L579.31 649.3L579.73 645.85L579.91 647L580.51 645.6L581.11 648.23L581.71 651.11L582.31 649.02L582.91 651.48L583.51 658.88L584.11 654.39L584.18 651.28L584.71 652.6L585.31 656.21L585.91 659.23L586.51 657.75L587.11 660.64L587.71 659.8L588.31 656.71L588.63 661.8L588.91 658.27L589.51 663.54L590.11 657.25L590.71 657.66L591.31 655.92L591.91 655.68L592.51 656.46L593.11 653.9L593.71 656.21L594.31 653.39L594.57 655.79L594.91 651.59L595.51 653.52L596.11 652.21L596.71 647.79L597.31 653.07L597.91 649.34L598.51 645.72L599.11 642.62L599.71 641.61L600.31 640.11L600.51 640.8L600.91 636.5L601.51 638.02L602.11 635.01L602.71 639.07L603.31 635.45L603.91 636.2L604.51 636.54L605.11 630.59L605.71 633.05L606.31 627.93L606.45 628.3L606.91 623.62L607.51 624.93L608.11 626.98L608.71 623.52L609.31 620.27L609.91 620.16L610.51 617.46L611.11 616.92L611.71 614.6L612.31 620.56L612.38 620.52L612.91 617.87L613.51 615.74L614.11 619.71L614.71 626.76L615.31 620.51L615.91 624.37L616.51 626.24L616.84 630.2L617.11 625.93L617.71 631.3L618.31 630.41L618.91 633.33L619.51 633.1L620.11 639.18L620.71 638.61L621.29 640.2L621.31 644.35L621.91 644.77L622.51 652.24L623.11 650.17L623.71 651.63L624.31 653.3L624.85 660.16L624.91 656.53L625.51 652.63L626.11 653.58L626.71 650.81L627.31 652.74L627.91 648.88L628.51 647.64L629.11 648.96L629.71 650.12L630.2 648.17L630.31 647.74L630.91 645.05L631.51 638L632.11 642.24L632.71 640.94L633.31 641.59L633.91 643.48L634.51 640.18L635.11 633.46L635.71 637.32L636.14 636.61L636.31 638.91L636.91 637.05L637.51 632.64L638.11 635.16L638.71 636.68L639.31 632.63L639.91 637.43L640.51 637.19L641.11 640.63L641.71 637.91L642.31 636.83L642.91 638.18L643.51 638.65L643.56 640.97L644.11 636.41L644.71 633.38L645.31 645.63L645.91 640.9L646.51 639.28L647.11 645.17L647.71 636.64L648.31 637.6L648.91 638.58L649.51 640.95L650.11 638.77L650.71 641.92L650.98 639.22L651.31 643.31L651.91 641.45L652.51 636.48L653.11 640.62L653.71 638.13L654.31 640.75L654.91 641.25L655.51 646.84L656.11 640.92L656.71 637.62L656.92 641.8L657.31 638.69L657.91 645.88L658.51 643.01L659.11 644.89L659.71 639.81L660.31 637.91L660.91 640.78L661.51 636.29L662.11 636.83L662.71 636.83L662.86 638.2" stroke="#2ca02c" class="cv" style="stroke-width:1.4px"/>
<rect x="256.3" y="592.5" width="406.4" height="249.7" class="sp"/>
<line x1="256.3" y1="842.2" x2="256.3" y2="845.7" class="tk"/>
<text x="256.3" y="855" class="tl" text-anchor="middle">500</text>
<line x1="283.39" y1="842.2" x2="283.39" y2="845.7" class="tk"/>
<text x="283.39" y="855" class="tl" text-anchor="middle">1000</text>
<line x1="310.49" y1="842.2" x2="310.49" y2="845.7" class="tk"/>
<text x="310.49" y="855" class="tl" text-anchor="middle">1500</text>
<line x1="337.58" y1="842.2" x2="337.58" y2="845.7" class="tk"/>
<text x="337.58" y="855" class="tl" text-anchor="middle">2000</text>
<line x1="364.67" y1="842.2" x2="364.67" y2="845.7" class="tk"/>
<text x="364.67" y="855" class="tl" text-anchor="middle">2500</text>
<line x1="391.77" y1="842.2" x2="391.77" y2="845.7" class="tk"/>
<text x="391.77" y="855" class="tl" text-anchor="middle">3000</text>
<line x1="418.86" y1="842.2" x2="418.86" y2="845.7" class="tk"/>
<text x="418.86" y="855" class="tl" text-anchor="middle">3500</text>
<line x1="445.95" y1="842.2" x2="445.95" y2="845.7" class="tk"/>
<text x="445.95" y="855" class="tl" text-anchor="middle">4000</text>
<line x1="473.05" y1="842.2" x2="473.05" y2="845.7" class="tk"/>
<text x="473.05" y="855" class="tl" text-anchor="middle">4500</text>
<line x1="500.14" y1="842.2" x2="500.14" y2="845.7" class="tk"/>
<text x="500.14" y="855" class="tl" text-anchor="middle">5000</text>
<line x1="527.23" y1="842.2" x2="527.23" y2="845.7" class="tk"/>
<text x="527.23" y="855" class="tl" text-anchor="middle">5500</text>
<line x1="554.33" y1="842.2" x2="554.33" y2="845.7" class="tk"/>
<text x="554.33" y="855" class="tl" text-anchor="middle">6000</text>
<line x1="581.42" y1="842.2" x2="581.42" y2="845.7" class="tk"/>
<text x="581.42" y="855" class="tl" text-anchor="middle">6500</text>
<line x1="608.51" y1="842.2" x2="608.51" y2="845.7" class="tk"/>
<text x="608.51" y="855" class="tl" text-anchor="middle">7000</text>
<line x1="635.61" y1="842.2" x2="635.61" y2="845.7" class="tk"/>
<text x="635.61" y="855" class="tl" text-anchor="middle">7500</text>
<line x1="662.7" y1="842.2" x2="662.7" y2="845.7" class="tk"/>
<text x="662.7" y="855" class="tl" text-anchor="middle">8000</text>
<line x1="252.8" y1="842.2" x2="256.3" y2="842.2" class="tk"/>
<text x="251.3" y="845.3" class="tl" text-anchor="end">-10</text>
<line x1="252.8" y1="817.23" x2="256.3" y2="817.23" class="tk"/>
<text x="251.3" y="820.33" class="tl" text-anchor="end">-8</text>
<line x1="252.8" y1="792.26" x2="256.3" y2="792.26" class="tk"/>
<text x="251.3" y="795.36" class="tl" text-anchor="end">-6</text>
<line x1="252.8" y1="767.29" x2="256.3" y2="767.29" class="tk"/>
<text x="251.3" y="770.39" class="tl" text-anchor="end">-4</text>
<line x1="252.8" y1="742.32" x2="256.3" y2="742.32" class="tk"/>
<text x="251.3" y="745.42" class="tl" text-anchor="end">-2</text>
<line x1="252.8" y1="717.35" x2="256.3" y2="717.35" class="tk"/>
<text x="251.3" y="720.45" class="tl" text-anchor="end">0</text>
<line x1="252.8" y1="692.38" x2="256.3" y2="692.38" class="tk"/>
<text x="251.3" y="695.48" class="tl" text-anchor="end">2</text>
<line x1="252.8" y1="667.41" x2="256.3" y2="667.41" class="tk"/>
<text x="251.3" y="670.51" class="tl" text-anchor="end">4</text>
<line x1="252.8" y1="642.44" x2="256.3" y2="642.44" class="tk"/>
<text x="251.3" y="645.54" class="tl" text-anchor="end">6</text>
<line x1="252.8" y1="617.47" x2="256.3" y2="617.47" class="tk"/>
<text x="251.3" y="620.57" class="tl" text-anchor="end">8</text>
<line x1="252.8" y1="592.5" x2="256.3" y2="592.5" class="tk"/>
<text x="251.3" y="595.6" class="tl" text-anchor="end">10</text>
<text x="459.5" y="866.7" class="al" text-anchor="middle" textLength="64.5" lengthAdjust="spacingAndGlyphs">Frequency (MHz)</text>
<text transform="translate(234.1 717.35) rotate(-90)" x="0" y="0" class="al" text-anchor="middle" textLength="66.5" lengthAdjust="spacingAndGlyphs">Peak Gain (dBi)</text>
<rect x="259.3" y="597.3" width="95.4" height="42" rx="2.5" class="lg"/>
<line x1="261.8" y1="604.6" x2="278.3" y2="604.6" stroke="#1f77b4" class="ll"/>
<text x="283.7" y="608.1" class="lt" textLength="51.8" lengthAdjust="spacingAndGlyphs">FXUB06 - Left</text>
<line x1="261.8" y1="617.7" x2="278.3" y2="617.7" stroke="#ff7f0e" class="ll"/>
<text x="283.7" y="621.2" class="lt" textLength="57.8" lengthAdjust="spacingAndGlyphs">FXUB06 - Right</text>
<line x1="261.8" y1="630.7" x2="278.3" y2="630.7" stroke="#2ca02c" class="ll"/>
<text x="283.7" y="634.2" class="lt" textLength="67.5" lengthAdjust="spacingAndGlyphs">FXUB06 - Straight</text>
<text x="211" y="15.7" class="tt" text-anchor="middle" textLength="74.3" lengthAdjust="spacingAndGlyphs">Return Loss</text>
<text x="652.3" y="15.7" class="tt" text-anchor="middle" textLength="40" lengthAdjust="spacingAndGlyphs">VSWR</text>
<text x="55.8" y="595" class="tt" textLength="61" lengthAdjust="spacingAndGlyphs">Efficiency</text>
<text x="783.4" y="591" class="tt" textLength="87.2" lengthAdjust="spacingAndGlyphs">Average Gain</text>
<text x="89" y="714.7" class="tt" textLength="65.8" lengthAdjust="spacingAndGlyphs">Peak Gain</text>
</g></svg>
</div></body></html>
